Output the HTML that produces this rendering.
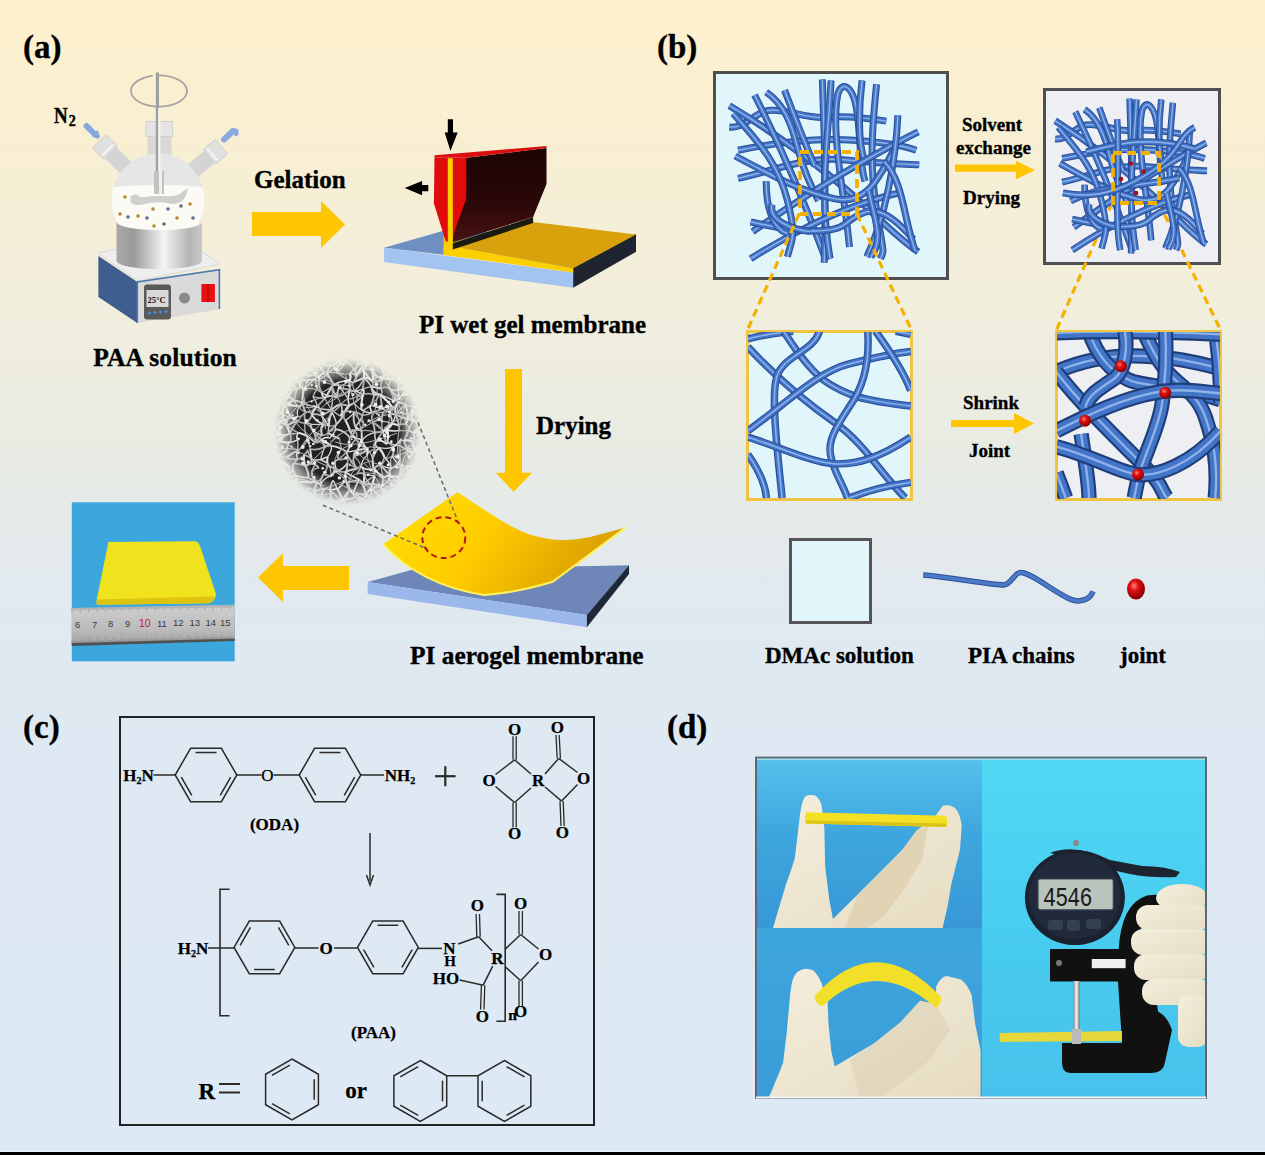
<!DOCTYPE html>
<html><head><meta charset="utf-8">
<style>
html,body{margin:0;padding:0;width:1265px;height:1155px;overflow:hidden;}
body{background:#dde9f4;}
svg{display:block;}
.t{font-family:"Liberation Serif",serif;font-weight:bold;fill:#000;stroke:#000;stroke-width:0.35px;}
</style></head>
<body>
<svg width="1265" height="1155" viewBox="0 0 1265 1155">
<defs>
<linearGradient id="bg" x1="0" y1="0" x2="0" y2="1">
<stop offset="0" stop-color="#fdf0cc"/>
<stop offset="0.13" stop-color="#f8efd3"/>
<stop offset="0.26" stop-color="#f1eedc"/>
<stop offset="0.4" stop-color="#e8ebe4"/>
<stop offset="0.5" stop-color="#e2e9ee"/>
<stop offset="0.58" stop-color="#dfe9f2"/>
<stop offset="1" stop-color="#dde9f5"/>
</linearGradient>
</defs>
<rect x="0" y="0" width="1265" height="1155" fill="url(#bg)"/>
<rect x="0" y="1150.8" width="1265" height="1.2" fill="#eaf6fd"/>
<rect x="0" y="1152" width="1265" height="3" fill="#000"/>


<!-- FLASK -->
<defs>
<linearGradient id="metal" x1="0" y1="0" x2="1" y2="0">
<stop offset="0" stop-color="#a9a9a9"/><stop offset="0.2" stop-color="#9a9a9a"/><stop offset="0.55" stop-color="#f4f4f4"/><stop offset="0.85" stop-color="#b5b5b5"/><stop offset="1" stop-color="#c8c8c8"/>
</linearGradient>
<linearGradient id="glass" x1="0" y1="0" x2="1" y2="0">
<stop offset="0" stop-color="#d0d0d0"/><stop offset="0.5" stop-color="#ececec"/><stop offset="1" stop-color="#d4d4d4"/>
</linearGradient>
<clipPath id="sphclip"><circle cx="158" cy="200" r="46.5"/></clipPath>
</defs>
<g>
<ellipse cx="159" cy="91" rx="28" ry="15.6" fill="none" stroke="#a4a4a4" stroke-width="1.8" stroke-dasharray="98 6 200"/>
<!-- necks -->
<g transform="rotate(-45 158 200)">
<rect x="150" y="132" width="16" height="40" fill="#d4d4d4"/>
<rect x="148.5" y="117" width="19" height="16" fill="#e0e0e0" stroke="#c8c8c8" stroke-width="0.8"/>
<rect x="150" y="128" width="16" height="2" fill="#f4f4f4"/>
</g>
<g transform="rotate(50 158 200)">
<rect x="150" y="132" width="16" height="40" fill="#d4d4d4"/>
<rect x="148.5" y="117" width="19" height="16" fill="#e0e0e0" stroke="#c8c8c8" stroke-width="0.8"/>
<rect x="150" y="128" width="16" height="2" fill="#f4f4f4"/>
</g>
<rect x="147.5" y="135" width="24" height="28" fill="#d8d8d8"/>
<rect x="146" y="121.5" width="26.5" height="15" fill="#e4e4e4" stroke="#cfcfcf" stroke-width="1"/>
<circle cx="158" cy="200" r="46.5" fill="#e6e6e6"/>
<g clip-path="url(#sphclip)">
<path d="M100 188 Q158 182 216 188 V260 H100 Z" fill="#fbfaf5"/>
<path d="M131 196 Q128 206 140 205 Q158 200 172 204 Q186 204 188 188 L182 192 Q178 197 165 196 L152 196 Q138 199 136 194 Z" fill="#cfcfcf"/>
</g>
<rect x="155.8" y="72.5" width="3.2" height="100" fill="#a0a0a0"/>
<rect x="158.2" y="108" width="2.2" height="64" fill="#f6f6f6"/>
<rect x="154" y="171" width="10" height="23" fill="#c2c2c2"/>
<rect x="159" y="171" width="3" height="23" fill="#f0f0f0"/>
<g fill="#b58a2a">
<circle cx="125" cy="197" r="1.8"/><circle cx="153" cy="209" r="1.8"/><circle cx="190" cy="204" r="1.8"/><circle cx="138" cy="216" r="1.8"/><circle cx="177" cy="218" r="1.8"/><circle cx="154" cy="226" r="1.8"/><circle cx="120" cy="214" r="1.8"/>
</g>
<g fill="#55708c">
<circle cx="168" cy="209" r="1.8"/><circle cx="181" cy="206" r="1.8"/><circle cx="128" cy="217" r="1.8"/><circle cx="147" cy="218" r="1.8"/><circle cx="164" cy="224" r="1.8"/><circle cx="193" cy="218" r="1.8"/>
</g>
<path d="M86.5 126 L95 134.5" stroke="#86a8dc" stroke-width="6" stroke-linecap="round"/><polygon points="91.5,136 97.5,130 100.2,136.5 98,139" fill="#86a8dc"/>
<path d="M224 139.5 L233 131" stroke="#8aa8dc" stroke-width="6" stroke-linecap="round"/><polygon points="230.5,129.5 236,128.3 238.6,130 238.5,135 235.5,136.5" fill="#8aa8dc"/>
<!-- hot plate -->
<polygon points="98,253 180,236 219.5,264 137.5,281" fill="#eeeeee" stroke="#d8d8d8" stroke-width="1"/>
<path d="M116.5 222 V261 A42.75 8 0 0 0 202 261 V222 A42.75 8 0 0 1 116.5 222 Z" fill="url(#metal)"/>
<polygon points="98.4,256 137.3,282 137.3,323 98.4,297" fill="#3f5d8e"/>
<polygon points="137.3,282 219.4,269.8 219.4,309.2 137.3,323" fill="#dadada"/>
<polyline points="137.3,323 137.3,282 219.4,269.8 219.4,309" fill="none" stroke="#4f78b0" stroke-width="1.6"/>
<rect x="144" y="284.5" width="27" height="35" rx="3" fill="#5a5a5a"/>
<rect x="146.5" y="290" width="22" height="17" fill="#d8d8d8"/>
<text x="147.5" y="303" font-family="Liberation Serif" font-weight="bold" font-size="8.5" fill="#111">25°C</text>
<g fill="#4a8ae0"><circle cx="149.5" cy="313" r="1.5"/><circle cx="155" cy="312.5" r="1.5"/><circle cx="160.5" cy="312" r="1.5"/><circle cx="166" cy="311.5" r="1.5"/></g>
<circle cx="184.5" cy="298" r="5.5" fill="#8a8a8a"/>
<rect x="201.4" y="284" width="13.5" height="18" fill="#e81010"/>
<rect x="207.5" y="284" width="1" height="18" fill="#a80000"/>
</g>


<!-- BLADE -->
<defs>
<linearGradient id="bladeg" x1="0" y1="0" x2="0" y2="1">
<stop offset="0" stop-color="#1c0404"/><stop offset="0.6" stop-color="#2c0808"/><stop offset="1" stop-color="#4a1212"/>
</linearGradient>
</defs>
<g>
<polygon points="384.1,247.7 441.7,231.3 630,234 573.2,270" fill="#6f8fc2"/>
<polygon points="384.1,247.7 573.2,272.4 573.2,287.8 384.1,262.1" fill="#a3c3f0"/>
<polygon points="573.2,268 636,234 636,251.8 573.2,287.8" fill="#1e2530"/>
<polygon points="443.7,244.6 533.1,222 636,234.4 573.2,268.3" fill="#d9a20c"/>
<polygon points="443.7,244.6 573.2,268.3 573.2,272.4 443.7,254.9" fill="#fcd000"/>
<polygon points="443.7,236 453,236 453,248 443.7,254.9" fill="#fcd000"/>
<polygon points="466.3,157.7 546.5,148 546.5,184 533.1,216.9 452,242.6" fill="url(#bladeg)"/>
<polygon points="452,243.6 533.1,216.9 533.1,223 452,249.8" fill="#1a1a10"/>
<polygon points="434.5,157.3 434.5,155.3 546.5,146 546.5,148 466.3,157.7" fill="#d81010"/>
<polygon points="434.5,157.3 466.3,157.7 466.3,198.4 450.9,241.6 445.8,241.6 433.9,203.5" fill="#e00c0c"/>
<rect x="447.8" y="158.3" width="5" height="91.5" fill="#fcd000"/>
<polygon points="447.8,119.2 453,119.2 453,132.6 457.7,132.6 450.4,151.1 444.7,132.6 447.8,132.6" fill="#000"/>
<polygon points="404.7,188.1 422.1,180.9 422.1,185 428.3,185 428.3,191.2 422.1,191.2 422.1,195.3" fill="#000"/>
</g>


<!-- SEM -->
<defs>
<radialGradient id="semfade" cx="0.5" cy="0.5" r="0.5">
<stop offset="0" stop-color="#fff"/><stop offset="0.68" stop-color="#fff"/><stop offset="0.88" stop-color="#999"/><stop offset="1" stop-color="#000"/>
</radialGradient>
<radialGradient id="semedge" cx="0.5" cy="0.5" r="0.5">
<stop offset="0" stop-color="#fff" stop-opacity="0"/><stop offset="0.7" stop-color="#fff" stop-opacity="0"/><stop offset="1" stop-color="#e8e8e8" stop-opacity="0.75"/>
</radialGradient>
<mask id="semmask" maskUnits="userSpaceOnUse" x="260" y="345" width="175" height="175"><circle cx="347.5" cy="432" r="74" fill="url(#semfade)"/></mask>
</defs>
<g mask="url(#semmask)">
<circle cx="347.5" cy="432" r="74" fill="#222"/>
<path d="M263.4 348.7 Q263.5 352.3 264.6 358.6" stroke="#aaaaaa" stroke-width="1.8" fill="none"/><path d="M264.6 358.6 Q264.3 353.5 268.5 352.5" stroke="#aaaaaa" stroke-width="1.2" fill="none"/><path d="M264.6 358.6 Q263.7 365.2 264.2 367.0" stroke="#c0c0c0" stroke-width="1.5" fill="none"/><path d="M264.2 367.0 Q265.8 365.6 269.6 364.7" stroke="#aaaaaa" stroke-width="1.5" fill="none"/><path d="M264.2 367.0 Q260.9 370.3 259.2 372.3" stroke="#d4d4d4" stroke-width="1.5" fill="none"/><path d="M264.2 367.0 Q264.1 360.6 268.5 352.5" stroke="#e4e4e4" stroke-width="1.5" fill="none"/><path d="M259.2 372.3 Q263.5 375.9 267.5 373.7" stroke="#d4d4d4" stroke-width="1.8" fill="none"/><path d="M259.2 372.3 Q263.3 376.4 265.6 382.0" stroke="#e4e4e4" stroke-width="2.1" fill="none"/><path d="M265.6 382.0 Q266.5 382.8 273.2 389.4" stroke="#aaaaaa" stroke-width="1.5" fill="none"/><path d="M265.6 382.0 Q267.6 375.2 267.5 373.7" stroke="#d4d4d4" stroke-width="1.5" fill="none"/><path d="M265.3 386.8 Q269.3 388.7 273.2 389.4" stroke="#e4e4e4" stroke-width="1.2" fill="none"/><path d="M265.3 386.8 Q268.7 394.6 269.7 397.9" stroke="#d4d4d4" stroke-width="1.8" fill="none"/><path d="M262.3 396.2 Q263.7 399.5 269.7 397.9" stroke="#e4e4e4" stroke-width="2.1" fill="none"/><path d="M262.3 396.2 Q270.3 390.3 273.2 389.4" stroke="#aaaaaa" stroke-width="1.2" fill="none"/><path d="M262.8 407.0 Q267.8 404.5 272.4 403.4" stroke="#e4e4e4" stroke-width="1.8" fill="none"/><path d="M262.8 407.0 Q267.7 409.3 274.3 411.7" stroke="#c0c0c0" stroke-width="2.1" fill="none"/><path d="M262.8 407.0 Q267.7 400.1 269.7 397.9" stroke="#c0c0c0" stroke-width="1.8" fill="none"/><path d="M259.1 413.0 Q258.7 421.4 261.0 426.4" stroke="#d4d4d4" stroke-width="1.8" fill="none"/><path d="M259.1 413.0 Q263.1 418.0 272.7 425.9" stroke="#c0c0c0" stroke-width="1.5" fill="none"/><path d="M261.0 426.4 Q269.1 428.7 272.7 425.9" stroke="#c0c0c0" stroke-width="1.5" fill="none"/><path d="M261.0 426.4 Q265.1 427.1 264.4 429.6" stroke="#d4d4d4" stroke-width="1.2" fill="none"/><path d="M264.4 429.6 Q267.0 432.7 267.6 434.0" stroke="#d4d4d4" stroke-width="2.1" fill="none"/><path d="M264.4 429.6 Q265.8 434.5 264.6 438.0" stroke="#c0c0c0" stroke-width="1.2" fill="none"/><path d="M264.6 438.0 Q264.6 440.8 270.1 441.0" stroke="#e4e4e4" stroke-width="1.2" fill="none"/><path d="M264.6 438.0 Q265.5 434.8 267.6 434.0" stroke="#aaaaaa" stroke-width="1.8" fill="none"/><path d="M263.3 446.4 Q267.7 445.0 267.6 445.8" stroke="#aaaaaa" stroke-width="2.1" fill="none"/><path d="M263.3 446.4 Q262.1 455.9 259.0 460.1" stroke="#e4e4e4" stroke-width="1.5" fill="none"/><path d="M263.3 446.4 Q269.7 444.6 270.1 441.0" stroke="#aaaaaa" stroke-width="2.1" fill="none"/><path d="M259.0 460.1 Q261.7 460.3 268.8 460.7" stroke="#aaaaaa" stroke-width="1.8" fill="none"/><path d="M259.0 460.1 Q262.6 463.9 268.9 467.8" stroke="#c0c0c0" stroke-width="1.5" fill="none"/><path d="M260.5 464.0 Q266.4 467.9 268.9 467.8" stroke="#e4e4e4" stroke-width="1.2" fill="none"/><path d="M260.5 464.0 Q262.7 472.6 265.9 477.1" stroke="#e4e4e4" stroke-width="2.1" fill="none"/><path d="M265.9 477.1 Q265.1 480.7 261.0 486.2" stroke="#d4d4d4" stroke-width="1.8" fill="none"/><path d="M261.0 486.2 Q268.3 483.4 269.9 482.0" stroke="#e4e4e4" stroke-width="1.8" fill="none"/><path d="M261.0 486.2 Q264.0 491.8 262.8 492.7" stroke="#e4e4e4" stroke-width="1.2" fill="none"/><path d="M262.8 492.7 Q259.0 495.3 260.4 503.1" stroke="#d4d4d4" stroke-width="1.2" fill="none"/><path d="M260.4 503.1 Q262.0 501.9 268.3 501.7" stroke="#c0c0c0" stroke-width="2.1" fill="none"/><path d="M260.4 503.1 Q262.5 506.2 263.8 511.8" stroke="#d4d4d4" stroke-width="1.8" fill="none"/><path d="M263.8 511.8 Q266.1 513.0 273.1 511.0" stroke="#d4d4d4" stroke-width="1.2" fill="none"/><path d="M263.8 511.8 Q267.5 513.9 265.3 515.6" stroke="#aaaaaa" stroke-width="1.2" fill="none"/><path d="M263.8 511.8 Q266.1 518.8 267.8 520.1" stroke="#aaaaaa" stroke-width="1.2" fill="none"/><path d="M263.8 511.8 Q266.1 509.3 268.3 501.7" stroke="#aaaaaa" stroke-width="1.5" fill="none"/><path d="M270.0 344.7 Q267.1 345.9 268.5 352.5" stroke="#aaaaaa" stroke-width="1.8" fill="none"/><path d="M268.5 352.5 Q269.1 357.3 269.6 364.7" stroke="#e4e4e4" stroke-width="2.1" fill="none"/><path d="M269.6 364.7 Q271.8 364.1 278.4 367.0" stroke="#d4d4d4" stroke-width="2.1" fill="none"/><path d="M269.6 364.7 Q272.7 365.5 279.8 371.2" stroke="#aaaaaa" stroke-width="1.8" fill="none"/><path d="M267.5 373.7 Q269.9 374.3 269.9 379.7" stroke="#e4e4e4" stroke-width="1.8" fill="none"/><path d="M269.9 379.7 Q272.3 376.3 278.2 378.7" stroke="#aaaaaa" stroke-width="2.1" fill="none"/><path d="M273.2 389.4 Q272.2 386.9 276.5 387.0" stroke="#aaaaaa" stroke-width="1.8" fill="none"/><path d="M273.2 389.4 Q274.3 391.4 269.7 397.9" stroke="#c0c0c0" stroke-width="1.2" fill="none"/><path d="M273.2 389.4 Q279.7 394.3 280.8 401.5" stroke="#aaaaaa" stroke-width="1.8" fill="none"/><path d="M269.7 397.9 Q270.1 402.0 272.4 403.4" stroke="#e4e4e4" stroke-width="1.2" fill="none"/><path d="M269.7 397.9 Q273.4 397.6 277.1 403.3" stroke="#aaaaaa" stroke-width="2.1" fill="none"/><path d="M272.4 403.4 Q275.0 403.2 277.1 403.3" stroke="#d4d4d4" stroke-width="1.5" fill="none"/><path d="M272.4 403.4 Q271.4 407.6 274.3 411.7" stroke="#aaaaaa" stroke-width="1.2" fill="none"/><path d="M274.3 411.7 Q277.3 410.5 282.9 415.2" stroke="#c0c0c0" stroke-width="1.2" fill="none"/><path d="M274.3 411.7 Q273.6 418.4 272.7 425.9" stroke="#e4e4e4" stroke-width="1.5" fill="none"/><path d="M272.7 425.9 Q277.3 423.5 278.8 421.7" stroke="#d4d4d4" stroke-width="1.8" fill="none"/><path d="M272.7 425.9 Q267.2 429.5 267.6 434.0" stroke="#aaaaaa" stroke-width="1.2" fill="none"/><path d="M272.7 425.9 Q274.6 428.1 280.2 434.3" stroke="#aaaaaa" stroke-width="2.1" fill="none"/><path d="M267.6 434.0 Q271.0 435.9 280.2 434.3" stroke="#aaaaaa" stroke-width="1.5" fill="none"/><path d="M267.6 434.0 Q271.2 440.5 270.1 441.0" stroke="#c0c0c0" stroke-width="1.2" fill="none"/><path d="M267.6 434.0 Q273.4 430.2 278.8 421.7" stroke="#c0c0c0" stroke-width="1.5" fill="none"/><path d="M270.1 441.0 Q271.8 437.8 279.2 440.0" stroke="#c0c0c0" stroke-width="2.1" fill="none"/><path d="M270.1 441.0 Q270.4 441.1 267.6 445.8" stroke="#aaaaaa" stroke-width="1.5" fill="none"/><path d="M270.1 441.0 Q272.6 446.2 276.4 451.9" stroke="#aaaaaa" stroke-width="1.2" fill="none"/><path d="M270.1 441.0 Q275.3 435.9 280.2 434.3" stroke="#e4e4e4" stroke-width="1.2" fill="none"/><path d="M268.8 460.7 Q273.4 461.4 276.2 457.5" stroke="#aaaaaa" stroke-width="1.5" fill="none"/><path d="M268.8 460.7 Q269.3 465.5 268.9 467.8" stroke="#d4d4d4" stroke-width="1.5" fill="none"/><path d="M268.9 467.8 Q276.2 466.9 281.9 463.4" stroke="#aaaaaa" stroke-width="1.8" fill="none"/><path d="M268.9 467.8 Q272.8 463.9 276.2 457.5" stroke="#d4d4d4" stroke-width="1.2" fill="none"/><path d="M274.0 477.6 Q277.4 479.6 281.1 477.6" stroke="#e4e4e4" stroke-width="1.2" fill="none"/><path d="M274.0 477.6 Q271.2 482.7 269.9 482.0" stroke="#e4e4e4" stroke-width="2.1" fill="none"/><path d="M274.0 477.6 Q277.6 483.6 280.4 485.0" stroke="#e4e4e4" stroke-width="2.1" fill="none"/><path d="M274.0 477.6 Q277.5 470.1 281.9 463.4" stroke="#d4d4d4" stroke-width="1.5" fill="none"/><path d="M269.9 482.0 Q272.8 483.6 280.4 485.0" stroke="#aaaaaa" stroke-width="1.5" fill="none"/><path d="M269.9 482.0 Q271.5 486.6 271.2 493.4" stroke="#d4d4d4" stroke-width="1.8" fill="none"/><path d="M268.3 501.7 Q272.8 499.6 277.0 502.4" stroke="#d4d4d4" stroke-width="1.2" fill="none"/><path d="M268.3 501.7 Q272.9 504.7 273.1 511.0" stroke="#e4e4e4" stroke-width="1.5" fill="none"/><path d="M273.1 511.0 Q278.4 509.7 278.1 508.2" stroke="#e4e4e4" stroke-width="1.2" fill="none"/><path d="M273.1 511.0 Q267.9 514.8 267.8 520.1" stroke="#aaaaaa" stroke-width="1.2" fill="none"/><path d="M273.1 511.0 Q278.8 514.8 283.0 519.5" stroke="#e4e4e4" stroke-width="1.5" fill="none"/><path d="M267.8 520.1 Q274.3 521.8 283.0 519.5" stroke="#aaaaaa" stroke-width="1.8" fill="none"/><path d="M267.8 520.1 Q275.7 515.3 278.1 508.2" stroke="#d4d4d4" stroke-width="1.5" fill="none"/><path d="M276.6 345.9 Q278.2 354.5 280.3 358.4" stroke="#e4e4e4" stroke-width="1.2" fill="none"/><path d="M280.3 358.4 Q283.8 358.7 287.9 357.1" stroke="#aaaaaa" stroke-width="2.1" fill="none"/><path d="M280.3 358.4 Q276.7 361.6 278.4 367.0" stroke="#d4d4d4" stroke-width="1.8" fill="none"/><path d="M278.4 367.0 Q276.2 366.9 279.8 371.2" stroke="#e4e4e4" stroke-width="1.2" fill="none"/><path d="M279.8 371.2 Q280.9 373.1 287.3 370.0" stroke="#e4e4e4" stroke-width="1.8" fill="none"/><path d="M279.8 371.2 Q280.0 372.2 278.2 378.7" stroke="#aaaaaa" stroke-width="1.8" fill="none"/><path d="M279.8 371.2 Q282.5 379.0 287.1 384.4" stroke="#aaaaaa" stroke-width="2.1" fill="none"/><path d="M278.2 378.7 Q277.2 381.8 276.5 387.0" stroke="#d4d4d4" stroke-width="1.2" fill="none"/><path d="M278.2 378.7 Q285.3 373.4 287.3 370.0" stroke="#d4d4d4" stroke-width="2.1" fill="none"/><path d="M276.5 387.0 Q283.6 387.3 291.2 390.4" stroke="#c0c0c0" stroke-width="2.1" fill="none"/><path d="M276.5 387.0 Q276.8 397.2 280.8 401.5" stroke="#d4d4d4" stroke-width="2.1" fill="none"/><path d="M276.5 387.0 Q279.8 388.2 287.1 384.4" stroke="#aaaaaa" stroke-width="1.2" fill="none"/><path d="M280.8 401.5 Q281.6 401.1 288.0 396.9" stroke="#aaaaaa" stroke-width="1.5" fill="none"/><path d="M280.8 401.5 Q281.2 403.4 277.1 403.3" stroke="#d4d4d4" stroke-width="1.2" fill="none"/><path d="M277.1 403.3 Q281.8 402.1 285.1 404.9" stroke="#d4d4d4" stroke-width="1.2" fill="none"/><path d="M277.1 403.3 Q277.2 409.1 282.9 415.2" stroke="#c0c0c0" stroke-width="1.2" fill="none"/><path d="M282.9 415.2 Q285.3 415.6 290.0 417.6" stroke="#d4d4d4" stroke-width="1.2" fill="none"/><path d="M282.9 415.2 Q282.4 416.1 278.8 421.7" stroke="#e4e4e4" stroke-width="1.2" fill="none"/><path d="M282.9 415.2 Q282.4 418.0 287.0 425.5" stroke="#e4e4e4" stroke-width="1.8" fill="none"/><path d="M282.9 415.2 Q282.0 408.7 285.1 404.9" stroke="#d4d4d4" stroke-width="2.1" fill="none"/><path d="M278.8 421.7 Q284.3 423.5 287.0 425.5" stroke="#d4d4d4" stroke-width="1.8" fill="none"/><path d="M278.8 421.7 Q277.9 425.3 280.2 434.3" stroke="#c0c0c0" stroke-width="2.1" fill="none"/><path d="M278.8 421.7 Q284.3 420.7 290.0 417.6" stroke="#d4d4d4" stroke-width="2.1" fill="none"/><path d="M280.2 434.3 Q286.5 436.4 289.9 433.4" stroke="#e4e4e4" stroke-width="1.8" fill="none"/><path d="M280.2 434.3 Q280.4 434.2 279.2 440.0" stroke="#d4d4d4" stroke-width="1.8" fill="none"/><path d="M279.2 440.0 Q282.5 443.2 289.1 442.3" stroke="#e4e4e4" stroke-width="2.1" fill="none"/><path d="M279.2 440.0 Q274.8 446.4 276.4 451.9" stroke="#c0c0c0" stroke-width="1.2" fill="none"/><path d="M279.2 440.0 Q283.0 436.0 289.9 433.4" stroke="#c0c0c0" stroke-width="1.8" fill="none"/><path d="M276.4 451.9 Q277.9 452.7 276.2 457.5" stroke="#aaaaaa" stroke-width="1.5" fill="none"/><path d="M276.2 457.5 Q278.8 455.5 286.5 457.4" stroke="#aaaaaa" stroke-width="1.2" fill="none"/><path d="M276.2 457.5 Q279.9 460.8 281.9 463.4" stroke="#d4d4d4" stroke-width="1.8" fill="none"/><path d="M276.2 457.5 Q281.0 460.4 289.9 467.3" stroke="#e4e4e4" stroke-width="2.1" fill="none"/><path d="M276.2 457.5 Q281.5 454.5 287.0 450.4" stroke="#e4e4e4" stroke-width="1.5" fill="none"/><path d="M281.9 463.4 Q286.2 466.2 289.9 467.3" stroke="#d4d4d4" stroke-width="1.2" fill="none"/><path d="M281.9 463.4 Q284.5 468.7 286.6 477.6" stroke="#c0c0c0" stroke-width="1.8" fill="none"/><path d="M281.1 477.6 Q279.9 482.5 280.4 485.0" stroke="#c0c0c0" stroke-width="1.2" fill="none"/><path d="M280.4 485.0 Q280.4 485.4 276.7 491.0" stroke="#aaaaaa" stroke-width="2.1" fill="none"/><path d="M276.7 491.0 Q285.8 486.7 289.0 483.6" stroke="#d4d4d4" stroke-width="1.5" fill="none"/><path d="M277.0 502.4 Q282.6 500.8 286.3 501.2" stroke="#c0c0c0" stroke-width="1.8" fill="none"/><path d="M277.0 502.4 Q279.4 506.4 278.1 508.2" stroke="#c0c0c0" stroke-width="2.1" fill="none"/><path d="M278.1 508.2 Q281.3 510.1 287.7 510.7" stroke="#d4d4d4" stroke-width="1.8" fill="none"/><path d="M278.1 508.2 Q283.5 513.8 289.0 519.1" stroke="#c0c0c0" stroke-width="2.1" fill="none"/><path d="M283.0 519.5 Q286.8 517.7 289.0 519.1" stroke="#c0c0c0" stroke-width="1.8" fill="none"/><path d="M291.3 346.7 Q291.3 345.1 295.4 348.0" stroke="#aaaaaa" stroke-width="2.1" fill="none"/><path d="M291.3 346.7 Q291.4 354.1 287.9 357.1" stroke="#c0c0c0" stroke-width="1.2" fill="none"/><path d="M287.9 357.1 Q294.2 360.2 298.2 357.8" stroke="#d4d4d4" stroke-width="1.2" fill="none"/><path d="M287.9 357.1 Q289.4 349.7 295.4 348.0" stroke="#aaaaaa" stroke-width="1.8" fill="none"/><path d="M287.9 362.5 Q294.5 364.4 295.5 366.4" stroke="#aaaaaa" stroke-width="1.8" fill="none"/><path d="M287.9 362.5 Q290.3 365.2 287.3 370.0" stroke="#aaaaaa" stroke-width="1.2" fill="none"/><path d="M287.9 362.5 Q293.8 366.7 299.1 373.8" stroke="#e4e4e4" stroke-width="1.5" fill="none"/><path d="M287.3 370.0 Q294.2 372.3 299.1 373.8" stroke="#aaaaaa" stroke-width="1.5" fill="none"/><path d="M287.3 370.0 Q285.8 376.4 287.1 384.4" stroke="#d4d4d4" stroke-width="1.8" fill="none"/><path d="M287.3 370.0 Q291.5 376.0 299.8 384.2" stroke="#c0c0c0" stroke-width="1.8" fill="none"/><path d="M287.1 384.4 Q289.5 385.9 291.2 390.4" stroke="#e4e4e4" stroke-width="1.2" fill="none"/><path d="M287.1 384.4 Q293.6 384.7 296.6 389.7" stroke="#aaaaaa" stroke-width="1.8" fill="none"/><path d="M291.2 390.4 Q296.2 389.0 296.6 389.7" stroke="#c0c0c0" stroke-width="1.2" fill="none"/><path d="M291.2 390.4 Q290.5 392.9 288.0 396.9" stroke="#d4d4d4" stroke-width="1.8" fill="none"/><path d="M288.0 396.9 Q288.6 396.2 294.2 400.4" stroke="#e4e4e4" stroke-width="1.8" fill="none"/><path d="M288.0 396.9 Q284.4 402.2 285.1 404.9" stroke="#c0c0c0" stroke-width="1.8" fill="none"/><path d="M285.1 404.9 Q289.8 405.2 299.6 406.3" stroke="#d4d4d4" stroke-width="2.1" fill="none"/><path d="M285.1 404.9 Q289.0 414.2 290.0 417.6" stroke="#d4d4d4" stroke-width="1.8" fill="none"/><path d="M285.1 404.9 Q292.6 400.3 294.2 400.4" stroke="#c0c0c0" stroke-width="2.1" fill="none"/><path d="M290.0 417.6 Q294.9 418.1 297.8 416.5" stroke="#e4e4e4" stroke-width="1.5" fill="none"/><path d="M290.0 417.6 Q285.7 419.3 287.0 425.5" stroke="#aaaaaa" stroke-width="2.1" fill="none"/><path d="M290.0 417.6 Q295.1 418.4 298.1 421.2" stroke="#c0c0c0" stroke-width="1.8" fill="none"/><path d="M287.0 425.5 Q290.9 423.3 298.1 421.2" stroke="#e4e4e4" stroke-width="1.2" fill="none"/><path d="M287.0 425.5 Q289.2 432.2 289.9 433.4" stroke="#e4e4e4" stroke-width="2.1" fill="none"/><path d="M287.0 425.5 Q295.1 431.7 298.5 432.6" stroke="#c0c0c0" stroke-width="1.2" fill="none"/><path d="M287.0 425.5 Q292.5 423.2 297.8 416.5" stroke="#c0c0c0" stroke-width="1.5" fill="none"/><path d="M289.9 433.4 Q295.3 434.6 298.5 432.6" stroke="#aaaaaa" stroke-width="1.5" fill="none"/><path d="M289.9 433.4 Q292.2 440.7 289.1 442.3" stroke="#aaaaaa" stroke-width="1.5" fill="none"/><path d="M289.9 433.4 Q293.2 425.0 298.1 421.2" stroke="#aaaaaa" stroke-width="1.8" fill="none"/><path d="M289.1 442.3 Q293.2 442.1 297.7 439.9" stroke="#e4e4e4" stroke-width="1.5" fill="none"/><path d="M289.1 442.3 Q286.8 447.3 287.0 450.4" stroke="#e4e4e4" stroke-width="1.2" fill="none"/><path d="M286.5 457.4 Q291.5 460.2 297.5 459.0" stroke="#c0c0c0" stroke-width="1.5" fill="none"/><path d="M286.5 457.4 Q294.2 451.7 297.4 450.9" stroke="#c0c0c0" stroke-width="2.1" fill="none"/><path d="M289.9 467.3 Q288.1 473.8 286.6 477.6" stroke="#aaaaaa" stroke-width="1.5" fill="none"/><path d="M286.6 477.6 Q290.6 475.5 296.1 475.6" stroke="#c0c0c0" stroke-width="1.8" fill="none"/><path d="M286.6 477.6 Q286.8 482.6 289.0 483.6" stroke="#e4e4e4" stroke-width="2.1" fill="none"/><path d="M286.6 477.6 Q292.2 473.0 293.2 463.6" stroke="#aaaaaa" stroke-width="1.8" fill="none"/><path d="M289.0 483.6 Q292.6 483.1 294.5 484.3" stroke="#e4e4e4" stroke-width="1.2" fill="none"/><path d="M289.0 483.6 Q287.5 487.7 284.6 491.8" stroke="#aaaaaa" stroke-width="1.5" fill="none"/><path d="M284.6 491.8 Q292.7 492.6 297.4 488.3" stroke="#d4d4d4" stroke-width="1.5" fill="none"/><path d="M284.6 491.8 Q286.9 496.6 286.3 501.2" stroke="#e4e4e4" stroke-width="1.8" fill="none"/><path d="M286.3 501.2 Q289.7 507.1 287.7 510.7" stroke="#d4d4d4" stroke-width="1.5" fill="none"/><path d="M287.7 510.7 Q293.5 507.2 293.4 505.9" stroke="#c0c0c0" stroke-width="2.1" fill="none"/><path d="M287.7 510.7 Q286.2 516.9 289.0 519.1" stroke="#e4e4e4" stroke-width="2.1" fill="none"/><path d="M289.0 519.1 Q291.1 519.8 295.2 514.8" stroke="#aaaaaa" stroke-width="2.1" fill="none"/><path d="M295.4 348.0 Q298.5 354.7 298.2 357.8" stroke="#d4d4d4" stroke-width="1.2" fill="none"/><path d="M298.2 357.8 Q298.9 365.0 295.5 366.4" stroke="#aaaaaa" stroke-width="2.1" fill="none"/><path d="M298.2 357.8 Q302.6 360.1 305.8 364.6" stroke="#e4e4e4" stroke-width="1.2" fill="none"/><path d="M295.5 366.4 Q302.8 361.8 304.8 354.7" stroke="#aaaaaa" stroke-width="1.5" fill="none"/><path d="M299.1 373.8 Q298.1 379.8 299.8 384.2" stroke="#c0c0c0" stroke-width="1.2" fill="none"/><path d="M299.1 373.8 Q304.0 367.5 305.8 364.6" stroke="#aaaaaa" stroke-width="1.2" fill="none"/><path d="M299.8 384.2 Q297.7 382.8 301.5 380.3" stroke="#c0c0c0" stroke-width="1.5" fill="none"/><path d="M299.8 384.2 Q300.6 387.0 296.6 389.7" stroke="#aaaaaa" stroke-width="1.8" fill="none"/><path d="M299.8 384.2 Q299.5 386.4 303.4 388.9" stroke="#e4e4e4" stroke-width="2.1" fill="none"/><path d="M299.8 384.2 Q299.3 381.9 303.2 375.3" stroke="#e4e4e4" stroke-width="1.5" fill="none"/><path d="M296.6 389.7 Q299.4 386.5 303.4 388.9" stroke="#c0c0c0" stroke-width="1.8" fill="none"/><path d="M296.6 389.7 Q295.1 394.9 294.2 400.4" stroke="#aaaaaa" stroke-width="1.5" fill="none"/><path d="M294.2 400.4 Q296.4 405.7 299.6 406.3" stroke="#d4d4d4" stroke-width="1.2" fill="none"/><path d="M294.2 400.4 Q301.0 402.0 304.1 403.3" stroke="#c0c0c0" stroke-width="1.8" fill="none"/><path d="M299.6 406.3 Q296.2 410.1 297.8 416.5" stroke="#d4d4d4" stroke-width="1.2" fill="none"/><path d="M299.6 406.3 Q300.1 410.3 305.8 412.2" stroke="#c0c0c0" stroke-width="1.2" fill="none"/><path d="M299.6 406.3 Q303.6 403.3 302.3 400.3" stroke="#e4e4e4" stroke-width="2.1" fill="none"/><path d="M297.8 416.5 Q301.0 417.2 305.8 412.2" stroke="#c0c0c0" stroke-width="1.2" fill="none"/><path d="M298.1 421.2 Q303.1 424.2 305.3 422.4" stroke="#aaaaaa" stroke-width="1.5" fill="none"/><path d="M298.1 421.2 Q302.6 413.8 305.8 412.2" stroke="#aaaaaa" stroke-width="1.5" fill="none"/><path d="M298.5 432.6 Q299.0 433.1 305.6 435.2" stroke="#e4e4e4" stroke-width="2.1" fill="none"/><path d="M298.5 432.6 Q295.5 436.6 297.7 439.9" stroke="#e4e4e4" stroke-width="1.5" fill="none"/><path d="M297.7 439.9 Q298.3 445.8 297.4 450.9" stroke="#d4d4d4" stroke-width="1.2" fill="none"/><path d="M297.4 450.9 Q295.8 454.8 297.5 459.0" stroke="#d4d4d4" stroke-width="1.5" fill="none"/><path d="M297.4 450.9 Q303.9 446.7 307.2 439.9" stroke="#aaaaaa" stroke-width="1.8" fill="none"/><path d="M297.5 459.0 Q300.0 459.6 304.1 455.0" stroke="#aaaaaa" stroke-width="1.5" fill="none"/><path d="M297.5 459.0 Q293.5 463.9 293.2 463.6" stroke="#c0c0c0" stroke-width="1.2" fill="none"/><path d="M293.2 463.6 Q300.5 463.7 305.7 466.4" stroke="#aaaaaa" stroke-width="1.5" fill="none"/><path d="M293.2 463.6 Q291.8 471.1 296.1 475.6" stroke="#c0c0c0" stroke-width="1.5" fill="none"/><path d="M296.1 475.6 Q302.4 477.8 308.2 477.8" stroke="#e4e4e4" stroke-width="1.5" fill="none"/><path d="M296.1 475.6 Q297.3 482.8 294.5 484.3" stroke="#e4e4e4" stroke-width="1.5" fill="none"/><path d="M294.5 484.3 Q302.0 480.5 305.8 482.0" stroke="#e4e4e4" stroke-width="1.8" fill="none"/><path d="M297.4 488.3 Q294.6 494.6 296.3 498.1" stroke="#e4e4e4" stroke-width="1.8" fill="none"/><path d="M297.4 488.3 Q299.5 496.5 302.3 500.5" stroke="#c0c0c0" stroke-width="2.1" fill="none"/><path d="M296.3 498.1 Q297.3 497.2 302.3 500.5" stroke="#e4e4e4" stroke-width="1.5" fill="none"/><path d="M296.3 498.1 Q294.4 499.2 293.4 505.9" stroke="#e4e4e4" stroke-width="1.8" fill="none"/><path d="M293.4 505.9 Q296.6 505.8 305.8 506.0" stroke="#e4e4e4" stroke-width="1.2" fill="none"/><path d="M295.2 514.8 Q303.2 517.6 305.9 519.7" stroke="#e4e4e4" stroke-width="2.1" fill="none"/><path d="M302.9 343.7 Q307.3 343.7 312.6 346.5" stroke="#d4d4d4" stroke-width="1.2" fill="none"/><path d="M302.9 343.7 Q303.4 348.4 304.8 354.7" stroke="#e4e4e4" stroke-width="1.5" fill="none"/><path d="M302.9 343.7 Q305.7 346.7 311.6 354.0" stroke="#c0c0c0" stroke-width="1.2" fill="none"/><path d="M304.8 354.7 Q306.2 355.1 311.6 354.0" stroke="#c0c0c0" stroke-width="1.8" fill="none"/><path d="M304.8 354.7 Q306.7 358.3 305.8 364.6" stroke="#aaaaaa" stroke-width="1.2" fill="none"/><path d="M305.8 364.6 Q306.3 370.8 303.2 375.3" stroke="#d4d4d4" stroke-width="1.5" fill="none"/><path d="M305.8 364.6 Q311.7 371.7 316.7 375.4" stroke="#c0c0c0" stroke-width="1.5" fill="none"/><path d="M305.8 364.6 Q306.7 358.4 311.6 354.0" stroke="#aaaaaa" stroke-width="1.5" fill="none"/><path d="M303.2 375.3 Q309.0 375.4 316.7 375.4" stroke="#c0c0c0" stroke-width="2.1" fill="none"/><path d="M301.5 380.3 Q310.0 380.5 314.2 379.3" stroke="#d4d4d4" stroke-width="1.8" fill="none"/><path d="M301.5 380.3 Q302.7 384.6 303.4 388.9" stroke="#c0c0c0" stroke-width="1.2" fill="none"/><path d="M303.4 388.9 Q309.1 387.6 316.9 389.5" stroke="#aaaaaa" stroke-width="1.2" fill="none"/><path d="M303.4 388.9 Q302.7 394.0 302.3 400.3" stroke="#e4e4e4" stroke-width="1.8" fill="none"/><path d="M303.4 388.9 Q311.1 382.6 314.2 379.3" stroke="#c0c0c0" stroke-width="1.5" fill="none"/><path d="M302.3 400.3 Q304.3 400.3 304.1 403.3" stroke="#aaaaaa" stroke-width="2.1" fill="none"/><path d="M304.1 403.3 Q310.7 407.0 316.9 406.4" stroke="#c0c0c0" stroke-width="1.8" fill="none"/><path d="M304.1 403.3 Q302.0 406.5 305.8 412.2" stroke="#c0c0c0" stroke-width="2.1" fill="none"/><path d="M305.8 412.2 Q310.5 410.6 312.0 414.8" stroke="#aaaaaa" stroke-width="1.8" fill="none"/><path d="M305.8 412.2 Q303.5 414.8 305.3 422.4" stroke="#aaaaaa" stroke-width="1.8" fill="none"/><path d="M305.8 412.2 Q312.5 412.2 316.9 406.4" stroke="#aaaaaa" stroke-width="1.5" fill="none"/><path d="M305.3 422.4 Q310.6 423.4 310.9 424.4" stroke="#d4d4d4" stroke-width="1.5" fill="none"/><path d="M305.3 422.4 Q304.1 426.2 305.6 435.2" stroke="#c0c0c0" stroke-width="1.2" fill="none"/><path d="M305.3 422.4 Q310.3 426.0 313.1 430.6" stroke="#aaaaaa" stroke-width="1.5" fill="none"/><path d="M305.3 422.4 Q310.2 420.3 312.0 414.8" stroke="#aaaaaa" stroke-width="2.1" fill="none"/><path d="M305.6 435.2 Q308.5 436.4 307.2 439.9" stroke="#c0c0c0" stroke-width="2.1" fill="none"/><path d="M305.6 435.2 Q313.5 440.7 315.5 442.8" stroke="#d4d4d4" stroke-width="1.8" fill="none"/><path d="M307.2 439.9 Q309.4 443.9 310.1 449.2" stroke="#aaaaaa" stroke-width="1.2" fill="none"/><path d="M307.2 450.0 Q308.0 451.0 304.1 455.0" stroke="#aaaaaa" stroke-width="2.1" fill="none"/><path d="M307.2 450.0 Q308.7 454.2 311.9 460.5" stroke="#c0c0c0" stroke-width="1.5" fill="none"/><path d="M304.1 455.0 Q310.9 456.7 311.9 460.5" stroke="#aaaaaa" stroke-width="1.8" fill="none"/><path d="M304.1 455.0 Q303.5 462.1 305.7 466.4" stroke="#e4e4e4" stroke-width="1.8" fill="none"/><path d="M305.7 466.4 Q308.7 462.6 315.5 464.2" stroke="#c0c0c0" stroke-width="2.1" fill="none"/><path d="M305.7 466.4 Q309.2 474.4 308.2 477.8" stroke="#d4d4d4" stroke-width="1.8" fill="none"/><path d="M305.7 466.4 Q311.6 462.5 311.9 460.5" stroke="#c0c0c0" stroke-width="1.8" fill="none"/><path d="M308.2 477.8 Q311.4 479.6 316.9 481.6" stroke="#c0c0c0" stroke-width="1.5" fill="none"/><path d="M305.8 482.0 Q313.2 483.0 316.9 481.6" stroke="#e4e4e4" stroke-width="2.1" fill="none"/><path d="M307.8 488.0 Q312.6 488.7 314.3 491.3" stroke="#aaaaaa" stroke-width="1.5" fill="none"/><path d="M307.8 488.0 Q306.5 495.4 302.3 500.5" stroke="#e4e4e4" stroke-width="1.5" fill="none"/><path d="M302.3 500.5 Q306.7 505.5 305.8 506.0" stroke="#d4d4d4" stroke-width="1.2" fill="none"/><path d="M302.3 500.5 Q306.4 500.3 315.2 505.8" stroke="#e4e4e4" stroke-width="2.1" fill="none"/><path d="M305.8 506.0 Q310.6 505.1 315.2 505.8" stroke="#aaaaaa" stroke-width="1.2" fill="none"/><path d="M305.8 506.0 Q312.8 508.8 315.3 515.6" stroke="#aaaaaa" stroke-width="1.8" fill="none"/><path d="M305.9 519.7 Q312.5 511.0 315.2 505.8" stroke="#c0c0c0" stroke-width="1.8" fill="none"/><path d="M311.6 354.0 Q318.2 353.0 320.6 355.7" stroke="#e4e4e4" stroke-width="1.5" fill="none"/><path d="M311.6 354.0 Q315.1 349.6 322.2 345.9" stroke="#c0c0c0" stroke-width="1.5" fill="none"/><path d="M316.8 363.2 Q318.8 369.2 316.7 375.4" stroke="#aaaaaa" stroke-width="1.5" fill="none"/><path d="M316.8 363.2 Q322.8 370.9 323.7 373.1" stroke="#c0c0c0" stroke-width="1.8" fill="none"/><path d="M316.7 375.4 Q319.2 376.8 323.7 373.1" stroke="#c0c0c0" stroke-width="1.2" fill="none"/><path d="M316.7 375.4 Q318.3 376.1 318.8 379.3" stroke="#aaaaaa" stroke-width="1.2" fill="none"/><path d="M314.2 379.3 Q316.4 381.7 318.8 379.3" stroke="#d4d4d4" stroke-width="1.2" fill="none"/><path d="M314.2 379.3 Q316.8 382.6 316.9 389.5" stroke="#aaaaaa" stroke-width="1.8" fill="none"/><path d="M314.2 379.3 Q320.4 374.4 323.7 373.1" stroke="#e4e4e4" stroke-width="1.5" fill="none"/><path d="M316.9 389.5 Q316.4 389.0 321.7 392.4" stroke="#c0c0c0" stroke-width="1.8" fill="none"/><path d="M316.9 389.5 Q314.3 392.6 312.9 396.7" stroke="#c0c0c0" stroke-width="1.2" fill="none"/><path d="M316.9 389.5 Q319.1 385.9 318.8 379.3" stroke="#c0c0c0" stroke-width="1.5" fill="none"/><path d="M312.9 396.7 Q321.0 398.3 324.7 398.3" stroke="#aaaaaa" stroke-width="1.5" fill="none"/><path d="M312.9 396.7 Q317.7 404.3 316.9 406.4" stroke="#c0c0c0" stroke-width="1.5" fill="none"/><path d="M316.9 406.4 Q318.9 406.1 318.6 408.4" stroke="#e4e4e4" stroke-width="2.1" fill="none"/><path d="M316.9 406.4 Q311.8 413.1 312.0 414.8" stroke="#e4e4e4" stroke-width="1.8" fill="none"/><path d="M316.9 406.4 Q318.7 405.1 324.7 398.3" stroke="#aaaaaa" stroke-width="1.8" fill="none"/><path d="M312.0 414.8 Q314.0 413.3 321.5 415.5" stroke="#c0c0c0" stroke-width="1.8" fill="none"/><path d="M312.0 414.8 Q315.2 420.8 323.5 424.4" stroke="#e4e4e4" stroke-width="1.8" fill="none"/><path d="M310.9 424.4 Q316.7 424.4 323.5 424.4" stroke="#d4d4d4" stroke-width="1.2" fill="none"/><path d="M310.9 424.4 Q311.2 429.4 313.1 430.6" stroke="#c0c0c0" stroke-width="2.1" fill="none"/><path d="M313.1 430.6 Q317.8 434.6 321.9 434.9" stroke="#e4e4e4" stroke-width="1.5" fill="none"/><path d="M313.1 430.6 Q316.9 437.4 315.5 442.8" stroke="#c0c0c0" stroke-width="2.1" fill="none"/><path d="M313.1 430.6 Q316.9 435.9 321.2 439.7" stroke="#aaaaaa" stroke-width="1.8" fill="none"/><path d="M315.5 442.8 Q320.2 441.3 321.2 439.7" stroke="#c0c0c0" stroke-width="1.8" fill="none"/><path d="M315.5 442.8 Q319.5 437.6 321.9 434.9" stroke="#aaaaaa" stroke-width="1.8" fill="none"/><path d="M310.1 449.2 Q317.9 450.6 324.5 446.9" stroke="#aaaaaa" stroke-width="1.8" fill="none"/><path d="M310.1 449.2 Q311.0 455.2 311.9 460.5" stroke="#e4e4e4" stroke-width="1.8" fill="none"/><path d="M311.9 460.5 Q317.2 459.4 320.6 459.8" stroke="#d4d4d4" stroke-width="1.5" fill="none"/><path d="M311.9 460.5 Q314.5 465.3 315.5 464.2" stroke="#aaaaaa" stroke-width="1.2" fill="none"/><path d="M315.5 464.2 Q315.1 464.1 319.0 468.4" stroke="#c0c0c0" stroke-width="1.8" fill="none"/><path d="M315.5 464.2 Q311.5 470.6 311.9 472.1" stroke="#c0c0c0" stroke-width="1.5" fill="none"/><path d="M311.9 472.1 Q311.6 477.9 316.9 481.6" stroke="#aaaaaa" stroke-width="2.1" fill="none"/><path d="M311.9 472.1 Q315.2 467.4 319.0 468.4" stroke="#aaaaaa" stroke-width="1.2" fill="none"/><path d="M316.9 481.6 Q320.7 484.7 320.5 485.0" stroke="#e4e4e4" stroke-width="1.5" fill="none"/><path d="M316.9 481.6 Q315.9 484.4 314.3 491.3" stroke="#c0c0c0" stroke-width="2.1" fill="none"/><path d="M316.9 481.6 Q322.8 479.5 323.4 474.0" stroke="#aaaaaa" stroke-width="1.5" fill="none"/><path d="M314.3 491.3 Q321.4 487.8 324.9 489.0" stroke="#c0c0c0" stroke-width="1.2" fill="none"/><path d="M314.3 491.3 Q316.0 495.5 314.5 500.7" stroke="#d4d4d4" stroke-width="1.8" fill="none"/><path d="M314.5 500.7 Q316.7 498.6 321.8 500.3" stroke="#c0c0c0" stroke-width="2.1" fill="none"/><path d="M315.2 505.8 Q316.8 509.0 315.3 515.6" stroke="#d4d4d4" stroke-width="2.1" fill="none"/><path d="M315.3 515.6 Q316.7 514.1 319.6 517.6" stroke="#aaaaaa" stroke-width="1.8" fill="none"/><path d="M322.2 345.9 Q326.4 346.4 332.7 344.0" stroke="#aaaaaa" stroke-width="1.2" fill="none"/><path d="M322.2 345.9 Q321.9 353.7 320.6 355.7" stroke="#e4e4e4" stroke-width="1.2" fill="none"/><path d="M322.2 345.9 Q323.1 349.0 328.6 357.7" stroke="#d4d4d4" stroke-width="2.1" fill="none"/><path d="M321.8 363.0 Q327.5 367.0 332.5 365.1" stroke="#e4e4e4" stroke-width="1.8" fill="none"/><path d="M321.8 363.0 Q321.3 369.4 323.7 373.1" stroke="#aaaaaa" stroke-width="1.2" fill="none"/><path d="M323.7 373.1 Q327.1 373.4 327.2 374.1" stroke="#d4d4d4" stroke-width="1.5" fill="none"/><path d="M323.7 373.1 Q318.8 375.4 318.8 379.3" stroke="#e4e4e4" stroke-width="1.8" fill="none"/><path d="M318.8 379.3 Q325.7 383.8 333.9 384.5" stroke="#aaaaaa" stroke-width="1.2" fill="none"/><path d="M318.8 379.3 Q318.2 387.1 321.7 392.4" stroke="#aaaaaa" stroke-width="2.1" fill="none"/><path d="M318.8 379.3 Q322.0 378.7 327.2 374.1" stroke="#d4d4d4" stroke-width="1.2" fill="none"/><path d="M321.7 392.4 Q326.0 391.1 331.9 386.3" stroke="#aaaaaa" stroke-width="1.2" fill="none"/><path d="M321.7 392.4 Q321.9 395.9 324.7 398.3" stroke="#d4d4d4" stroke-width="2.1" fill="none"/><path d="M321.7 392.4 Q328.9 396.9 332.9 396.0" stroke="#d4d4d4" stroke-width="1.2" fill="none"/><path d="M324.7 398.3 Q326.0 396.4 332.9 396.0" stroke="#d4d4d4" stroke-width="1.5" fill="none"/><path d="M324.7 398.3 Q326.9 402.3 331.5 409.7" stroke="#c0c0c0" stroke-width="1.2" fill="none"/><path d="M324.7 398.3 Q328.1 394.0 331.9 386.3" stroke="#d4d4d4" stroke-width="2.1" fill="none"/><path d="M318.6 408.4 Q325.6 409.6 331.5 409.7" stroke="#d4d4d4" stroke-width="1.5" fill="none"/><path d="M318.6 408.4 Q321.4 409.4 321.5 415.5" stroke="#c0c0c0" stroke-width="1.8" fill="none"/><path d="M321.5 415.5 Q323.6 418.1 323.5 424.4" stroke="#aaaaaa" stroke-width="1.8" fill="none"/><path d="M321.5 415.5 Q325.5 421.2 329.0 426.4" stroke="#e4e4e4" stroke-width="1.5" fill="none"/><path d="M321.5 415.5 Q323.7 414.9 331.5 409.7" stroke="#c0c0c0" stroke-width="1.8" fill="none"/><path d="M323.5 424.4 Q323.5 423.5 329.0 426.4" stroke="#c0c0c0" stroke-width="1.2" fill="none"/><path d="M323.5 424.4 Q319.9 427.4 321.9 434.9" stroke="#d4d4d4" stroke-width="2.1" fill="none"/><path d="M321.9 434.9 Q324.4 436.5 328.0 432.8" stroke="#d4d4d4" stroke-width="1.2" fill="none"/><path d="M321.2 439.7 Q325.9 436.3 329.9 438.1" stroke="#e4e4e4" stroke-width="1.5" fill="none"/><path d="M321.2 439.7 Q324.3 444.5 324.5 446.9" stroke="#c0c0c0" stroke-width="1.8" fill="none"/><path d="M321.2 439.7 Q328.4 443.5 331.4 445.8" stroke="#e4e4e4" stroke-width="2.1" fill="none"/><path d="M324.5 446.9 Q328.3 444.6 331.4 445.8" stroke="#c0c0c0" stroke-width="2.1" fill="none"/><path d="M324.5 446.9 Q321.7 455.4 320.6 459.8" stroke="#e4e4e4" stroke-width="1.2" fill="none"/><path d="M320.6 459.8 Q326.0 457.2 327.8 456.7" stroke="#e4e4e4" stroke-width="1.5" fill="none"/><path d="M320.6 459.8 Q324.8 461.8 327.5 462.9" stroke="#d4d4d4" stroke-width="1.8" fill="none"/><path d="M323.4 474.0 Q329.6 476.2 331.0 476.2" stroke="#aaaaaa" stroke-width="2.1" fill="none"/><path d="M323.4 474.0 Q319.8 479.5 320.5 485.0" stroke="#c0c0c0" stroke-width="1.5" fill="none"/><path d="M323.4 474.0 Q327.3 470.7 327.5 462.9" stroke="#aaaaaa" stroke-width="1.8" fill="none"/><path d="M320.5 485.0 Q320.3 489.0 324.9 489.0" stroke="#c0c0c0" stroke-width="1.2" fill="none"/><path d="M320.5 485.0 Q323.4 477.8 331.0 476.2" stroke="#e4e4e4" stroke-width="1.2" fill="none"/><path d="M324.9 489.0 Q328.7 488.3 330.0 490.2" stroke="#d4d4d4" stroke-width="1.2" fill="none"/><path d="M324.9 489.0 Q320.4 491.7 321.8 500.3" stroke="#d4d4d4" stroke-width="1.5" fill="none"/><path d="M321.8 500.3 Q323.8 501.0 331.2 499.9" stroke="#e4e4e4" stroke-width="1.5" fill="none"/><path d="M322.0 507.3 Q327.8 505.5 333.6 507.6" stroke="#d4d4d4" stroke-width="1.5" fill="none"/><path d="M322.0 507.3 Q320.2 514.0 319.6 517.6" stroke="#aaaaaa" stroke-width="2.1" fill="none"/><path d="M319.6 517.6 Q322.5 516.4 327.4 518.4" stroke="#c0c0c0" stroke-width="2.1" fill="none"/><path d="M332.7 344.0 Q331.9 348.5 336.6 347.9" stroke="#aaaaaa" stroke-width="1.2" fill="none"/><path d="M332.5 365.1 Q327.3 368.4 327.2 374.1" stroke="#e4e4e4" stroke-width="1.2" fill="none"/><path d="M332.5 365.1 Q337.2 370.9 337.3 372.9" stroke="#aaaaaa" stroke-width="1.5" fill="none"/><path d="M332.5 365.1 Q337.2 364.3 339.0 358.4" stroke="#e4e4e4" stroke-width="2.1" fill="none"/><path d="M327.2 374.1 Q329.5 377.3 333.9 384.5" stroke="#d4d4d4" stroke-width="1.8" fill="none"/><path d="M327.2 374.1 Q334.0 367.3 339.4 364.8" stroke="#e4e4e4" stroke-width="1.2" fill="none"/><path d="M333.9 384.5 Q335.6 384.5 337.3 382.8" stroke="#e4e4e4" stroke-width="1.8" fill="none"/><path d="M333.9 384.5 Q331.9 384.4 331.9 386.3" stroke="#aaaaaa" stroke-width="1.5" fill="none"/><path d="M331.9 386.3 Q338.1 383.8 339.1 386.9" stroke="#d4d4d4" stroke-width="1.2" fill="none"/><path d="M331.9 386.3 Q331.9 392.9 332.9 396.0" stroke="#aaaaaa" stroke-width="1.2" fill="none"/><path d="M331.9 386.3 Q333.6 393.3 337.1 397.1" stroke="#c0c0c0" stroke-width="2.1" fill="none"/><path d="M332.9 396.0 Q332.3 396.9 337.1 397.1" stroke="#d4d4d4" stroke-width="1.8" fill="none"/><path d="M332.9 396.0 Q331.5 404.3 331.5 409.7" stroke="#aaaaaa" stroke-width="1.2" fill="none"/><path d="M331.5 409.7 Q337.8 404.6 340.7 404.3" stroke="#d4d4d4" stroke-width="2.1" fill="none"/><path d="M331.5 409.7 Q334.0 409.2 332.0 412.4" stroke="#aaaaaa" stroke-width="1.5" fill="none"/><path d="M331.5 409.7 Q335.9 413.6 340.5 416.1" stroke="#c0c0c0" stroke-width="1.2" fill="none"/><path d="M332.0 412.4 Q328.8 417.6 329.0 426.4" stroke="#d4d4d4" stroke-width="2.1" fill="none"/><path d="M332.0 412.4 Q336.8 421.3 336.1 424.7" stroke="#d4d4d4" stroke-width="1.5" fill="none"/><path d="M332.0 412.4 Q338.8 408.2 340.7 404.3" stroke="#aaaaaa" stroke-width="1.5" fill="none"/><path d="M329.0 426.4 Q335.4 425.6 336.1 424.7" stroke="#aaaaaa" stroke-width="1.2" fill="none"/><path d="M329.0 426.4 Q328.0 431.7 328.0 432.8" stroke="#d4d4d4" stroke-width="1.2" fill="none"/><path d="M328.0 432.8 Q329.7 431.1 336.1 429.4" stroke="#aaaaaa" stroke-width="1.2" fill="none"/><path d="M328.0 432.8 Q327.2 438.0 329.9 438.1" stroke="#aaaaaa" stroke-width="1.2" fill="none"/><path d="M328.0 432.8 Q333.0 437.0 339.7 438.7" stroke="#d4d4d4" stroke-width="2.1" fill="none"/><path d="M328.0 432.8 Q332.7 428.6 336.1 424.7" stroke="#aaaaaa" stroke-width="2.1" fill="none"/><path d="M329.9 438.1 Q335.6 430.8 336.1 429.4" stroke="#e4e4e4" stroke-width="1.2" fill="none"/><path d="M331.4 445.8 Q336.6 446.2 341.6 448.9" stroke="#e4e4e4" stroke-width="1.8" fill="none"/><path d="M331.4 445.8 Q332.0 451.2 327.8 456.7" stroke="#e4e4e4" stroke-width="1.2" fill="none"/><path d="M327.8 456.7 Q326.6 460.5 327.5 462.9" stroke="#e4e4e4" stroke-width="2.1" fill="none"/><path d="M327.5 462.9 Q329.0 467.6 335.7 467.6" stroke="#c0c0c0" stroke-width="1.8" fill="none"/><path d="M327.5 462.9 Q331.4 468.7 331.0 476.2" stroke="#c0c0c0" stroke-width="1.2" fill="none"/><path d="M331.0 476.2 Q333.7 471.5 335.9 472.1" stroke="#e4e4e4" stroke-width="2.1" fill="none"/><path d="M331.0 476.2 Q334.6 473.7 335.7 467.6" stroke="#e4e4e4" stroke-width="1.5" fill="none"/><path d="M333.1 480.4 Q330.8 483.7 330.0 490.2" stroke="#e4e4e4" stroke-width="1.5" fill="none"/><path d="M333.1 480.4 Q334.6 482.5 337.1 488.8" stroke="#e4e4e4" stroke-width="1.2" fill="none"/><path d="M330.0 490.2 Q332.6 489.7 337.1 488.8" stroke="#e4e4e4" stroke-width="1.5" fill="none"/><path d="M330.0 490.2 Q331.4 495.3 331.2 499.9" stroke="#d4d4d4" stroke-width="1.5" fill="none"/><path d="M330.0 490.2 Q333.7 493.6 342.3 501.2" stroke="#aaaaaa" stroke-width="1.5" fill="none"/><path d="M331.2 499.9 Q338.6 502.5 342.3 501.2" stroke="#c0c0c0" stroke-width="2.1" fill="none"/><path d="M331.2 499.9 Q336.1 502.5 341.2 506.0" stroke="#d4d4d4" stroke-width="1.2" fill="none"/><path d="M333.6 507.6 Q337.1 507.0 341.2 506.0" stroke="#e4e4e4" stroke-width="1.8" fill="none"/><path d="M333.6 507.6 Q331.1 514.5 327.4 518.4" stroke="#e4e4e4" stroke-width="1.2" fill="none"/><path d="M327.4 518.4 Q331.8 514.5 339.9 516.0" stroke="#aaaaaa" stroke-width="1.5" fill="none"/><path d="M327.4 518.4 Q336.1 511.0 341.2 506.0" stroke="#e4e4e4" stroke-width="1.2" fill="none"/><path d="M336.6 347.9 Q342.9 347.4 345.6 345.8" stroke="#c0c0c0" stroke-width="1.5" fill="none"/><path d="M336.6 347.9 Q338.2 353.7 339.0 358.4" stroke="#d4d4d4" stroke-width="2.1" fill="none"/><path d="M336.6 347.9 Q344.1 352.9 348.3 354.4" stroke="#d4d4d4" stroke-width="1.2" fill="none"/><path d="M339.0 358.4 Q341.5 354.1 348.3 354.4" stroke="#d4d4d4" stroke-width="1.8" fill="none"/><path d="M339.0 358.4 Q340.0 361.8 339.4 364.8" stroke="#aaaaaa" stroke-width="1.5" fill="none"/><path d="M339.0 358.4 Q341.4 360.4 346.7 361.5" stroke="#e4e4e4" stroke-width="1.5" fill="none"/><path d="M339.4 364.8 Q342.9 364.1 346.7 361.5" stroke="#e4e4e4" stroke-width="2.1" fill="none"/><path d="M339.4 364.8 Q336.7 371.6 337.3 372.9" stroke="#e4e4e4" stroke-width="1.5" fill="none"/><path d="M337.3 372.9 Q343.0 375.3 349.8 373.5" stroke="#aaaaaa" stroke-width="1.2" fill="none"/><path d="M337.3 372.9 Q343.7 377.9 349.6 380.5" stroke="#c0c0c0" stroke-width="1.2" fill="none"/><path d="M337.3 372.9 Q340.8 368.2 346.7 361.5" stroke="#aaaaaa" stroke-width="1.8" fill="none"/><path d="M337.3 382.8 Q342.4 381.0 349.6 380.5" stroke="#e4e4e4" stroke-width="1.5" fill="none"/><path d="M337.3 382.8 Q337.5 382.0 339.1 386.9" stroke="#d4d4d4" stroke-width="1.5" fill="none"/><path d="M339.1 386.9 Q342.8 389.0 350.0 389.6" stroke="#aaaaaa" stroke-width="2.1" fill="none"/><path d="M339.1 386.9 Q337.3 391.2 337.1 397.1" stroke="#d4d4d4" stroke-width="1.8" fill="none"/><path d="M339.1 386.9 Q343.7 392.1 348.1 398.5" stroke="#e4e4e4" stroke-width="1.2" fill="none"/><path d="M339.1 386.9 Q343.4 385.2 349.6 380.5" stroke="#c0c0c0" stroke-width="1.5" fill="none"/><path d="M337.1 397.1 Q339.7 400.0 340.7 404.3" stroke="#aaaaaa" stroke-width="1.2" fill="none"/><path d="M337.1 397.1 Q346.2 394.0 350.0 389.6" stroke="#aaaaaa" stroke-width="2.1" fill="none"/><path d="M340.7 404.3 Q345.5 405.3 349.2 405.8" stroke="#c0c0c0" stroke-width="1.5" fill="none"/><path d="M340.7 404.3 Q343.4 408.7 340.5 416.1" stroke="#d4d4d4" stroke-width="1.5" fill="none"/><path d="M340.7 404.3 Q344.6 400.3 348.1 398.5" stroke="#aaaaaa" stroke-width="1.2" fill="none"/><path d="M340.5 416.1 Q343.4 412.2 344.7 411.7" stroke="#c0c0c0" stroke-width="1.8" fill="none"/><path d="M340.5 416.1 Q347.7 409.1 349.2 405.8" stroke="#d4d4d4" stroke-width="1.8" fill="none"/><path d="M336.1 424.7 Q334.4 427.1 336.1 429.4" stroke="#d4d4d4" stroke-width="1.2" fill="none"/><path d="M336.1 424.7 Q343.4 417.2 344.7 411.7" stroke="#d4d4d4" stroke-width="1.8" fill="none"/><path d="M336.1 429.4 Q344.0 430.2 349.3 437.0" stroke="#d4d4d4" stroke-width="1.8" fill="none"/><path d="M339.7 438.7 Q339.7 443.3 341.6 448.9" stroke="#aaaaaa" stroke-width="1.2" fill="none"/><path d="M341.6 448.9 Q346.7 451.2 347.3 451.7" stroke="#d4d4d4" stroke-width="1.5" fill="none"/><path d="M341.6 448.9 Q337.9 452.3 337.8 459.6" stroke="#c0c0c0" stroke-width="1.5" fill="none"/><path d="M341.6 448.9 Q347.5 453.5 348.3 457.0" stroke="#aaaaaa" stroke-width="1.2" fill="none"/><path d="M337.8 459.6 Q345.2 459.7 348.3 457.0" stroke="#aaaaaa" stroke-width="1.8" fill="none"/><path d="M337.8 459.6 Q333.7 460.8 335.7 467.6" stroke="#e4e4e4" stroke-width="1.2" fill="none"/><path d="M337.8 459.6 Q343.6 455.4 347.3 451.7" stroke="#aaaaaa" stroke-width="1.5" fill="none"/><path d="M335.7 467.6 Q338.5 471.0 335.9 472.1" stroke="#c0c0c0" stroke-width="1.5" fill="none"/><path d="M335.7 467.6 Q338.3 472.2 345.1 472.1" stroke="#aaaaaa" stroke-width="1.5" fill="none"/><path d="M335.9 472.1 Q338.1 471.3 345.1 472.1" stroke="#aaaaaa" stroke-width="1.2" fill="none"/><path d="M335.9 472.1 Q343.2 475.8 346.6 482.2" stroke="#aaaaaa" stroke-width="1.5" fill="none"/><path d="M335.9 472.1 Q344.3 468.5 347.3 463.2" stroke="#e4e4e4" stroke-width="1.5" fill="none"/><path d="M342.2 484.3 Q342.8 481.5 346.6 482.2" stroke="#d4d4d4" stroke-width="2.1" fill="none"/><path d="M342.2 484.3 Q338.7 489.1 337.1 488.8" stroke="#d4d4d4" stroke-width="1.8" fill="none"/><path d="M337.1 488.8 Q341.7 496.0 342.3 501.2" stroke="#e4e4e4" stroke-width="1.8" fill="none"/><path d="M342.3 501.2 Q344.3 500.0 345.8 498.4" stroke="#c0c0c0" stroke-width="1.5" fill="none"/><path d="M342.3 501.2 Q340.7 501.6 341.2 506.0" stroke="#c0c0c0" stroke-width="1.5" fill="none"/><path d="M342.3 501.2 Q344.2 495.8 350.2 489.1" stroke="#d4d4d4" stroke-width="1.5" fill="none"/><path d="M341.2 506.0 Q345.6 508.3 345.1 507.0" stroke="#d4d4d4" stroke-width="1.5" fill="none"/><path d="M341.2 506.0 Q339.0 510.6 339.9 516.0" stroke="#aaaaaa" stroke-width="1.2" fill="none"/><path d="M341.2 506.0 Q342.7 509.6 345.6 516.9" stroke="#d4d4d4" stroke-width="1.2" fill="none"/><path d="M339.9 516.0 Q343.8 519.0 345.6 516.9" stroke="#d4d4d4" stroke-width="1.2" fill="none"/><path d="M345.6 345.8 Q346.8 346.9 352.7 350.0" stroke="#e4e4e4" stroke-width="2.1" fill="none"/><path d="M345.6 345.8 Q350.0 352.7 348.3 354.4" stroke="#aaaaaa" stroke-width="2.1" fill="none"/><path d="M345.6 345.8 Q352.2 351.7 355.1 358.6" stroke="#d4d4d4" stroke-width="2.1" fill="none"/><path d="M348.3 354.4 Q349.2 358.0 355.1 358.6" stroke="#aaaaaa" stroke-width="1.5" fill="none"/><path d="M346.7 361.5 Q354.3 366.5 355.8 375.6" stroke="#aaaaaa" stroke-width="1.5" fill="none"/><path d="M349.8 373.5 Q350.9 372.3 355.8 375.6" stroke="#d4d4d4" stroke-width="1.2" fill="none"/><path d="M349.8 373.5 Q351.6 377.3 349.6 380.5" stroke="#e4e4e4" stroke-width="2.1" fill="none"/><path d="M349.8 373.5 Q355.9 367.1 357.3 365.2" stroke="#e4e4e4" stroke-width="1.2" fill="none"/><path d="M349.6 380.5 Q353.1 383.2 353.3 382.2" stroke="#e4e4e4" stroke-width="1.5" fill="none"/><path d="M349.6 380.5 Q350.1 386.7 350.0 389.6" stroke="#c0c0c0" stroke-width="1.8" fill="none"/><path d="M350.0 389.6 Q349.5 391.4 354.5 390.7" stroke="#d4d4d4" stroke-width="1.5" fill="none"/><path d="M350.0 389.6 Q348.5 393.6 348.1 398.5" stroke="#e4e4e4" stroke-width="1.8" fill="none"/><path d="M350.0 389.6 Q356.4 392.0 357.6 395.6" stroke="#c0c0c0" stroke-width="1.5" fill="none"/><path d="M350.0 389.6 Q349.1 386.8 353.3 382.2" stroke="#aaaaaa" stroke-width="1.5" fill="none"/><path d="M348.1 398.5 Q352.4 399.8 357.6 395.6" stroke="#c0c0c0" stroke-width="1.2" fill="none"/><path d="M348.1 398.5 Q348.0 399.3 349.2 405.8" stroke="#e4e4e4" stroke-width="1.5" fill="none"/><path d="M349.2 405.8 Q352.2 403.8 353.9 403.2" stroke="#d4d4d4" stroke-width="1.8" fill="none"/><path d="M349.2 405.8 Q345.1 408.0 344.7 411.7" stroke="#e4e4e4" stroke-width="1.2" fill="none"/><path d="M344.7 411.7 Q347.2 410.3 354.1 412.0" stroke="#aaaaaa" stroke-width="1.8" fill="none"/><path d="M344.7 411.7 Q342.2 417.3 345.4 420.3" stroke="#aaaaaa" stroke-width="1.8" fill="none"/><path d="M345.4 420.3 Q349.6 428.1 350.2 431.9" stroke="#e4e4e4" stroke-width="2.1" fill="none"/><path d="M345.4 420.3 Q352.2 416.0 354.1 412.0" stroke="#e4e4e4" stroke-width="1.2" fill="none"/><path d="M350.2 431.9 Q350.5 430.9 355.0 430.7" stroke="#c0c0c0" stroke-width="2.1" fill="none"/><path d="M350.2 431.9 Q354.3 437.3 355.8 439.0" stroke="#d4d4d4" stroke-width="2.1" fill="none"/><path d="M349.3 437.0 Q355.0 435.6 355.8 439.0" stroke="#e4e4e4" stroke-width="2.1" fill="none"/><path d="M349.3 437.0 Q350.3 446.0 347.3 451.7" stroke="#c0c0c0" stroke-width="1.5" fill="none"/><path d="M349.3 437.0 Q354.5 433.4 355.0 430.7" stroke="#aaaaaa" stroke-width="2.1" fill="none"/><path d="M347.3 451.7 Q354.6 451.1 357.6 450.5" stroke="#d4d4d4" stroke-width="1.5" fill="none"/><path d="M347.3 451.7 Q345.8 452.3 348.3 457.0" stroke="#d4d4d4" stroke-width="1.5" fill="none"/><path d="M347.3 451.7 Q350.4 444.2 355.8 439.0" stroke="#d4d4d4" stroke-width="1.2" fill="none"/><path d="M348.3 457.0 Q347.9 460.9 347.3 463.2" stroke="#aaaaaa" stroke-width="1.5" fill="none"/><path d="M348.3 457.0 Q352.4 463.3 357.2 469.1" stroke="#aaaaaa" stroke-width="2.1" fill="none"/><path d="M347.3 463.2 Q355.1 467.3 357.2 469.1" stroke="#aaaaaa" stroke-width="1.2" fill="none"/><path d="M347.3 463.2 Q347.6 470.1 345.1 472.1" stroke="#d4d4d4" stroke-width="1.8" fill="none"/><path d="M345.1 472.1 Q345.0 474.7 346.6 482.2" stroke="#e4e4e4" stroke-width="1.5" fill="none"/><path d="M345.1 472.1 Q353.9 477.2 359.3 479.5" stroke="#d4d4d4" stroke-width="1.8" fill="none"/><path d="M345.1 472.1 Q353.6 468.6 357.2 469.1" stroke="#d4d4d4" stroke-width="2.1" fill="none"/><path d="M346.6 482.2 Q350.7 481.5 359.3 479.5" stroke="#d4d4d4" stroke-width="1.5" fill="none"/><path d="M346.6 482.2 Q346.9 483.8 350.2 489.1" stroke="#d4d4d4" stroke-width="1.2" fill="none"/><path d="M346.6 482.2 Q347.1 489.8 352.9 493.5" stroke="#e4e4e4" stroke-width="1.5" fill="none"/><path d="M350.2 489.1 Q352.4 491.8 352.9 493.5" stroke="#e4e4e4" stroke-width="1.2" fill="none"/><path d="M350.2 489.1 Q347.5 493.5 345.8 498.4" stroke="#aaaaaa" stroke-width="1.8" fill="none"/><path d="M345.8 498.4 Q349.1 500.5 355.4 496.8" stroke="#d4d4d4" stroke-width="1.8" fill="none"/><path d="M345.8 498.4 Q344.7 502.8 345.1 507.0" stroke="#e4e4e4" stroke-width="1.2" fill="none"/><path d="M345.1 507.0 Q351.4 507.7 356.3 511.9" stroke="#e4e4e4" stroke-width="2.1" fill="none"/><path d="M345.1 507.0 Q347.0 512.8 345.6 516.9" stroke="#d4d4d4" stroke-width="1.8" fill="none"/><path d="M345.6 516.9 Q349.7 515.9 356.1 516.0" stroke="#c0c0c0" stroke-width="1.5" fill="none"/><path d="M352.7 350.0 Q353.2 352.9 355.1 358.6" stroke="#d4d4d4" stroke-width="1.2" fill="none"/><path d="M355.1 358.6 Q362.1 354.6 367.3 355.4" stroke="#d4d4d4" stroke-width="1.2" fill="none"/><path d="M355.1 358.6 Q359.1 361.5 357.3 365.2" stroke="#aaaaaa" stroke-width="1.5" fill="none"/><path d="M355.1 358.6 Q359.3 359.8 367.6 360.9" stroke="#e4e4e4" stroke-width="2.1" fill="none"/><path d="M357.3 365.2 Q361.2 363.3 367.6 360.9" stroke="#e4e4e4" stroke-width="1.8" fill="none"/><path d="M357.3 365.2 Q354.5 372.3 355.8 375.6" stroke="#aaaaaa" stroke-width="2.1" fill="none"/><path d="M355.8 375.6 Q357.1 377.8 353.3 382.2" stroke="#e4e4e4" stroke-width="1.8" fill="none"/><path d="M355.8 375.6 Q362.5 365.7 367.6 360.9" stroke="#e4e4e4" stroke-width="2.1" fill="none"/><path d="M353.3 382.2 Q356.2 381.2 363.8 377.9" stroke="#e4e4e4" stroke-width="1.8" fill="none"/><path d="M353.3 382.2 Q351.9 385.4 354.5 390.7" stroke="#c0c0c0" stroke-width="1.2" fill="none"/><path d="M353.3 382.2 Q357.4 374.9 362.7 369.4" stroke="#aaaaaa" stroke-width="1.8" fill="none"/><path d="M354.5 390.7 Q356.1 391.6 362.8 388.9" stroke="#d4d4d4" stroke-width="1.2" fill="none"/><path d="M354.5 390.7 Q356.4 390.7 363.1 394.9" stroke="#e4e4e4" stroke-width="1.5" fill="none"/><path d="M354.5 390.7 Q361.2 385.7 363.8 377.9" stroke="#c0c0c0" stroke-width="1.5" fill="none"/><path d="M357.6 395.6 Q359.0 396.9 363.1 394.9" stroke="#aaaaaa" stroke-width="1.8" fill="none"/><path d="M357.6 395.6 Q357.6 401.9 353.9 403.2" stroke="#aaaaaa" stroke-width="1.8" fill="none"/><path d="M357.6 395.6 Q359.9 394.4 362.8 388.9" stroke="#c0c0c0" stroke-width="1.2" fill="none"/><path d="M353.9 403.2 Q359.2 408.9 361.3 409.8" stroke="#d4d4d4" stroke-width="1.2" fill="none"/><path d="M353.9 403.2 Q358.6 400.9 363.1 394.9" stroke="#aaaaaa" stroke-width="1.5" fill="none"/><path d="M354.1 412.0 Q357.6 412.6 362.3 415.1" stroke="#aaaaaa" stroke-width="1.8" fill="none"/><path d="M354.1 412.0 Q352.7 419.7 355.3 426.8" stroke="#d4d4d4" stroke-width="1.8" fill="none"/><path d="M354.1 412.0 Q357.1 418.2 363.8 423.7" stroke="#aaaaaa" stroke-width="1.5" fill="none"/><path d="M355.3 426.8 Q357.5 430.0 355.0 430.7" stroke="#d4d4d4" stroke-width="1.2" fill="none"/><path d="M355.3 426.8 Q357.3 429.0 361.6 430.7" stroke="#e4e4e4" stroke-width="2.1" fill="none"/><path d="M355.3 426.8 Q361.5 419.9 362.3 415.1" stroke="#d4d4d4" stroke-width="1.5" fill="none"/><path d="M355.0 430.7 Q358.3 435.1 355.8 439.0" stroke="#aaaaaa" stroke-width="1.5" fill="none"/><path d="M355.8 439.0 Q358.3 437.5 361.8 440.8" stroke="#e4e4e4" stroke-width="1.5" fill="none"/><path d="M355.8 439.0 Q361.1 446.1 367.4 449.7" stroke="#aaaaaa" stroke-width="2.1" fill="none"/><path d="M357.6 450.5 Q363.0 448.2 367.4 449.7" stroke="#e4e4e4" stroke-width="1.8" fill="none"/><path d="M357.6 450.5 Q355.3 451.5 353.6 455.7" stroke="#d4d4d4" stroke-width="2.1" fill="none"/><path d="M357.6 450.5 Q358.9 446.3 361.8 440.8" stroke="#d4d4d4" stroke-width="2.1" fill="none"/><path d="M353.6 455.7 Q352.5 462.7 357.2 469.1" stroke="#c0c0c0" stroke-width="1.5" fill="none"/><path d="M353.6 455.7 Q358.6 459.6 361.1 466.3" stroke="#aaaaaa" stroke-width="1.2" fill="none"/><path d="M353.6 455.7 Q359.6 455.3 367.4 449.7" stroke="#c0c0c0" stroke-width="2.1" fill="none"/><path d="M357.2 469.1 Q359.6 467.4 361.1 466.3" stroke="#aaaaaa" stroke-width="1.2" fill="none"/><path d="M357.0 474.0 Q362.1 472.0 364.4 475.0" stroke="#d4d4d4" stroke-width="1.2" fill="none"/><path d="M357.0 474.0 Q359.7 470.1 361.1 466.3" stroke="#aaaaaa" stroke-width="1.8" fill="none"/><path d="M359.3 479.5 Q363.2 482.5 363.6 483.9" stroke="#e4e4e4" stroke-width="1.2" fill="none"/><path d="M359.3 479.5 Q356.6 484.1 352.9 493.5" stroke="#e4e4e4" stroke-width="1.5" fill="none"/><path d="M359.3 479.5 Q362.8 484.6 366.1 494.4" stroke="#c0c0c0" stroke-width="1.5" fill="none"/><path d="M352.9 493.5 Q360.9 493.8 366.1 494.4" stroke="#c0c0c0" stroke-width="1.5" fill="none"/><path d="M352.9 493.5 Q355.3 496.6 355.4 496.8" stroke="#aaaaaa" stroke-width="2.1" fill="none"/><path d="M352.9 493.5 Q357.3 494.6 363.2 499.6" stroke="#c0c0c0" stroke-width="1.8" fill="none"/><path d="M355.4 496.8 Q358.8 499.7 363.2 499.6" stroke="#aaaaaa" stroke-width="1.8" fill="none"/><path d="M356.3 511.9 Q362.9 509.6 366.8 506.6" stroke="#e4e4e4" stroke-width="2.1" fill="none"/><path d="M356.1 516.0 Q356.5 518.4 361.8 515.7" stroke="#aaaaaa" stroke-width="1.2" fill="none"/><path d="M361.7 344.0 Q366.5 344.4 370.1 348.9" stroke="#c0c0c0" stroke-width="1.5" fill="none"/><path d="M361.7 344.0 Q364.0 347.4 367.3 355.4" stroke="#d4d4d4" stroke-width="1.5" fill="none"/><path d="M361.7 344.0 Q370.4 349.0 375.2 354.2" stroke="#aaaaaa" stroke-width="1.8" fill="none"/><path d="M367.3 355.4 Q370.9 356.1 375.2 354.2" stroke="#aaaaaa" stroke-width="1.2" fill="none"/><path d="M367.3 355.4 Q369.9 357.0 367.6 360.9" stroke="#d4d4d4" stroke-width="2.1" fill="none"/><path d="M367.6 360.9 Q371.4 359.9 370.4 361.1" stroke="#c0c0c0" stroke-width="2.1" fill="none"/><path d="M367.6 360.9 Q367.5 366.5 362.7 369.4" stroke="#e4e4e4" stroke-width="1.8" fill="none"/><path d="M367.6 360.9 Q372.6 357.7 375.2 354.2" stroke="#e4e4e4" stroke-width="1.8" fill="none"/><path d="M362.7 369.4 Q365.2 368.9 371.2 369.6" stroke="#d4d4d4" stroke-width="1.2" fill="none"/><path d="M362.7 369.4 Q364.9 372.8 363.8 377.9" stroke="#e4e4e4" stroke-width="2.1" fill="none"/><path d="M362.7 369.4 Q366.4 375.6 372.5 381.5" stroke="#d4d4d4" stroke-width="2.1" fill="none"/><path d="M363.8 377.9 Q367.6 377.0 372.5 381.5" stroke="#e4e4e4" stroke-width="2.1" fill="none"/><path d="M363.8 377.9 Q363.8 383.2 362.8 388.9" stroke="#aaaaaa" stroke-width="2.1" fill="none"/><path d="M363.8 377.9 Q367.8 381.0 371.2 386.4" stroke="#d4d4d4" stroke-width="1.5" fill="none"/><path d="M362.8 388.9 Q367.8 387.0 371.2 386.4" stroke="#aaaaaa" stroke-width="1.5" fill="none"/><path d="M362.8 388.9 Q364.5 391.2 363.1 394.9" stroke="#e4e4e4" stroke-width="2.1" fill="none"/><path d="M363.1 394.9 Q366.4 392.2 374.4 394.8" stroke="#aaaaaa" stroke-width="1.8" fill="none"/><path d="M363.1 394.9 Q361.4 399.4 361.3 409.8" stroke="#e4e4e4" stroke-width="2.1" fill="none"/><path d="M361.3 409.8 Q368.1 409.1 370.9 405.0" stroke="#aaaaaa" stroke-width="1.2" fill="none"/><path d="M361.3 409.8 Q368.4 413.9 372.1 412.2" stroke="#d4d4d4" stroke-width="1.5" fill="none"/><path d="M362.3 415.1 Q367.6 415.8 372.1 412.2" stroke="#d4d4d4" stroke-width="1.2" fill="none"/><path d="M362.3 415.1 Q360.7 416.5 363.8 423.7" stroke="#aaaaaa" stroke-width="1.8" fill="none"/><path d="M362.3 415.1 Q364.3 408.7 370.9 405.0" stroke="#c0c0c0" stroke-width="1.2" fill="none"/><path d="M363.8 423.7 Q360.2 429.9 361.6 430.7" stroke="#aaaaaa" stroke-width="1.8" fill="none"/><path d="M361.6 430.7 Q369.0 429.6 374.8 432.4" stroke="#aaaaaa" stroke-width="1.2" fill="none"/><path d="M361.6 430.7 Q361.6 435.8 361.8 440.8" stroke="#e4e4e4" stroke-width="1.8" fill="none"/><path d="M361.8 440.8 Q364.5 446.4 367.4 449.7" stroke="#e4e4e4" stroke-width="1.8" fill="none"/><path d="M361.8 440.8 Q365.4 435.1 374.8 432.4" stroke="#d4d4d4" stroke-width="1.5" fill="none"/><path d="M367.4 449.7 Q367.5 455.4 367.0 455.5" stroke="#e4e4e4" stroke-width="1.8" fill="none"/><path d="M367.4 449.7 Q372.6 455.4 372.6 459.7" stroke="#c0c0c0" stroke-width="1.2" fill="none"/><path d="M367.0 455.5 Q362.2 459.1 361.1 466.3" stroke="#d4d4d4" stroke-width="1.2" fill="none"/><path d="M367.0 455.5 Q368.8 450.1 374.8 449.5" stroke="#e4e4e4" stroke-width="1.2" fill="none"/><path d="M361.1 466.3 Q365.4 470.5 374.1 469.2" stroke="#e4e4e4" stroke-width="1.8" fill="none"/><path d="M361.1 466.3 Q364.7 471.1 364.4 475.0" stroke="#d4d4d4" stroke-width="1.5" fill="none"/><path d="M364.4 475.0 Q367.3 474.8 374.6 475.9" stroke="#d4d4d4" stroke-width="1.2" fill="none"/><path d="M364.4 475.0 Q363.6 482.4 363.6 483.9" stroke="#e4e4e4" stroke-width="2.1" fill="none"/><path d="M364.4 475.0 Q365.4 479.5 371.4 485.2" stroke="#c0c0c0" stroke-width="1.2" fill="none"/><path d="M363.6 483.9 Q370.1 484.4 371.4 485.2" stroke="#d4d4d4" stroke-width="1.2" fill="none"/><path d="M363.6 483.9 Q365.2 489.7 366.1 494.4" stroke="#d4d4d4" stroke-width="1.2" fill="none"/><path d="M363.6 483.9 Q369.6 478.5 374.6 475.9" stroke="#c0c0c0" stroke-width="1.5" fill="none"/><path d="M366.1 494.4 Q369.3 489.0 372.2 488.9" stroke="#c0c0c0" stroke-width="2.1" fill="none"/><path d="M366.1 494.4 Q365.7 496.6 363.2 499.6" stroke="#c0c0c0" stroke-width="1.5" fill="none"/><path d="M366.1 494.4 Q370.6 496.7 370.0 497.7" stroke="#d4d4d4" stroke-width="2.1" fill="none"/><path d="M363.2 499.6 Q367.6 501.1 366.8 506.6" stroke="#aaaaaa" stroke-width="2.1" fill="none"/><path d="M366.8 506.6 Q370.5 509.5 371.3 509.7" stroke="#e4e4e4" stroke-width="1.2" fill="none"/><path d="M366.8 506.6 Q364.1 510.1 361.8 515.7" stroke="#c0c0c0" stroke-width="1.5" fill="none"/><path d="M370.1 348.9 Q375.7 351.0 383.3 347.4" stroke="#aaaaaa" stroke-width="1.2" fill="none"/><path d="M370.1 348.9 Q369.9 351.7 375.2 354.2" stroke="#e4e4e4" stroke-width="1.8" fill="none"/><path d="M375.2 354.2 Q375.4 355.3 378.2 352.4" stroke="#c0c0c0" stroke-width="2.1" fill="none"/><path d="M375.2 354.2 Q375.0 359.1 370.4 361.1" stroke="#c0c0c0" stroke-width="1.5" fill="none"/><path d="M375.2 354.2 Q380.0 360.0 378.9 363.0" stroke="#c0c0c0" stroke-width="1.8" fill="none"/><path d="M375.2 354.2 Q382.2 350.7 383.3 347.4" stroke="#e4e4e4" stroke-width="1.5" fill="none"/><path d="M370.4 361.1 Q368.6 363.1 371.2 369.6" stroke="#c0c0c0" stroke-width="1.8" fill="none"/><path d="M371.2 369.6 Q374.1 373.9 372.5 381.5" stroke="#e4e4e4" stroke-width="2.1" fill="none"/><path d="M371.2 369.6 Q373.8 375.6 382.3 379.1" stroke="#d4d4d4" stroke-width="2.1" fill="none"/><path d="M372.5 381.5 Q377.4 382.7 382.3 379.1" stroke="#aaaaaa" stroke-width="2.1" fill="none"/><path d="M372.5 381.5 Q374.2 386.5 371.2 386.4" stroke="#aaaaaa" stroke-width="1.5" fill="none"/><path d="M372.5 381.5 Q375.4 376.9 384.0 375.6" stroke="#aaaaaa" stroke-width="1.5" fill="none"/><path d="M371.2 386.4 Q376.9 387.7 381.0 388.5" stroke="#e4e4e4" stroke-width="1.8" fill="none"/><path d="M371.2 386.4 Q372.0 392.1 374.4 394.8" stroke="#d4d4d4" stroke-width="1.8" fill="none"/><path d="M371.2 386.4 Q372.9 393.5 380.3 394.6" stroke="#d4d4d4" stroke-width="1.8" fill="none"/><path d="M374.4 394.8 Q376.1 394.3 380.3 394.6" stroke="#e4e4e4" stroke-width="2.1" fill="none"/><path d="M374.4 394.8 Q372.4 402.9 370.9 405.0" stroke="#c0c0c0" stroke-width="1.8" fill="none"/><path d="M370.9 405.0 Q377.8 407.8 382.1 408.8" stroke="#e4e4e4" stroke-width="1.5" fill="none"/><path d="M370.9 405.0 Q368.8 407.1 372.1 412.2" stroke="#e4e4e4" stroke-width="1.8" fill="none"/><path d="M370.9 405.0 Q375.3 401.4 380.3 394.6" stroke="#aaaaaa" stroke-width="1.2" fill="none"/><path d="M372.1 412.2 Q376.2 413.8 383.1 412.2" stroke="#c0c0c0" stroke-width="1.2" fill="none"/><path d="M372.1 412.2 Q370.9 416.5 372.4 422.2" stroke="#aaaaaa" stroke-width="1.2" fill="none"/><path d="M372.1 412.2 Q374.2 412.5 382.1 408.8" stroke="#aaaaaa" stroke-width="2.1" fill="none"/><path d="M372.4 422.2 Q378.7 418.7 381.7 421.2" stroke="#c0c0c0" stroke-width="1.5" fill="none"/><path d="M372.4 422.2 Q375.1 427.4 374.8 432.4" stroke="#c0c0c0" stroke-width="1.8" fill="none"/><path d="M372.4 422.2 Q379.3 425.7 383.0 431.6" stroke="#aaaaaa" stroke-width="2.1" fill="none"/><path d="M374.8 432.4 Q377.6 432.5 383.0 431.6" stroke="#aaaaaa" stroke-width="2.1" fill="none"/><path d="M374.8 432.4 Q374.5 436.4 375.8 441.6" stroke="#d4d4d4" stroke-width="1.5" fill="none"/><path d="M375.8 441.6 Q380.8 439.3 384.6 442.6" stroke="#e4e4e4" stroke-width="1.8" fill="none"/><path d="M375.8 441.6 Q372.7 443.9 374.8 449.5" stroke="#aaaaaa" stroke-width="1.8" fill="none"/><path d="M375.8 441.6 Q374.6 447.6 378.8 447.7" stroke="#e4e4e4" stroke-width="1.5" fill="none"/><path d="M375.8 441.6 Q380.6 434.8 383.0 431.6" stroke="#c0c0c0" stroke-width="1.5" fill="none"/><path d="M374.8 449.5 Q378.6 450.9 378.8 447.7" stroke="#c0c0c0" stroke-width="1.2" fill="none"/><path d="M374.8 449.5 Q371.5 456.0 372.6 459.7" stroke="#aaaaaa" stroke-width="1.2" fill="none"/><path d="M372.6 459.7 Q372.9 466.9 374.1 469.2" stroke="#e4e4e4" stroke-width="2.1" fill="none"/><path d="M372.6 459.7 Q373.4 454.2 378.8 447.7" stroke="#c0c0c0" stroke-width="1.8" fill="none"/><path d="M374.1 469.2 Q376.3 464.7 381.0 465.6" stroke="#c0c0c0" stroke-width="2.1" fill="none"/><path d="M374.1 469.2 Q375.1 472.6 374.6 475.9" stroke="#aaaaaa" stroke-width="1.5" fill="none"/><path d="M374.1 469.2 Q379.4 474.2 383.4 477.6" stroke="#e4e4e4" stroke-width="2.1" fill="none"/><path d="M374.6 475.9 Q372.9 483.4 371.4 485.2" stroke="#e4e4e4" stroke-width="2.1" fill="none"/><path d="M371.4 485.2 Q373.7 483.0 381.7 486.3" stroke="#c0c0c0" stroke-width="2.1" fill="none"/><path d="M371.4 485.2 Q371.5 487.6 372.2 488.9" stroke="#d4d4d4" stroke-width="1.8" fill="none"/><path d="M372.2 488.9 Q376.6 486.1 382.2 488.7" stroke="#aaaaaa" stroke-width="1.8" fill="none"/><path d="M372.2 488.9 Q371.5 490.7 370.0 497.7" stroke="#d4d4d4" stroke-width="1.5" fill="none"/><path d="M372.2 488.9 Q378.6 496.0 383.7 499.4" stroke="#c0c0c0" stroke-width="1.8" fill="none"/><path d="M372.2 488.9 Q375.6 484.9 381.7 486.3" stroke="#aaaaaa" stroke-width="1.8" fill="none"/><path d="M370.0 497.7 Q376.8 501.4 383.7 499.4" stroke="#e4e4e4" stroke-width="1.2" fill="none"/><path d="M371.3 509.7 Q373.1 513.7 378.4 511.8" stroke="#aaaaaa" stroke-width="2.1" fill="none"/><path d="M371.3 509.7 Q373.8 514.8 378.2 517.5" stroke="#c0c0c0" stroke-width="1.2" fill="none"/><path d="M383.3 347.4 Q385.5 350.3 389.9 349.7" stroke="#d4d4d4" stroke-width="2.1" fill="none"/><path d="M383.3 347.4 Q383.5 348.7 378.2 352.4" stroke="#aaaaaa" stroke-width="1.8" fill="none"/><path d="M378.2 352.4 Q381.5 354.7 389.2 353.5" stroke="#e4e4e4" stroke-width="2.1" fill="none"/><path d="M378.9 363.0 Q386.7 360.0 388.4 361.9" stroke="#e4e4e4" stroke-width="2.1" fill="none"/><path d="M378.9 363.0 Q384.3 371.4 384.0 375.6" stroke="#e4e4e4" stroke-width="2.1" fill="none"/><path d="M384.0 375.6 Q388.2 374.8 390.4 371.5" stroke="#d4d4d4" stroke-width="1.5" fill="none"/><path d="M384.0 375.6 Q385.9 374.6 382.3 379.1" stroke="#e4e4e4" stroke-width="2.1" fill="none"/><path d="M384.0 375.6 Q388.8 371.3 388.4 361.9" stroke="#e4e4e4" stroke-width="1.2" fill="none"/><path d="M382.3 379.1 Q388.0 378.2 391.8 379.2" stroke="#d4d4d4" stroke-width="1.8" fill="none"/><path d="M382.3 379.1 Q380.5 382.5 381.0 388.5" stroke="#c0c0c0" stroke-width="1.2" fill="none"/><path d="M382.3 379.1 Q388.3 378.2 390.4 371.5" stroke="#c0c0c0" stroke-width="2.1" fill="none"/><path d="M381.0 388.5 Q384.8 386.5 389.0 387.7" stroke="#aaaaaa" stroke-width="1.5" fill="none"/><path d="M381.0 388.5 Q383.6 394.0 380.3 394.6" stroke="#c0c0c0" stroke-width="1.5" fill="none"/><path d="M380.3 394.6 Q387.3 397.4 393.4 400.4" stroke="#d4d4d4" stroke-width="1.5" fill="none"/><path d="M380.3 394.6 Q381.4 402.7 382.1 408.8" stroke="#aaaaaa" stroke-width="2.1" fill="none"/><path d="M380.3 394.6 Q388.7 402.1 392.4 407.3" stroke="#e4e4e4" stroke-width="2.1" fill="none"/><path d="M382.1 408.8 Q388.0 405.7 392.4 407.3" stroke="#e4e4e4" stroke-width="1.5" fill="none"/><path d="M382.1 408.8 Q384.9 409.9 389.3 412.5" stroke="#e4e4e4" stroke-width="1.2" fill="none"/><path d="M383.1 412.2 Q387.9 409.8 389.3 412.5" stroke="#aaaaaa" stroke-width="1.5" fill="none"/><path d="M383.1 412.2 Q382.0 414.7 381.7 421.2" stroke="#c0c0c0" stroke-width="1.8" fill="none"/><path d="M383.1 412.2 Q386.0 410.5 392.4 407.3" stroke="#aaaaaa" stroke-width="1.8" fill="none"/><path d="M381.7 421.2 Q386.7 421.8 392.3 423.4" stroke="#c0c0c0" stroke-width="1.2" fill="none"/><path d="M381.7 421.2 Q381.8 428.5 383.0 431.6" stroke="#aaaaaa" stroke-width="1.5" fill="none"/><path d="M383.0 431.6 Q382.2 432.0 386.8 429.7" stroke="#c0c0c0" stroke-width="2.1" fill="none"/><path d="M383.0 431.6 Q386.4 439.6 384.6 442.6" stroke="#d4d4d4" stroke-width="1.5" fill="none"/><path d="M383.0 431.6 Q386.0 428.5 392.3 423.4" stroke="#e4e4e4" stroke-width="2.1" fill="none"/><path d="M384.6 442.6 Q387.1 445.1 387.2 442.0" stroke="#e4e4e4" stroke-width="2.1" fill="none"/><path d="M378.8 447.7 Q388.2 449.4 392.8 446.9" stroke="#d4d4d4" stroke-width="1.2" fill="none"/><path d="M378.8 447.7 Q383.3 452.8 384.4 457.2" stroke="#e4e4e4" stroke-width="2.1" fill="none"/><path d="M384.4 457.2 Q387.3 459.3 392.1 456.3" stroke="#aaaaaa" stroke-width="1.2" fill="none"/><path d="M384.4 457.2 Q383.0 460.6 381.0 465.6" stroke="#c0c0c0" stroke-width="1.5" fill="none"/><path d="M384.4 457.2 Q389.8 462.3 391.3 468.5" stroke="#e4e4e4" stroke-width="1.5" fill="none"/><path d="M381.0 465.6 Q386.7 467.5 391.3 468.5" stroke="#e4e4e4" stroke-width="1.5" fill="none"/><path d="M381.0 465.6 Q381.2 470.3 383.4 477.6" stroke="#c0c0c0" stroke-width="1.2" fill="none"/><path d="M381.0 465.6 Q385.5 470.4 390.9 476.6" stroke="#c0c0c0" stroke-width="2.1" fill="none"/><path d="M383.4 477.6 Q389.0 474.5 390.9 476.6" stroke="#d4d4d4" stroke-width="1.8" fill="none"/><path d="M383.4 477.6 Q382.8 484.5 381.7 486.3" stroke="#c0c0c0" stroke-width="1.8" fill="none"/><path d="M381.7 486.3 Q384.3 484.4 389.1 479.6" stroke="#d4d4d4" stroke-width="1.2" fill="none"/><path d="M381.7 486.3 Q380.8 487.1 382.2 488.7" stroke="#c0c0c0" stroke-width="1.5" fill="none"/><path d="M382.2 488.7 Q385.6 489.6 390.1 492.1" stroke="#c0c0c0" stroke-width="1.5" fill="none"/><path d="M382.2 488.7 Q385.1 492.9 383.7 499.4" stroke="#d4d4d4" stroke-width="1.8" fill="none"/><path d="M383.7 499.4 Q383.9 504.0 378.4 511.8" stroke="#c0c0c0" stroke-width="1.2" fill="none"/><path d="M383.7 499.4 Q384.5 503.5 388.7 505.2" stroke="#e4e4e4" stroke-width="1.5" fill="none"/><path d="M378.4 511.8 Q383.0 510.3 388.7 505.2" stroke="#c0c0c0" stroke-width="2.1" fill="none"/><path d="M378.4 511.8 Q380.4 511.9 378.2 517.5" stroke="#d4d4d4" stroke-width="1.8" fill="none"/><path d="M378.4 511.8 Q383.7 516.4 388.7 516.2" stroke="#c0c0c0" stroke-width="2.1" fill="none"/><path d="M378.4 511.8 Q380.2 503.0 387.8 499.2" stroke="#aaaaaa" stroke-width="1.8" fill="none"/><path d="M378.2 517.5 Q380.8 519.1 388.7 516.2" stroke="#e4e4e4" stroke-width="1.8" fill="none"/><path d="M389.2 353.5 Q393.3 354.4 397.8 358.9" stroke="#d4d4d4" stroke-width="1.8" fill="none"/><path d="M389.2 353.5 Q397.5 357.8 400.7 367.0" stroke="#c0c0c0" stroke-width="1.5" fill="none"/><path d="M388.4 361.9 Q395.9 363.8 400.7 367.0" stroke="#d4d4d4" stroke-width="1.8" fill="none"/><path d="M388.4 361.9 Q388.3 364.1 390.4 371.5" stroke="#d4d4d4" stroke-width="2.1" fill="none"/><path d="M388.4 361.9 Q392.4 359.4 397.8 358.9" stroke="#aaaaaa" stroke-width="1.5" fill="none"/><path d="M390.4 371.5 Q393.5 372.3 399.8 373.7" stroke="#c0c0c0" stroke-width="1.2" fill="none"/><path d="M390.4 371.5 Q392.9 376.9 391.8 379.2" stroke="#e4e4e4" stroke-width="2.1" fill="none"/><path d="M391.8 379.2 Q393.2 378.2 398.8 383.1" stroke="#e4e4e4" stroke-width="1.8" fill="none"/><path d="M391.8 379.2 Q389.0 381.2 389.0 387.7" stroke="#aaaaaa" stroke-width="1.5" fill="none"/><path d="M389.0 387.7 Q391.6 391.3 397.5 390.2" stroke="#c0c0c0" stroke-width="1.8" fill="none"/><path d="M389.0 387.7 Q392.1 392.0 393.4 400.4" stroke="#aaaaaa" stroke-width="1.2" fill="none"/><path d="M389.0 387.7 Q392.3 393.2 399.8 398.2" stroke="#d4d4d4" stroke-width="1.5" fill="none"/><path d="M393.4 400.4 Q398.9 399.2 399.8 398.2" stroke="#d4d4d4" stroke-width="2.1" fill="none"/><path d="M392.4 407.3 Q396.2 408.3 397.0 403.5" stroke="#d4d4d4" stroke-width="2.1" fill="none"/><path d="M392.4 407.3 Q393.4 408.7 389.3 412.5" stroke="#d4d4d4" stroke-width="1.5" fill="none"/><path d="M389.3 412.5 Q390.5 414.7 395.6 414.0" stroke="#d4d4d4" stroke-width="2.1" fill="none"/><path d="M389.3 412.5 Q392.2 417.9 392.3 423.4" stroke="#d4d4d4" stroke-width="1.5" fill="none"/><path d="M392.3 423.4 Q395.6 424.6 399.1 425.3" stroke="#e4e4e4" stroke-width="2.1" fill="none"/><path d="M392.3 423.4 Q391.4 426.2 386.8 429.7" stroke="#e4e4e4" stroke-width="1.8" fill="none"/><path d="M392.3 423.4 Q395.4 417.7 395.6 414.0" stroke="#e4e4e4" stroke-width="1.5" fill="none"/><path d="M386.8 429.7 Q390.6 431.5 400.0 430.6" stroke="#e4e4e4" stroke-width="1.5" fill="none"/><path d="M386.8 429.7 Q389.1 435.3 387.2 442.0" stroke="#e4e4e4" stroke-width="2.1" fill="none"/><path d="M387.2 442.0 Q392.8 446.1 392.8 446.9" stroke="#c0c0c0" stroke-width="1.5" fill="none"/><path d="M387.2 442.0 Q394.8 445.6 400.0 446.0" stroke="#e4e4e4" stroke-width="1.2" fill="none"/><path d="M392.8 446.9 Q395.2 449.3 392.1 456.3" stroke="#c0c0c0" stroke-width="1.8" fill="none"/><path d="M392.8 446.9 Q397.5 445.0 401.5 438.9" stroke="#d4d4d4" stroke-width="2.1" fill="none"/><path d="M392.1 456.3 Q398.1 457.5 400.3 458.7" stroke="#aaaaaa" stroke-width="1.5" fill="none"/><path d="M392.1 456.3 Q389.4 459.5 391.3 468.5" stroke="#c0c0c0" stroke-width="1.2" fill="none"/><path d="M392.1 456.3 Q397.3 463.0 401.7 468.8" stroke="#e4e4e4" stroke-width="1.2" fill="none"/><path d="M391.3 468.5 Q394.3 466.1 401.7 468.8" stroke="#aaaaaa" stroke-width="1.2" fill="none"/><path d="M391.3 468.5 Q388.1 471.1 390.9 476.6" stroke="#c0c0c0" stroke-width="2.1" fill="none"/><path d="M391.3 468.5 Q398.3 465.2 400.3 458.7" stroke="#d4d4d4" stroke-width="1.2" fill="none"/><path d="M390.9 476.6 Q393.5 476.3 399.8 476.9" stroke="#e4e4e4" stroke-width="2.1" fill="none"/><path d="M390.9 476.6 Q387.4 479.5 389.1 479.6" stroke="#d4d4d4" stroke-width="1.8" fill="none"/><path d="M390.9 476.6 Q394.1 479.5 400.2 483.8" stroke="#d4d4d4" stroke-width="1.2" fill="none"/><path d="M389.1 479.6 Q394.4 481.0 400.2 483.8" stroke="#c0c0c0" stroke-width="1.2" fill="none"/><path d="M389.1 479.6 Q390.8 483.1 396.5 491.6" stroke="#aaaaaa" stroke-width="1.8" fill="none"/><path d="M390.1 492.1 Q391.0 494.7 396.5 491.6" stroke="#c0c0c0" stroke-width="2.1" fill="none"/><path d="M390.1 492.1 Q391.1 494.8 387.8 499.2" stroke="#e4e4e4" stroke-width="1.8" fill="none"/><path d="M387.8 499.2 Q395.3 500.0 401.3 498.2" stroke="#d4d4d4" stroke-width="1.2" fill="none"/><path d="M388.7 505.2 Q397.5 505.3 401.8 508.8" stroke="#d4d4d4" stroke-width="1.8" fill="none"/><path d="M388.7 505.2 Q391.4 506.4 397.8 513.5" stroke="#aaaaaa" stroke-width="1.8" fill="none"/><path d="M388.7 505.2 Q394.0 502.6 401.3 498.2" stroke="#e4e4e4" stroke-width="2.1" fill="none"/><path d="M388.7 516.2 Q392.7 515.3 397.8 513.5" stroke="#c0c0c0" stroke-width="2.1" fill="none"/><path d="M388.7 516.2 Q395.3 512.4 401.8 508.8" stroke="#d4d4d4" stroke-width="2.1" fill="none"/><path d="M398.3 348.4 Q400.7 344.5 406.2 344.7" stroke="#aaaaaa" stroke-width="2.1" fill="none"/><path d="M398.3 348.4 Q397.8 350.9 397.8 358.9" stroke="#e4e4e4" stroke-width="1.8" fill="none"/><path d="M397.8 358.9 Q405.3 360.9 408.1 358.3" stroke="#d4d4d4" stroke-width="1.8" fill="none"/><path d="M400.7 367.0 Q401.4 367.5 399.8 373.7" stroke="#d4d4d4" stroke-width="1.5" fill="none"/><path d="M400.7 367.0 Q401.7 366.9 406.2 369.8" stroke="#aaaaaa" stroke-width="1.8" fill="none"/><path d="M399.8 373.7 Q397.6 376.0 398.8 383.1" stroke="#d4d4d4" stroke-width="1.8" fill="none"/><path d="M398.8 383.1 Q398.8 388.9 397.5 390.2" stroke="#d4d4d4" stroke-width="1.8" fill="none"/><path d="M397.5 390.2 Q401.8 388.9 408.5 388.6" stroke="#c0c0c0" stroke-width="2.1" fill="none"/><path d="M397.5 390.2 Q399.7 395.8 399.8 398.2" stroke="#aaaaaa" stroke-width="1.2" fill="none"/><path d="M397.5 390.2 Q403.6 387.1 408.3 381.4" stroke="#e4e4e4" stroke-width="1.2" fill="none"/><path d="M399.8 398.2 Q403.4 393.3 408.5 388.6" stroke="#d4d4d4" stroke-width="1.8" fill="none"/><path d="M397.0 403.5 Q401.0 401.5 405.6 404.9" stroke="#aaaaaa" stroke-width="2.1" fill="none"/><path d="M397.0 403.5 Q394.2 407.8 395.6 414.0" stroke="#e4e4e4" stroke-width="2.1" fill="none"/><path d="M395.6 414.0 Q402.1 418.8 407.9 417.8" stroke="#c0c0c0" stroke-width="2.1" fill="none"/><path d="M395.6 414.0 Q398.3 422.5 399.1 425.3" stroke="#c0c0c0" stroke-width="2.1" fill="none"/><path d="M395.6 414.0 Q401.5 407.9 405.6 404.9" stroke="#aaaaaa" stroke-width="1.5" fill="none"/><path d="M399.1 425.3 Q400.8 423.2 404.7 424.4" stroke="#c0c0c0" stroke-width="1.5" fill="none"/><path d="M399.1 425.3 Q397.7 425.7 400.0 430.6" stroke="#aaaaaa" stroke-width="1.5" fill="none"/><path d="M400.0 430.6 Q407.2 431.0 408.9 430.1" stroke="#aaaaaa" stroke-width="1.2" fill="none"/><path d="M401.5 438.9 Q400.0 440.6 403.9 441.0" stroke="#d4d4d4" stroke-width="1.2" fill="none"/><path d="M401.5 438.9 Q399.4 443.9 400.0 446.0" stroke="#c0c0c0" stroke-width="1.5" fill="none"/><path d="M400.0 446.0 Q402.1 446.6 409.3 451.7" stroke="#c0c0c0" stroke-width="1.5" fill="none"/><path d="M400.0 446.0 Q399.9 450.5 400.3 458.7" stroke="#aaaaaa" stroke-width="1.2" fill="none"/><path d="M400.3 458.7 Q398.6 460.9 401.7 468.8" stroke="#aaaaaa" stroke-width="2.1" fill="none"/><path d="M401.7 468.8 Q404.0 469.0 406.5 466.2" stroke="#e4e4e4" stroke-width="1.2" fill="none"/><path d="M401.7 468.8 Q400.1 471.1 399.8 476.9" stroke="#d4d4d4" stroke-width="1.8" fill="none"/><path d="M399.8 476.9 Q402.4 473.1 409.8 473.1" stroke="#aaaaaa" stroke-width="1.2" fill="none"/><path d="M399.8 476.9 Q398.0 478.8 400.2 483.8" stroke="#d4d4d4" stroke-width="1.5" fill="none"/><path d="M399.8 476.9 Q402.7 469.5 406.5 466.2" stroke="#aaaaaa" stroke-width="2.1" fill="none"/><path d="M400.2 483.8 Q395.3 487.2 396.5 491.6" stroke="#e4e4e4" stroke-width="1.8" fill="none"/><path d="M396.5 491.6 Q401.5 493.4 410.3 489.3" stroke="#c0c0c0" stroke-width="1.5" fill="none"/><path d="M396.5 491.6 Q396.3 495.5 401.3 498.2" stroke="#e4e4e4" stroke-width="1.8" fill="none"/><path d="M401.3 498.2 Q405.4 500.0 403.7 497.3" stroke="#d4d4d4" stroke-width="2.1" fill="none"/><path d="M401.3 498.2 Q399.1 503.6 401.8 508.8" stroke="#c0c0c0" stroke-width="1.5" fill="none"/><path d="M401.8 508.8 Q403.5 506.7 407.4 509.2" stroke="#d4d4d4" stroke-width="1.5" fill="none"/><path d="M397.8 513.5 Q398.7 514.4 404.8 514.8" stroke="#e4e4e4" stroke-width="2.1" fill="none"/><path d="M406.2 344.7 Q407.6 349.1 408.1 358.3" stroke="#e4e4e4" stroke-width="1.5" fill="none"/><path d="M408.1 358.3 Q411.4 355.5 416.8 357.1" stroke="#aaaaaa" stroke-width="1.2" fill="none"/><path d="M408.1 358.3 Q407.9 362.3 409.9 364.8" stroke="#c0c0c0" stroke-width="1.2" fill="none"/><path d="M409.9 364.8 Q411.4 365.1 412.4 363.9" stroke="#c0c0c0" stroke-width="1.2" fill="none"/><path d="M409.9 364.8 Q415.5 372.4 417.8 375.7" stroke="#d4d4d4" stroke-width="2.1" fill="none"/><path d="M406.2 369.8 Q411.7 371.7 417.8 375.7" stroke="#d4d4d4" stroke-width="1.8" fill="none"/><path d="M406.2 369.8 Q409.8 365.9 412.4 363.9" stroke="#c0c0c0" stroke-width="2.1" fill="none"/><path d="M408.3 381.4 Q406.2 387.7 408.5 388.6" stroke="#aaaaaa" stroke-width="1.2" fill="none"/><path d="M408.3 381.4 Q410.9 376.7 417.8 375.7" stroke="#c0c0c0" stroke-width="1.8" fill="none"/><path d="M408.5 388.6 Q411.5 390.8 416.5 392.5" stroke="#aaaaaa" stroke-width="2.1" fill="none"/><path d="M408.5 388.6 Q408.5 393.3 409.7 396.0" stroke="#d4d4d4" stroke-width="1.8" fill="none"/><path d="M405.6 404.9 Q409.1 406.6 417.9 406.3" stroke="#aaaaaa" stroke-width="1.5" fill="none"/><path d="M405.6 404.9 Q408.1 413.4 407.9 417.8" stroke="#c0c0c0" stroke-width="2.1" fill="none"/><path d="M407.9 417.8 Q411.7 412.6 412.7 412.9" stroke="#e4e4e4" stroke-width="1.5" fill="none"/><path d="M407.9 417.8 Q407.5 423.4 404.7 424.4" stroke="#e4e4e4" stroke-width="1.8" fill="none"/><path d="M407.9 417.8 Q412.4 420.9 413.1 420.6" stroke="#e4e4e4" stroke-width="2.1" fill="none"/><path d="M404.7 424.4 Q409.8 424.3 408.9 430.1" stroke="#aaaaaa" stroke-width="1.5" fill="none"/><path d="M408.9 430.1 Q408.2 430.3 413.1 432.8" stroke="#d4d4d4" stroke-width="1.5" fill="none"/><path d="M408.9 430.1 Q404.6 438.3 403.9 441.0" stroke="#aaaaaa" stroke-width="1.8" fill="none"/><path d="M408.9 430.1 Q410.6 425.3 413.1 420.6" stroke="#d4d4d4" stroke-width="1.2" fill="none"/><path d="M403.9 441.0 Q408.1 438.7 412.7 442.3" stroke="#e4e4e4" stroke-width="2.1" fill="none"/><path d="M403.9 441.0 Q404.7 444.6 409.3 451.7" stroke="#c0c0c0" stroke-width="1.8" fill="none"/><path d="M409.3 451.7 Q414.7 451.7 417.2 451.2" stroke="#e4e4e4" stroke-width="1.5" fill="none"/><path d="M409.3 451.7 Q406.0 452.9 408.6 456.9" stroke="#c0c0c0" stroke-width="1.5" fill="none"/><path d="M406.5 466.2 Q414.5 465.6 418.5 469.2" stroke="#e4e4e4" stroke-width="1.8" fill="none"/><path d="M406.5 466.2 Q408.9 472.6 409.8 473.1" stroke="#d4d4d4" stroke-width="2.1" fill="none"/><path d="M409.8 473.1 Q414.9 474.0 416.4 477.8" stroke="#d4d4d4" stroke-width="1.2" fill="none"/><path d="M409.8 473.1 Q408.8 481.2 405.5 483.7" stroke="#aaaaaa" stroke-width="1.5" fill="none"/><path d="M409.8 473.1 Q414.3 477.8 412.7 480.2" stroke="#aaaaaa" stroke-width="1.5" fill="none"/><path d="M405.5 483.7 Q407.4 484.5 410.3 489.3" stroke="#aaaaaa" stroke-width="1.8" fill="none"/><path d="M405.5 483.7 Q412.4 483.4 416.4 477.8" stroke="#aaaaaa" stroke-width="2.1" fill="none"/><path d="M410.3 489.3 Q412.2 486.7 412.5 489.4" stroke="#aaaaaa" stroke-width="2.1" fill="none"/><path d="M403.7 497.3 Q407.1 497.7 414.6 499.7" stroke="#e4e4e4" stroke-width="1.2" fill="none"/><path d="M403.7 497.3 Q406.5 495.2 412.5 489.4" stroke="#e4e4e4" stroke-width="1.2" fill="none"/><path d="M407.4 509.2 Q412.2 509.1 416.8 510.2" stroke="#e4e4e4" stroke-width="2.1" fill="none"/><path d="M407.4 509.2 Q408.0 512.6 404.8 514.8" stroke="#e4e4e4" stroke-width="1.2" fill="none"/><path d="M404.8 514.8 Q411.0 514.6 412.6 516.3" stroke="#c0c0c0" stroke-width="1.2" fill="none"/><path d="M404.8 514.8 Q411.0 513.8 416.8 510.2" stroke="#d4d4d4" stroke-width="2.1" fill="none"/><path d="M416.2 348.0 Q419.5 346.9 424.3 346.1" stroke="#aaaaaa" stroke-width="1.5" fill="none"/><path d="M416.2 348.0 Q417.9 352.5 416.8 357.1" stroke="#aaaaaa" stroke-width="1.2" fill="none"/><path d="M416.8 357.1 Q414.4 357.9 412.4 363.9" stroke="#aaaaaa" stroke-width="2.1" fill="none"/><path d="M412.4 363.9 Q415.6 366.0 423.1 365.3" stroke="#c0c0c0" stroke-width="1.2" fill="none"/><path d="M412.4 363.9 Q413.1 368.6 417.8 375.7" stroke="#e4e4e4" stroke-width="2.1" fill="none"/><path d="M417.8 375.7 Q421.8 375.6 424.0 375.7" stroke="#aaaaaa" stroke-width="1.2" fill="none"/><path d="M417.8 375.7 Q419.0 381.4 414.2 383.5" stroke="#d4d4d4" stroke-width="1.5" fill="none"/><path d="M414.2 383.5 Q421.1 379.1 427.1 378.0" stroke="#c0c0c0" stroke-width="1.2" fill="none"/><path d="M414.2 383.5 Q412.4 385.6 416.5 392.5" stroke="#aaaaaa" stroke-width="1.5" fill="none"/><path d="M414.2 383.5 Q421.6 385.3 425.8 391.0" stroke="#aaaaaa" stroke-width="1.5" fill="none"/><path d="M414.2 383.5 Q417.2 380.0 424.0 375.7" stroke="#e4e4e4" stroke-width="1.2" fill="none"/><path d="M416.5 392.5 Q421.9 391.7 425.8 391.0" stroke="#e4e4e4" stroke-width="1.8" fill="none"/><path d="M416.5 392.5 Q414.5 397.6 413.6 399.4" stroke="#e4e4e4" stroke-width="2.1" fill="none"/><path d="M413.6 399.4 Q417.0 400.0 422.6 395.3" stroke="#e4e4e4" stroke-width="1.2" fill="none"/><path d="M413.6 399.4 Q416.9 404.2 417.9 406.3" stroke="#c0c0c0" stroke-width="1.8" fill="none"/><path d="M413.6 399.4 Q417.3 402.1 423.9 405.5" stroke="#c0c0c0" stroke-width="1.5" fill="none"/><path d="M413.6 399.4 Q417.6 393.5 425.8 391.0" stroke="#e4e4e4" stroke-width="2.1" fill="none"/><path d="M417.9 406.3 Q422.9 407.2 423.9 405.5" stroke="#c0c0c0" stroke-width="2.1" fill="none"/><path d="M417.9 406.3 Q418.0 409.3 412.7 412.9" stroke="#c0c0c0" stroke-width="1.2" fill="none"/><path d="M412.7 412.9 Q421.6 414.0 425.7 417.9" stroke="#d4d4d4" stroke-width="2.1" fill="none"/><path d="M412.7 412.9 Q410.5 416.0 413.1 420.6" stroke="#e4e4e4" stroke-width="1.8" fill="none"/><path d="M413.1 420.6 Q417.2 420.6 423.2 422.0" stroke="#e4e4e4" stroke-width="1.2" fill="none"/><path d="M413.1 420.6 Q420.1 425.0 424.0 433.4" stroke="#e4e4e4" stroke-width="1.2" fill="none"/><path d="M413.1 432.8 Q420.5 430.4 424.0 433.4" stroke="#d4d4d4" stroke-width="1.8" fill="none"/><path d="M413.1 432.8 Q415.6 439.0 412.7 442.3" stroke="#aaaaaa" stroke-width="2.1" fill="none"/><path d="M413.1 432.8 Q419.1 428.8 423.2 422.0" stroke="#e4e4e4" stroke-width="2.1" fill="none"/><path d="M412.7 442.3 Q412.9 448.9 417.2 451.2" stroke="#d4d4d4" stroke-width="1.8" fill="none"/><path d="M417.2 451.2 Q421.4 450.0 422.6 447.9" stroke="#e4e4e4" stroke-width="1.8" fill="none"/><path d="M417.2 451.2 Q418.1 454.8 417.6 459.0" stroke="#e4e4e4" stroke-width="1.5" fill="none"/><path d="M417.2 451.2 Q419.5 443.8 426.0 441.0" stroke="#e4e4e4" stroke-width="1.8" fill="none"/><path d="M417.6 459.0 Q421.5 456.3 426.4 457.6" stroke="#d4d4d4" stroke-width="1.5" fill="none"/><path d="M417.6 459.0 Q418.8 465.1 418.5 469.2" stroke="#e4e4e4" stroke-width="1.8" fill="none"/><path d="M418.5 469.2 Q417.7 474.2 416.4 477.8" stroke="#c0c0c0" stroke-width="1.8" fill="none"/><path d="M416.4 477.8 Q420.4 474.7 422.2 475.7" stroke="#d4d4d4" stroke-width="1.5" fill="none"/><path d="M416.4 477.8 Q414.6 480.9 412.7 480.2" stroke="#e4e4e4" stroke-width="1.2" fill="none"/><path d="M416.4 477.8 Q419.8 470.4 420.9 465.4" stroke="#e4e4e4" stroke-width="1.5" fill="none"/><path d="M412.7 480.2 Q415.4 478.8 421.0 481.4" stroke="#d4d4d4" stroke-width="1.5" fill="none"/><path d="M412.7 480.2 Q413.6 483.2 412.5 489.4" stroke="#c0c0c0" stroke-width="2.1" fill="none"/><path d="M412.5 489.4 Q414.9 488.2 421.2 491.3" stroke="#c0c0c0" stroke-width="2.1" fill="none"/><path d="M412.5 489.4 Q414.8 485.2 421.0 481.4" stroke="#e4e4e4" stroke-width="1.5" fill="none"/><path d="M414.6 499.7 Q414.2 505.9 416.8 510.2" stroke="#aaaaaa" stroke-width="1.2" fill="none"/><path d="M416.8 510.2 Q420.4 511.5 423.2 511.5" stroke="#c0c0c0" stroke-width="1.8" fill="none"/><path d="M416.8 510.2 Q422.3 504.7 427.4 500.3" stroke="#c0c0c0" stroke-width="1.5" fill="none"/><path d="M412.6 516.3 Q415.5 513.6 421.1 516.0" stroke="#aaaaaa" stroke-width="1.2" fill="none"/><path d="M412.6 516.3 Q420.2 513.9 423.2 511.5" stroke="#d4d4d4" stroke-width="1.2" fill="none"/><path d="M424.3 346.1 Q429.0 344.3 434.7 343.5" stroke="#aaaaaa" stroke-width="2.1" fill="none"/><path d="M424.3 346.1 Q424.0 351.2 421.3 356.2" stroke="#c0c0c0" stroke-width="1.8" fill="none"/><path d="M421.3 356.2 Q430.2 353.5 434.4 354.5" stroke="#c0c0c0" stroke-width="2.1" fill="none"/><path d="M421.3 356.2 Q424.8 360.9 423.1 365.3" stroke="#d4d4d4" stroke-width="1.2" fill="none"/><path d="M423.1 365.3 Q426.0 369.9 424.0 375.7" stroke="#c0c0c0" stroke-width="1.2" fill="none"/><path d="M423.1 365.3 Q426.5 361.4 434.4 354.5" stroke="#e4e4e4" stroke-width="1.2" fill="none"/><path d="M424.0 375.7 Q427.2 376.2 432.2 371.7" stroke="#c0c0c0" stroke-width="1.2" fill="none"/><path d="M424.0 375.7 Q423.6 378.1 427.1 378.0" stroke="#aaaaaa" stroke-width="1.2" fill="none"/><path d="M424.0 375.7 Q427.4 366.6 429.1 362.3" stroke="#d4d4d4" stroke-width="1.5" fill="none"/><path d="M427.1 378.0 Q431.8 378.7 432.6 377.9" stroke="#d4d4d4" stroke-width="1.8" fill="none"/><path d="M427.1 378.0 Q423.6 383.3 425.8 391.0" stroke="#d4d4d4" stroke-width="2.1" fill="none"/><path d="M425.8 391.0 Q432.0 383.3 432.6 377.9" stroke="#c0c0c0" stroke-width="1.5" fill="none"/><path d="M422.6 395.3 Q427.7 398.6 432.1 397.8" stroke="#d4d4d4" stroke-width="2.1" fill="none"/><path d="M422.6 395.3 Q425.0 399.3 423.9 405.5" stroke="#e4e4e4" stroke-width="2.1" fill="none"/><path d="M423.9 405.5 Q425.2 407.5 429.6 405.0" stroke="#c0c0c0" stroke-width="1.8" fill="none"/><path d="M423.9 405.5 Q423.8 409.6 425.7 417.9" stroke="#aaaaaa" stroke-width="1.5" fill="none"/><path d="M425.7 417.9 Q432.4 414.2 435.7 416.3" stroke="#d4d4d4" stroke-width="1.8" fill="none"/><path d="M425.7 417.9 Q424.1 421.9 423.2 422.0" stroke="#c0c0c0" stroke-width="1.5" fill="none"/><path d="M425.7 417.9 Q427.3 416.2 432.6 420.4" stroke="#d4d4d4" stroke-width="1.5" fill="none"/><path d="M425.7 417.9 Q426.1 410.8 429.6 405.0" stroke="#e4e4e4" stroke-width="1.8" fill="none"/><path d="M423.2 422.0 Q426.8 430.9 431.7 433.9" stroke="#e4e4e4" stroke-width="1.8" fill="none"/><path d="M424.0 433.4 Q430.6 435.3 431.7 433.9" stroke="#c0c0c0" stroke-width="1.8" fill="none"/><path d="M424.0 433.4 Q424.8 439.4 426.0 441.0" stroke="#c0c0c0" stroke-width="1.8" fill="none"/><path d="M424.0 433.4 Q429.6 438.0 432.0 441.2" stroke="#aaaaaa" stroke-width="2.1" fill="none"/><path d="M426.0 441.0 Q427.9 441.4 432.0 441.2" stroke="#e4e4e4" stroke-width="1.2" fill="none"/><path d="M426.0 441.0 Q426.8 443.4 422.6 447.9" stroke="#c0c0c0" stroke-width="1.5" fill="none"/><path d="M422.6 447.9 Q428.7 449.0 435.3 450.0" stroke="#e4e4e4" stroke-width="1.5" fill="none"/><path d="M422.6 447.9 Q422.9 453.9 426.4 457.6" stroke="#d4d4d4" stroke-width="1.5" fill="none"/><path d="M426.4 457.6 Q430.7 454.3 433.5 454.3" stroke="#aaaaaa" stroke-width="1.8" fill="none"/><path d="M426.4 457.6 Q424.7 459.0 420.9 465.4" stroke="#d4d4d4" stroke-width="2.1" fill="none"/><path d="M426.4 457.6 Q427.9 452.3 435.3 450.0" stroke="#aaaaaa" stroke-width="1.2" fill="none"/><path d="M420.9 465.4 Q423.5 468.7 429.2 467.9" stroke="#c0c0c0" stroke-width="1.5" fill="none"/><path d="M420.9 465.4 Q420.5 468.6 422.2 475.7" stroke="#aaaaaa" stroke-width="1.2" fill="none"/><path d="M420.9 465.4 Q427.4 470.4 431.9 477.1" stroke="#d4d4d4" stroke-width="1.8" fill="none"/><path d="M422.2 475.7 Q424.1 474.9 431.9 477.1" stroke="#c0c0c0" stroke-width="1.8" fill="none"/><path d="M422.2 475.7 Q423.5 480.4 421.0 481.4" stroke="#d4d4d4" stroke-width="2.1" fill="none"/><path d="M422.2 475.7 Q430.7 478.3 434.8 485.9" stroke="#e4e4e4" stroke-width="1.5" fill="none"/><path d="M422.2 475.7 Q428.5 472.7 429.2 467.9" stroke="#d4d4d4" stroke-width="1.5" fill="none"/><path d="M421.0 481.4 Q430.3 481.2 434.8 485.9" stroke="#c0c0c0" stroke-width="1.5" fill="none"/><path d="M421.0 481.4 Q420.3 487.2 421.2 491.3" stroke="#e4e4e4" stroke-width="1.5" fill="none"/><path d="M421.2 491.3 Q423.8 493.8 431.6 495.0" stroke="#e4e4e4" stroke-width="1.2" fill="none"/><path d="M421.2 491.3 Q426.6 498.4 427.4 500.3" stroke="#d4d4d4" stroke-width="2.1" fill="none"/><path d="M427.4 500.3 Q433.6 498.7 434.3 502.7" stroke="#e4e4e4" stroke-width="2.1" fill="none"/><path d="M427.4 500.3 Q426.6 506.3 423.2 511.5" stroke="#d4d4d4" stroke-width="1.2" fill="none"/><path d="M427.4 500.3 Q426.0 508.3 430.0 510.5" stroke="#c0c0c0" stroke-width="1.8" fill="none"/><path d="M423.2 511.5 Q429.1 509.3 430.0 510.5" stroke="#c0c0c0" stroke-width="1.5" fill="none"/><path d="M423.2 511.5 Q422.1 512.0 421.1 516.0" stroke="#aaaaaa" stroke-width="2.1" fill="none"/><path d="M421.1 516.0 Q428.6 521.0 432.0 520.3" stroke="#e4e4e4" stroke-width="1.8" fill="none"/><path d="M434.7 343.5 Q433.7 349.5 434.4 354.5" stroke="#e4e4e4" stroke-width="1.5" fill="none"/><path d="M434.4 354.5 Q428.8 358.1 429.1 362.3" stroke="#d4d4d4" stroke-width="1.2" fill="none"/><path d="M429.1 362.3 Q433.4 367.4 432.2 371.7" stroke="#d4d4d4" stroke-width="1.8" fill="none"/><path d="M432.6 377.9 Q429.5 384.8 430.5 392.8" stroke="#aaaaaa" stroke-width="2.1" fill="none"/><path d="M430.5 392.8 Q429.7 396.8 432.1 397.8" stroke="#e4e4e4" stroke-width="2.1" fill="none"/><path d="M432.1 397.8 Q428.6 401.3 429.6 405.0" stroke="#c0c0c0" stroke-width="1.2" fill="none"/><path d="M429.6 405.0 Q433.6 413.4 435.7 416.3" stroke="#e4e4e4" stroke-width="1.2" fill="none"/><path d="M435.7 416.3 Q437.0 419.3 432.6 420.4" stroke="#c0c0c0" stroke-width="1.5" fill="none"/><path d="M431.7 433.9 Q433.2 436.5 432.0 441.2" stroke="#e4e4e4" stroke-width="1.5" fill="none"/><path d="M432.0 441.2 Q432.7 443.5 435.3 450.0" stroke="#e4e4e4" stroke-width="1.8" fill="none"/><path d="M435.3 450.0 Q434.8 453.9 433.5 454.3" stroke="#aaaaaa" stroke-width="1.5" fill="none"/><path d="M429.2 467.9 Q428.3 469.6 431.9 477.1" stroke="#c0c0c0" stroke-width="2.1" fill="none"/><path d="M431.9 477.1 Q434.0 481.8 434.8 485.9" stroke="#e4e4e4" stroke-width="1.8" fill="none"/><path d="M434.8 485.9 Q435.3 487.6 431.6 495.0" stroke="#c0c0c0" stroke-width="1.8" fill="none"/><path d="M431.6 495.0 Q430.5 496.0 434.3 502.7" stroke="#d4d4d4" stroke-width="1.8" fill="none"/><path d="M430.0 510.5 Q429.0 517.3 432.0 520.3" stroke="#c0c0c0" stroke-width="1.8" fill="none"/><path d="M374.8 470.5 Q378.0 474.0 390.8 450.0" stroke="#b8b8b8" stroke-width="1" fill="none"/><path d="M351.6 431.6 Q368.2 429.4 404.5 397.7" stroke="#b8b8b8" stroke-width="1" fill="none"/><path d="M369.9 423.0 Q384.0 394.8 372.3 369.4" stroke="#b8b8b8" stroke-width="1" fill="none"/><path d="M324.0 486.2 Q299.4 475.0 279.1 480.0" stroke="#b8b8b8" stroke-width="1" fill="none"/><path d="M417.9 470.6 Q429.8 452.1 460.2 460.3" stroke="#b8b8b8" stroke-width="1" fill="none"/><path d="M365.9 452.3 Q376.3 492.0 403.0 506.6" stroke="#b8b8b8" stroke-width="1" fill="none"/><path d="M392.1 455.4 Q407.6 456.3 424.5 437.8" stroke="#b8b8b8" stroke-width="1" fill="none"/><path d="M395.5 483.8 Q360.3 499.0 343.1 507.0" stroke="#b8b8b8" stroke-width="1" fill="none"/><path d="M297.0 370.2 Q310.1 365.5 329.5 378.0" stroke="#b8b8b8" stroke-width="1" fill="none"/><path d="M339.2 386.0 Q342.9 389.0 317.6 411.5" stroke="#b8b8b8" stroke-width="1" fill="none"/><path d="M335.1 441.9 Q354.2 449.7 397.0 433.2" stroke="#b8b8b8" stroke-width="1" fill="none"/><path d="M286.9 401.9 Q253.5 421.1 228.3 418.8" stroke="#b8b8b8" stroke-width="1" fill="none"/><path d="M400.3 450.7 Q428.3 440.4 439.9 407.7" stroke="#b8b8b8" stroke-width="1" fill="none"/><path d="M279.9 501.1 Q310.3 495.0 346.2 480.4" stroke="#b8b8b8" stroke-width="1" fill="none"/><path d="M391.8 374.0 Q403.7 355.7 430.3 324.5" stroke="#b8b8b8" stroke-width="1" fill="none"/><path d="M398.6 400.6 Q391.2 409.9 387.3 427.9" stroke="#b8b8b8" stroke-width="1" fill="none"/><path d="M417.6 500.1 Q444.7 525.2 453.1 542.5" stroke="#b8b8b8" stroke-width="1" fill="none"/><path d="M343.9 385.5 Q344.3 396.7 325.6 403.9" stroke="#b8b8b8" stroke-width="1" fill="none"/><path d="M339.3 470.4 Q318.0 464.4 285.3 443.1" stroke="#b8b8b8" stroke-width="1" fill="none"/><path d="M396.4 491.8 Q396.1 476.7 409.0 445.6" stroke="#b8b8b8" stroke-width="1" fill="none"/><path d="M286.6 370.4 Q247.6 405.3 236.6 414.4" stroke="#b8b8b8" stroke-width="1" fill="none"/><path d="M413.3 413.8 Q387.4 410.5 367.0 422.3" stroke="#b8b8b8" stroke-width="1" fill="none"/><path d="M325.8 429.2 Q323.3 404.1 304.6 407.9" stroke="#b8b8b8" stroke-width="1" fill="none"/><path d="M310.1 362.8 Q317.8 338.7 301.9 316.4" stroke="#b8b8b8" stroke-width="1" fill="none"/><path d="M329.1 465.2 Q348.4 481.8 392.4 494.8" stroke="#b8b8b8" stroke-width="1" fill="none"/><path d="M339.0 484.2 Q366.0 494.6 385.1 511.1" stroke="#b8b8b8" stroke-width="1" fill="none"/><path d="M363.3 440.1 Q355.4 402.7 345.7 375.5" stroke="#b8b8b8" stroke-width="1" fill="none"/><path d="M331.3 494.9 Q314.0 529.2 324.2 538.2" stroke="#b8b8b8" stroke-width="1" fill="none"/><path d="M399.9 463.4 Q392.9 441.3 407.1 398.2" stroke="#b8b8b8" stroke-width="1" fill="none"/><path d="M415.7 392.0 Q431.0 399.8 446.5 398.5" stroke="#b8b8b8" stroke-width="1" fill="none"/><path d="M348.6 490.9 Q345.0 469.9 369.2 461.2" stroke="#b8b8b8" stroke-width="1" fill="none"/><path d="M357.4 493.2 Q364.7 511.1 367.4 554.5" stroke="#b8b8b8" stroke-width="1" fill="none"/><path d="M377.8 464.2 Q358.4 458.3 356.0 448.7" stroke="#b8b8b8" stroke-width="1" fill="none"/><path d="M413.1 494.3 Q387.0 486.0 363.8 463.4" stroke="#b8b8b8" stroke-width="1" fill="none"/><path d="M299.1 449.5 Q266.2 444.3 249.5 460.7" stroke="#b8b8b8" stroke-width="1" fill="none"/><path d="M372.9 473.5 Q346.7 469.6 349.6 487.4" stroke="#b8b8b8" stroke-width="1" fill="none"/><path d="M332.6 402.4 Q331.6 421.8 317.3 433.0" stroke="#b8b8b8" stroke-width="1" fill="none"/><path d="M340.3 434.2 Q328.9 443.9 309.8 463.4" stroke="#b8b8b8" stroke-width="1" fill="none"/><path d="M283.0 362.1 Q316.5 371.2 343.6 373.6" stroke="#b8b8b8" stroke-width="1" fill="none"/><path d="M353.3 444.6 Q331.4 448.1 333.5 476.0" stroke="#b8b8b8" stroke-width="1" fill="none"/><path d="M377.4 447.6 Q362.0 443.0 350.3 463.5" stroke="#b8b8b8" stroke-width="1" fill="none"/><path d="M418.7 422.2 Q396.8 406.8 371.1 405.5" stroke="#b8b8b8" stroke-width="1" fill="none"/><path d="M339.9 394.0 Q321.6 395.7 296.8 406.7" stroke="#b8b8b8" stroke-width="1" fill="none"/><path d="M407.1 436.4 Q409.2 418.6 385.2 380.7" stroke="#b8b8b8" stroke-width="1" fill="none"/><path d="M412.0 419.8 Q393.3 421.6 398.2 393.9" stroke="#b8b8b8" stroke-width="1" fill="none"/><path d="M308.6 377.5 Q297.5 396.6 310.3 411.2" stroke="#b8b8b8" stroke-width="1" fill="none"/><path d="M387.3 486.7 Q361.6 481.6 345.2 482.0" stroke="#b8b8b8" stroke-width="1" fill="none"/><path d="M334.7 493.1 Q304.8 499.5 285.1 482.9" stroke="#b8b8b8" stroke-width="1" fill="none"/><path d="M349.0 385.5 Q329.9 387.2 311.4 367.6" stroke="#b8b8b8" stroke-width="1" fill="none"/><path d="M275.0 377.9 Q275.2 352.3 284.9 341.1" stroke="#b8b8b8" stroke-width="1" fill="none"/><path d="M401.6 381.7 Q404.5 361.3 422.8 357.3" stroke="#b8b8b8" stroke-width="1" fill="none"/><path d="M281.9 490.9 Q302.5 515.3 315.5 516.6" stroke="#b8b8b8" stroke-width="1" fill="none"/><path d="M383.9 428.0 Q396.9 416.0 428.5 413.5" stroke="#b8b8b8" stroke-width="1" fill="none"/><path d="M280.7 500.9 Q305.4 494.2 314.6 495.3" stroke="#b8b8b8" stroke-width="1" fill="none"/><path d="M330.3 442.0 Q345.9 426.0 360.9 430.6" stroke="#b8b8b8" stroke-width="1" fill="none"/><path d="M362.5 364.1 Q369.5 352.8 352.7 336.1" stroke="#b8b8b8" stroke-width="1" fill="none"/><path d="M281.6 398.9 Q296.6 433.9 328.6 446.9" stroke="#b8b8b8" stroke-width="1" fill="none"/><path d="M281.3 434.6 Q275.1 431.0 298.2 405.4" stroke="#b8b8b8" stroke-width="1" fill="none"/><path d="M277.8 381.8 Q266.2 388.6 237.8 377.6" stroke="#b8b8b8" stroke-width="1" fill="none"/><path d="M329.2 416.5 Q309.1 433.2 300.9 447.3" stroke="#b8b8b8" stroke-width="1" fill="none"/><circle cx="293.4" cy="471.4" r="1.0" fill="#eeeeee"/><circle cx="421.0" cy="431.6" r="1.5" fill="#eeeeee"/><circle cx="339.7" cy="387.7" r="1.1" fill="#eeeeee"/><circle cx="283.5" cy="394.4" r="1.0" fill="#eeeeee"/><circle cx="349.9" cy="465.1" r="0.9" fill="#eeeeee"/><circle cx="387.1" cy="406.5" r="2.0" fill="#eeeeee"/><circle cx="342.8" cy="411.1" r="0.9" fill="#eeeeee"/><circle cx="393.2" cy="401.4" r="1.5" fill="#eeeeee"/><circle cx="274.7" cy="458.5" r="1.0" fill="#eeeeee"/><circle cx="294.5" cy="358.3" r="1.2" fill="#eeeeee"/><circle cx="377.0" cy="413.9" r="0.9" fill="#eeeeee"/><circle cx="420.3" cy="457.0" r="1.8" fill="#eeeeee"/><circle cx="376.4" cy="384.3" r="1.9" fill="#eeeeee"/><circle cx="396.7" cy="457.2" r="1.4" fill="#eeeeee"/><circle cx="343.3" cy="500.3" r="1.3" fill="#eeeeee"/><circle cx="418.2" cy="462.4" r="1.4" fill="#eeeeee"/><circle cx="303.0" cy="463.2" r="1.8" fill="#eeeeee"/><circle cx="348.8" cy="380.4" r="1.4" fill="#eeeeee"/><circle cx="370.0" cy="489.7" r="1.5" fill="#eeeeee"/><circle cx="359.2" cy="445.5" r="1.7" fill="#eeeeee"/><circle cx="343.2" cy="364.9" r="1.0" fill="#eeeeee"/><circle cx="314.7" cy="462.7" r="1.6" fill="#eeeeee"/><circle cx="412.0" cy="499.1" r="1.2" fill="#eeeeee"/><circle cx="398.1" cy="456.5" r="1.8" fill="#eeeeee"/><circle cx="384.5" cy="435.5" r="1.8" fill="#eeeeee"/><circle cx="401.3" cy="380.1" r="1.9" fill="#eeeeee"/><circle cx="374.6" cy="372.5" r="0.9" fill="#eeeeee"/><circle cx="324.4" cy="472.3" r="1.3" fill="#eeeeee"/><circle cx="419.4" cy="362.4" r="1.6" fill="#eeeeee"/><circle cx="349.0" cy="442.1" r="1.5" fill="#eeeeee"/><circle cx="311.6" cy="401.5" r="1.1" fill="#eeeeee"/><circle cx="333.5" cy="434.4" r="1.0" fill="#eeeeee"/><circle cx="409.8" cy="449.1" r="1.0" fill="#eeeeee"/><circle cx="315.2" cy="373.3" r="1.6" fill="#eeeeee"/><circle cx="328.8" cy="419.7" r="1.3" fill="#eeeeee"/><circle cx="294.1" cy="484.9" r="1.0" fill="#eeeeee"/><circle cx="302.8" cy="447.0" r="1.9" fill="#eeeeee"/><circle cx="281.1" cy="438.8" r="1.7" fill="#eeeeee"/><circle cx="375.4" cy="470.9" r="1.6" fill="#eeeeee"/><circle cx="411.4" cy="452.0" r="1.2" fill="#eeeeee"/><circle cx="381.1" cy="377.7" r="1.4" fill="#eeeeee"/><circle cx="296.8" cy="363.9" r="1.6" fill="#eeeeee"/><circle cx="399.2" cy="402.1" r="1.1" fill="#eeeeee"/><circle cx="374.4" cy="452.5" r="1.5" fill="#eeeeee"/><circle cx="368.2" cy="363.5" r="1.4" fill="#eeeeee"/><circle cx="414.1" cy="407.4" r="1.9" fill="#eeeeee"/><circle cx="306.8" cy="382.5" r="1.1" fill="#eeeeee"/><circle cx="345.4" cy="476.3" r="1.7" fill="#eeeeee"/><circle cx="392.9" cy="449.0" r="1.9" fill="#eeeeee"/><circle cx="399.8" cy="398.8" r="1.0" fill="#eeeeee"/><circle cx="276.1" cy="405.5" r="1.1" fill="#eeeeee"/><circle cx="353.1" cy="394.6" r="1.5" fill="#eeeeee"/><circle cx="285.6" cy="394.0" r="1.2" fill="#eeeeee"/><circle cx="393.3" cy="449.8" r="1.9" fill="#eeeeee"/><circle cx="379.9" cy="498.2" r="1.4" fill="#eeeeee"/><circle cx="305.5" cy="388.8" r="1.9" fill="#eeeeee"/><circle cx="379.8" cy="439.0" r="1.8" fill="#eeeeee"/><circle cx="391.2" cy="364.2" r="1.1" fill="#eeeeee"/><circle cx="284.5" cy="420.0" r="1.0" fill="#eeeeee"/><circle cx="379.2" cy="419.3" r="1.7" fill="#eeeeee"/><circle cx="375.5" cy="404.5" r="1.9" fill="#eeeeee"/><circle cx="341.0" cy="362.0" r="1.3" fill="#eeeeee"/><circle cx="286.8" cy="396.8" r="1.7" fill="#eeeeee"/><circle cx="276.3" cy="489.6" r="1.9" fill="#eeeeee"/><circle cx="346.0" cy="457.9" r="1.7" fill="#eeeeee"/><circle cx="345.8" cy="381.3" r="1.8" fill="#eeeeee"/><circle cx="380.5" cy="406.9" r="2.0" fill="#eeeeee"/><circle cx="382.3" cy="367.6" r="1.1" fill="#eeeeee"/><circle cx="402.6" cy="465.5" r="1.3" fill="#eeeeee"/><circle cx="307.1" cy="421.3" r="1.2" fill="#eeeeee"/><circle cx="349.0" cy="385.9" r="1.0" fill="#eeeeee"/><circle cx="280.7" cy="465.5" r="1.5" fill="#eeeeee"/><circle cx="292.6" cy="415.4" r="1.1" fill="#eeeeee"/><circle cx="322.7" cy="468.3" r="1.3" fill="#eeeeee"/><circle cx="388.2" cy="436.4" r="1.6" fill="#eeeeee"/><circle cx="418.7" cy="434.7" r="2.0" fill="#eeeeee"/><circle cx="302.3" cy="458.9" r="1.7" fill="#eeeeee"/><circle cx="277.2" cy="467.2" r="1.4" fill="#eeeeee"/><circle cx="357.3" cy="452.8" r="1.8" fill="#eeeeee"/><circle cx="280.4" cy="427.2" r="1.9" fill="#eeeeee"/><circle cx="365.2" cy="424.7" r="1.3" fill="#eeeeee"/><circle cx="321.0" cy="368.0" r="1.0" fill="#eeeeee"/><circle cx="420.8" cy="383.6" r="1.7" fill="#eeeeee"/><circle cx="309.0" cy="442.8" r="1.2" fill="#eeeeee"/><circle cx="382.7" cy="504.1" r="1.8" fill="#eeeeee"/><circle cx="387.0" cy="430.0" r="1.6" fill="#eeeeee"/><circle cx="362.0" cy="404.8" r="1.8" fill="#eeeeee"/><circle cx="305.9" cy="422.7" r="1.1" fill="#eeeeee"/><circle cx="373.0" cy="369.5" r="1.7" fill="#eeeeee"/><circle cx="339.4" cy="477.9" r="1.7" fill="#eeeeee"/><circle cx="412.8" cy="444.5" r="1.0" fill="#eeeeee"/><circle cx="382.3" cy="421.5" r="1.0" fill="#eeeeee"/><circle cx="293.9" cy="418.6" r="1.7" fill="#eeeeee"/><circle cx="412.2" cy="411.2" r="2.0" fill="#eeeeee"/><circle cx="389.4" cy="412.0" r="1.4" fill="#eeeeee"/><circle cx="409.9" cy="369.2" r="2.0" fill="#eeeeee"/><circle cx="277.3" cy="483.8" r="1.5" fill="#eeeeee"/><circle cx="391.5" cy="484.3" r="1.6" fill="#eeeeee"/><circle cx="391.3" cy="441.7" r="1.4" fill="#eeeeee"/><circle cx="389.2" cy="416.0" r="1.4" fill="#eeeeee"/><circle cx="325.4" cy="441.8" r="1.8" fill="#eeeeee"/><circle cx="365.3" cy="363.1" r="1.0" fill="#eeeeee"/><circle cx="351.7" cy="439.3" r="1.0" fill="#eeeeee"/><circle cx="290.0" cy="368.7" r="1.2" fill="#eeeeee"/><circle cx="308.2" cy="461.9" r="1.6" fill="#eeeeee"/><circle cx="290.0" cy="404.2" r="1.4" fill="#eeeeee"/><circle cx="368.8" cy="420.6" r="1.3" fill="#eeeeee"/><circle cx="277.1" cy="369.5" r="1.7" fill="#eeeeee"/><circle cx="396.7" cy="467.1" r="1.5" fill="#eeeeee"/><circle cx="388.3" cy="378.7" r="1.8" fill="#eeeeee"/><circle cx="282.3" cy="446.8" r="1.4" fill="#eeeeee"/><circle cx="332.9" cy="463.2" r="1.7" fill="#eeeeee"/><circle cx="360.0" cy="445.2" r="1.0" fill="#eeeeee"/><circle cx="287.1" cy="359.3" r="1.3" fill="#eeeeee"/><circle cx="316.1" cy="386.1" r="1.2" fill="#eeeeee"/><circle cx="284.0" cy="373.7" r="1.5" fill="#eeeeee"/><circle cx="409.5" cy="457.0" r="1.7" fill="#eeeeee"/><circle cx="277.7" cy="433.8" r="2.0" fill="#eeeeee"/><circle cx="403.2" cy="364.7" r="1.2" fill="#eeeeee"/><circle cx="311.8" cy="385.2" r="1.1" fill="#eeeeee"/><circle cx="308.6" cy="375.7" r="1.3" fill="#eeeeee"/><circle cx="415.0" cy="487.6" r="1.8" fill="#eeeeee"/><circle cx="403.4" cy="394.7" r="1.5" fill="#eeeeee"/><circle cx="314.3" cy="406.1" r="0.9" fill="#eeeeee"/><circle cx="378.9" cy="415.1" r="1.1" fill="#eeeeee"/><circle cx="350.1" cy="412.2" r="1.1" fill="#eeeeee"/><circle cx="418.6" cy="452.2" r="1.1" fill="#eeeeee"/><circle cx="295.1" cy="482.4" r="2.0" fill="#eeeeee"/><circle cx="298.5" cy="438.9" r="1.3" fill="#eeeeee"/><circle cx="298.6" cy="453.1" r="1.2" fill="#eeeeee"/><circle cx="367.3" cy="449.0" r="1.5" fill="#eeeeee"/><circle cx="335.7" cy="369.1" r="2.0" fill="#eeeeee"/><circle cx="279.7" cy="380.2" r="1.3" fill="#eeeeee"/><circle cx="411.2" cy="438.2" r="1.3" fill="#eeeeee"/><circle cx="286.1" cy="392.8" r="1.6" fill="#eeeeee"/><circle cx="419.9" cy="499.7" r="1.9" fill="#eeeeee"/><circle cx="415.3" cy="399.0" r="1.0" fill="#eeeeee"/><circle cx="371.5" cy="360.0" r="1.5" fill="#eeeeee"/><circle cx="394.8" cy="397.7" r="1.1" fill="#eeeeee"/><circle cx="307.8" cy="440.3" r="1.6" fill="#eeeeee"/><circle cx="314.2" cy="477.4" r="1.4" fill="#eeeeee"/><circle cx="339.1" cy="361.2" r="1.4" fill="#eeeeee"/><circle cx="324.5" cy="382.0" r="1.9" fill="#eeeeee"/><circle cx="398.7" cy="394.4" r="1.1" fill="#eeeeee"/><circle cx="387.0" cy="432.5" r="1.9" fill="#eeeeee"/><circle cx="411.5" cy="454.6" r="1.3" fill="#eeeeee"/><circle cx="350.7" cy="445.8" r="1.8" fill="#eeeeee"/><circle cx="317.1" cy="420.3" r="1.3" fill="#eeeeee"/><circle cx="388.9" cy="402.0" r="1.3" fill="#eeeeee"/><circle cx="277.1" cy="484.7" r="1.1" fill="#eeeeee"/><circle cx="416.5" cy="366.3" r="0.9" fill="#eeeeee"/><circle cx="322.9" cy="413.4" r="1.9" fill="#eeeeee"/><circle cx="414.3" cy="377.3" r="1.4" fill="#eeeeee"/><circle cx="310.4" cy="446.2" r="1.1" fill="#eeeeee"/><circle cx="313.8" cy="430.4" r="1.8" fill="#eeeeee"/><circle cx="415.3" cy="450.0" r="1.7" fill="#eeeeee"/><circle cx="306.3" cy="420.5" r="1.4" fill="#eeeeee"/><circle cx="308.0" cy="380.8" r="0.9" fill="#eeeeee"/><circle cx="361.3" cy="441.6" r="1.4" fill="#eeeeee"/><circle cx="370.7" cy="470.2" r="1.2" fill="#eeeeee"/><circle cx="368.1" cy="474.9" r="1.2" fill="#eeeeee"/><circle cx="394.5" cy="379.8" r="1.2" fill="#eeeeee"/><circle cx="313.3" cy="444.0" r="1.3" fill="#eeeeee"/><circle cx="343.7" cy="480.8" r="1.1" fill="#eeeeee"/><circle cx="372.8" cy="366.1" r="1.0" fill="#eeeeee"/><circle cx="406.7" cy="394.3" r="1.7" fill="#eeeeee"/><circle cx="416.7" cy="452.1" r="1.8" fill="#eeeeee"/><circle cx="418.0" cy="466.5" r="1.8" fill="#eeeeee"/><circle cx="382.6" cy="485.1" r="1.3" fill="#eeeeee"/><circle cx="379.8" cy="463.2" r="1.8" fill="#eeeeee"/><circle cx="287.2" cy="411.9" r="1.9" fill="#eeeeee"/><circle cx="388.1" cy="464.9" r="1.4" fill="#eeeeee"/><circle cx="400.9" cy="412.5" r="1.1" fill="#eeeeee"/><circle cx="291.4" cy="446.4" r="0.9" fill="#eeeeee"/><circle cx="415.1" cy="374.5" r="1.1" fill="#eeeeee"/><circle cx="377.1" cy="361.0" r="1.6" fill="#eeeeee"/><circle cx="338.3" cy="452.6" r="1.8" fill="#eeeeee"/><circle cx="325.1" cy="472.2" r="1.5" fill="#eeeeee"/><circle cx="402.7" cy="383.6" r="1.5" fill="#eeeeee"/><circle cx="416.5" cy="447.2" r="1.5" fill="#eeeeee"/>
<circle cx="347.5" cy="432" r="74" fill="url(#semedge)"/>
</g>

<!-- MEMBRANE -->
<defs>
<linearGradient id="memg" x1="0" y1="0" x2="1" y2="0.3">
<stop offset="0" stop-color="#ffe000"/><stop offset="0.5" stop-color="#ffcc00"/><stop offset="1" stop-color="#d9a000"/>
</linearGradient>
</defs>
<polygon points="367.7,581.9 413.1,569.6 629,565.2 586.9,615" fill="#6e87b8"/>
<polygon points="367.7,581.9 586.9,615 586.9,627.2 367.7,594" fill="#9ab8ec"/>
<polygon points="586.9,615 629,565.2 629,574 586.9,627.2" fill="#1e2838"/>
<path d="M383.2 544.2 L457.4 492.2 C 480 506 510 530 537 536.4 C 555 541 570 541 590 537 L625.6 527.6 L552.6 581.8 Q520 592 484 595.1 Q420 585 383.2 544.2 Z" fill="url(#memg)"/>
<path d="M383.2 544.2 Q420 585 484 595.1 Q520 592 552.6 581.8 L625.6 527.6" stroke="#fff060" stroke-width="2" fill="none"/>
<path d="M322.9 505.2 L427.6 549" stroke="#6a6a6a" stroke-width="1.5" stroke-dasharray="4 3" fill="none"/>
<path d="M418 422.4 L458 521.4" stroke="#6a6a6a" stroke-width="1.5" stroke-dasharray="4 3" fill="none"/>
<ellipse cx="443.8" cy="537.6" rx="21.5" ry="20.5" fill="none" stroke="#b01818" stroke-width="2" stroke-dasharray="6 4"/>

<!-- PHOTO A -->
<defs>
<linearGradient id="ruler" x1="0" y1="0" x2="0" y2="1">
<stop offset="0" stop-color="#cfcfcf"/><stop offset="0.6" stop-color="#bcbcbc"/><stop offset="1" stop-color="#a0a0a0"/>
</linearGradient>
</defs>
<rect x="71.8" y="502.3" width="162.9" height="159.1" fill="#3ca7dd"/>
<path d="M108.5 541.5 Q107.5 541.8 107.4 542 L195.3 541.2 Q198.5 542 200 546 L215.8 593.5 Q216 601 209 603.3 L97.6 604.8 Q96 604 96.8 599.5 Z" fill="#f0e21c"/>
<path d="M96.8 599.5 L214.5 596.5 Q214 601.5 209 603.3 L97.6 604.8 Q96 604 96.8 599.5 Z" fill="#dcc410"/>
<polygon points="71.8,607.9 234.7,604.8 234.7,640.5 71.8,645" fill="url(#ruler)"/>
<polygon points="71.8,643 234.7,638.5 234.7,641 71.8,646" fill="#505050"/>
<g stroke="#7a7a7a" stroke-width="0.5"><line x1="72.0" y1="607.9" x2="72.0" y2="612.4"/><line x1="72.0" y1="643.5" x2="72.0" y2="639.0"/><line x1="73.7" y1="607.9" x2="73.7" y2="610.4"/><line x1="73.7" y1="643.4" x2="73.7" y2="640.9"/><line x1="75.3" y1="607.8" x2="75.3" y2="610.3"/><line x1="75.3" y1="643.4" x2="75.3" y2="640.9"/><line x1="77.0" y1="607.8" x2="77.0" y2="610.3"/><line x1="77.0" y1="643.4" x2="77.0" y2="640.9"/><line x1="78.6" y1="607.8" x2="78.6" y2="610.3"/><line x1="78.6" y1="643.3" x2="78.6" y2="640.8"/><line x1="80.3" y1="607.7" x2="80.3" y2="612.2"/><line x1="80.3" y1="643.3" x2="80.3" y2="638.8"/><line x1="82.0" y1="607.7" x2="82.0" y2="610.2"/><line x1="82.0" y1="643.2" x2="82.0" y2="640.7"/><line x1="83.6" y1="607.7" x2="83.6" y2="610.2"/><line x1="83.6" y1="643.2" x2="83.6" y2="640.7"/><line x1="85.3" y1="607.6" x2="85.3" y2="610.1"/><line x1="85.3" y1="643.1" x2="85.3" y2="640.6"/><line x1="86.9" y1="607.6" x2="86.9" y2="610.1"/><line x1="86.9" y1="643.1" x2="86.9" y2="640.6"/><line x1="88.6" y1="607.6" x2="88.6" y2="612.1"/><line x1="88.6" y1="643.0" x2="88.6" y2="638.5"/><line x1="90.3" y1="607.5" x2="90.3" y2="610.0"/><line x1="90.3" y1="643.0" x2="90.3" y2="640.5"/><line x1="91.9" y1="607.5" x2="91.9" y2="610.0"/><line x1="91.9" y1="642.9" x2="91.9" y2="640.4"/><line x1="93.6" y1="607.5" x2="93.6" y2="610.0"/><line x1="93.6" y1="642.9" x2="93.6" y2="640.4"/><line x1="95.2" y1="607.5" x2="95.2" y2="610.0"/><line x1="95.2" y1="642.9" x2="95.2" y2="640.4"/><line x1="96.9" y1="607.4" x2="96.9" y2="611.9"/><line x1="96.9" y1="642.8" x2="96.9" y2="638.3"/><line x1="98.6" y1="607.4" x2="98.6" y2="609.9"/><line x1="98.6" y1="642.8" x2="98.6" y2="640.3"/><line x1="100.2" y1="607.4" x2="100.2" y2="609.9"/><line x1="100.2" y1="642.7" x2="100.2" y2="640.2"/><line x1="101.9" y1="607.3" x2="101.9" y2="609.8"/><line x1="101.9" y1="642.7" x2="101.9" y2="640.2"/><line x1="103.5" y1="607.3" x2="103.5" y2="609.8"/><line x1="103.5" y1="642.6" x2="103.5" y2="640.1"/><line x1="105.2" y1="607.3" x2="105.2" y2="611.8"/><line x1="105.2" y1="642.6" x2="105.2" y2="638.1"/><line x1="106.9" y1="607.2" x2="106.9" y2="609.7"/><line x1="106.9" y1="642.5" x2="106.9" y2="640.0"/><line x1="108.5" y1="607.2" x2="108.5" y2="609.7"/><line x1="108.5" y1="642.5" x2="108.5" y2="640.0"/><line x1="110.2" y1="607.2" x2="110.2" y2="609.7"/><line x1="110.2" y1="642.4" x2="110.2" y2="639.9"/><line x1="111.8" y1="607.1" x2="111.8" y2="609.6"/><line x1="111.8" y1="642.4" x2="111.8" y2="639.9"/><line x1="113.5" y1="607.1" x2="113.5" y2="611.6"/><line x1="113.5" y1="642.3" x2="113.5" y2="637.8"/><line x1="115.2" y1="607.1" x2="115.2" y2="609.6"/><line x1="115.2" y1="642.3" x2="115.2" y2="639.8"/><line x1="116.8" y1="607.0" x2="116.8" y2="609.5"/><line x1="116.8" y1="642.3" x2="116.8" y2="639.8"/><line x1="118.5" y1="607.0" x2="118.5" y2="609.5"/><line x1="118.5" y1="642.2" x2="118.5" y2="639.7"/><line x1="120.1" y1="607.0" x2="120.1" y2="609.5"/><line x1="120.1" y1="642.2" x2="120.1" y2="639.7"/><line x1="121.8" y1="606.9" x2="121.8" y2="611.4"/><line x1="121.8" y1="642.1" x2="121.8" y2="637.6"/><line x1="123.5" y1="606.9" x2="123.5" y2="609.4"/><line x1="123.5" y1="642.1" x2="123.5" y2="639.6"/><line x1="125.1" y1="606.9" x2="125.1" y2="609.4"/><line x1="125.1" y1="642.0" x2="125.1" y2="639.5"/><line x1="126.8" y1="606.9" x2="126.8" y2="609.4"/><line x1="126.8" y1="642.0" x2="126.8" y2="639.5"/><line x1="128.4" y1="606.8" x2="128.4" y2="609.3"/><line x1="128.4" y1="641.9" x2="128.4" y2="639.4"/><line x1="130.1" y1="606.8" x2="130.1" y2="611.3"/><line x1="130.1" y1="641.9" x2="130.1" y2="637.4"/><line x1="131.8" y1="606.8" x2="131.8" y2="609.3"/><line x1="131.8" y1="641.8" x2="131.8" y2="639.3"/><line x1="133.4" y1="606.7" x2="133.4" y2="609.2"/><line x1="133.4" y1="641.8" x2="133.4" y2="639.3"/><line x1="135.1" y1="606.7" x2="135.1" y2="609.2"/><line x1="135.1" y1="641.8" x2="135.1" y2="639.3"/><line x1="136.7" y1="606.7" x2="136.7" y2="609.2"/><line x1="136.7" y1="641.7" x2="136.7" y2="639.2"/><line x1="138.4" y1="606.6" x2="138.4" y2="611.1"/><line x1="138.4" y1="641.7" x2="138.4" y2="637.2"/><line x1="140.1" y1="606.6" x2="140.1" y2="609.1"/><line x1="140.1" y1="641.6" x2="140.1" y2="639.1"/><line x1="141.7" y1="606.6" x2="141.7" y2="609.1"/><line x1="141.7" y1="641.6" x2="141.7" y2="639.1"/><line x1="143.4" y1="606.5" x2="143.4" y2="609.0"/><line x1="143.4" y1="641.5" x2="143.4" y2="639.0"/><line x1="145.0" y1="606.5" x2="145.0" y2="609.0"/><line x1="145.0" y1="641.5" x2="145.0" y2="639.0"/><line x1="146.7" y1="606.5" x2="146.7" y2="611.0"/><line x1="146.7" y1="641.4" x2="146.7" y2="636.9"/><line x1="148.4" y1="606.4" x2="148.4" y2="608.9"/><line x1="148.4" y1="641.4" x2="148.4" y2="638.9"/><line x1="150.0" y1="606.4" x2="150.0" y2="608.9"/><line x1="150.0" y1="641.3" x2="150.0" y2="638.8"/><line x1="151.7" y1="606.4" x2="151.7" y2="608.9"/><line x1="151.7" y1="641.3" x2="151.7" y2="638.8"/><line x1="153.3" y1="606.3" x2="153.3" y2="608.8"/><line x1="153.3" y1="641.2" x2="153.3" y2="638.7"/><line x1="155.0" y1="606.3" x2="155.0" y2="610.8"/><line x1="155.0" y1="641.2" x2="155.0" y2="636.7"/><line x1="156.7" y1="606.3" x2="156.7" y2="608.8"/><line x1="156.7" y1="641.2" x2="156.7" y2="638.7"/><line x1="158.3" y1="606.3" x2="158.3" y2="608.8"/><line x1="158.3" y1="641.1" x2="158.3" y2="638.6"/><line x1="160.0" y1="606.2" x2="160.0" y2="608.7"/><line x1="160.0" y1="641.1" x2="160.0" y2="638.6"/><line x1="161.6" y1="606.2" x2="161.6" y2="608.7"/><line x1="161.6" y1="641.0" x2="161.6" y2="638.5"/><line x1="163.3" y1="606.2" x2="163.3" y2="610.7"/><line x1="163.3" y1="641.0" x2="163.3" y2="636.5"/><line x1="165.0" y1="606.1" x2="165.0" y2="608.6"/><line x1="165.0" y1="640.9" x2="165.0" y2="638.4"/><line x1="166.6" y1="606.1" x2="166.6" y2="608.6"/><line x1="166.6" y1="640.9" x2="166.6" y2="638.4"/><line x1="168.3" y1="606.1" x2="168.3" y2="608.6"/><line x1="168.3" y1="640.8" x2="168.3" y2="638.3"/><line x1="169.9" y1="606.0" x2="169.9" y2="608.5"/><line x1="169.9" y1="640.8" x2="169.9" y2="638.3"/><line x1="171.6" y1="606.0" x2="171.6" y2="610.5"/><line x1="171.6" y1="640.7" x2="171.6" y2="636.2"/><line x1="173.3" y1="606.0" x2="173.3" y2="608.5"/><line x1="173.3" y1="640.7" x2="173.3" y2="638.2"/><line x1="174.9" y1="605.9" x2="174.9" y2="608.4"/><line x1="174.9" y1="640.7" x2="174.9" y2="638.2"/><line x1="176.6" y1="605.9" x2="176.6" y2="608.4"/><line x1="176.6" y1="640.6" x2="176.6" y2="638.1"/><line x1="178.2" y1="605.9" x2="178.2" y2="608.4"/><line x1="178.2" y1="640.6" x2="178.2" y2="638.1"/><line x1="179.9" y1="605.8" x2="179.9" y2="610.3"/><line x1="179.9" y1="640.5" x2="179.9" y2="636.0"/><line x1="181.6" y1="605.8" x2="181.6" y2="608.3"/><line x1="181.6" y1="640.5" x2="181.6" y2="638.0"/><line x1="183.2" y1="605.8" x2="183.2" y2="608.3"/><line x1="183.2" y1="640.4" x2="183.2" y2="637.9"/><line x1="184.9" y1="605.7" x2="184.9" y2="608.2"/><line x1="184.9" y1="640.4" x2="184.9" y2="637.9"/><line x1="186.5" y1="605.7" x2="186.5" y2="608.2"/><line x1="186.5" y1="640.3" x2="186.5" y2="637.8"/><line x1="188.2" y1="605.7" x2="188.2" y2="610.2"/><line x1="188.2" y1="640.3" x2="188.2" y2="635.8"/><line x1="189.9" y1="605.7" x2="189.9" y2="608.2"/><line x1="189.9" y1="640.2" x2="189.9" y2="637.7"/><line x1="191.5" y1="605.6" x2="191.5" y2="608.1"/><line x1="191.5" y1="640.2" x2="191.5" y2="637.7"/><line x1="193.2" y1="605.6" x2="193.2" y2="608.1"/><line x1="193.2" y1="640.1" x2="193.2" y2="637.6"/><line x1="194.8" y1="605.6" x2="194.8" y2="608.1"/><line x1="194.8" y1="640.1" x2="194.8" y2="637.6"/><line x1="196.5" y1="605.5" x2="196.5" y2="610.0"/><line x1="196.5" y1="640.1" x2="196.5" y2="635.6"/><line x1="198.2" y1="605.5" x2="198.2" y2="608.0"/><line x1="198.2" y1="640.0" x2="198.2" y2="637.5"/><line x1="199.8" y1="605.5" x2="199.8" y2="608.0"/><line x1="199.8" y1="640.0" x2="199.8" y2="637.5"/><line x1="201.5" y1="605.4" x2="201.5" y2="607.9"/><line x1="201.5" y1="639.9" x2="201.5" y2="637.4"/><line x1="203.1" y1="605.4" x2="203.1" y2="607.9"/><line x1="203.1" y1="639.9" x2="203.1" y2="637.4"/><line x1="204.8" y1="605.4" x2="204.8" y2="609.9"/><line x1="204.8" y1="639.8" x2="204.8" y2="635.3"/><line x1="206.5" y1="605.3" x2="206.5" y2="607.8"/><line x1="206.5" y1="639.8" x2="206.5" y2="637.3"/><line x1="208.1" y1="605.3" x2="208.1" y2="607.8"/><line x1="208.1" y1="639.7" x2="208.1" y2="637.2"/><line x1="209.8" y1="605.3" x2="209.8" y2="607.8"/><line x1="209.8" y1="639.7" x2="209.8" y2="637.2"/><line x1="211.4" y1="605.2" x2="211.4" y2="607.7"/><line x1="211.4" y1="639.6" x2="211.4" y2="637.1"/><line x1="213.1" y1="605.2" x2="213.1" y2="609.7"/><line x1="213.1" y1="639.6" x2="213.1" y2="635.1"/><line x1="214.8" y1="605.2" x2="214.8" y2="607.7"/><line x1="214.8" y1="639.6" x2="214.8" y2="637.1"/><line x1="216.4" y1="605.1" x2="216.4" y2="607.6"/><line x1="216.4" y1="639.5" x2="216.4" y2="637.0"/><line x1="218.1" y1="605.1" x2="218.1" y2="607.6"/><line x1="218.1" y1="639.5" x2="218.1" y2="637.0"/><line x1="219.7" y1="605.1" x2="219.7" y2="607.6"/><line x1="219.7" y1="639.4" x2="219.7" y2="636.9"/><line x1="221.4" y1="605.1" x2="221.4" y2="609.6"/><line x1="221.4" y1="639.4" x2="221.4" y2="634.9"/><line x1="223.1" y1="605.0" x2="223.1" y2="607.5"/><line x1="223.1" y1="639.3" x2="223.1" y2="636.8"/><line x1="224.7" y1="605.0" x2="224.7" y2="607.5"/><line x1="224.7" y1="639.3" x2="224.7" y2="636.8"/><line x1="226.4" y1="605.0" x2="226.4" y2="607.5"/><line x1="226.4" y1="639.2" x2="226.4" y2="636.7"/><line x1="228.0" y1="604.9" x2="228.0" y2="607.4"/><line x1="228.0" y1="639.2" x2="228.0" y2="636.7"/><line x1="229.7" y1="604.9" x2="229.7" y2="609.4"/><line x1="229.7" y1="639.1" x2="229.7" y2="634.6"/><line x1="231.4" y1="604.9" x2="231.4" y2="607.4"/><line x1="231.4" y1="639.1" x2="231.4" y2="636.6"/><line x1="233.0" y1="604.8" x2="233.0" y2="607.3"/><line x1="233.0" y1="639.0" x2="233.0" y2="636.5"/></g>
<g font-family="Liberation Sans" font-size="9.5" fill="#3a3a3a" transform="translate(0 0)">
<text x="75" y="627.5">6</text><text x="92" y="627.5">7</text><text x="108" y="627">8</text><text x="125" y="627">9</text><text x="139" y="626.5" fill="#c02030" font-size="10.5">10</text><text x="157" y="626.5">11</text><text x="173" y="626">12</text><text x="189.5" y="626">13</text><text x="205.5" y="625.5">14</text><text x="220" y="625.5">15</text>
</g>

<!-- panel labels -->
<text class="t" x="23" y="58" font-size="33">(a)</text>
<text class="t" x="657" y="58" font-size="33">(b)</text>
<text class="t" x="23" y="738" font-size="33">(c)</text>
<text class="t" x="667" y="738" font-size="33">(d)</text>

<!-- (a) labels -->
<text class="t" x="54" y="122.7" font-size="19" transform="translate(54 122.7) scale(1 1.16) translate(-54 -122.7)">N<tspan font-size="14" dx="1" dy="2.6">2</tspan></text>
<text class="t" x="93.2" y="365.6" font-size="25.5" letter-spacing="0.15">PAA solution</text>
<text class="t" x="254" y="187.8" font-size="25">Gelation</text>
<text class="t" x="419" y="333" font-size="25">PI wet gel membrane</text>
<text class="t" x="536" y="433.5" font-size="25">Drying</text>
<text class="t" x="410" y="664" font-size="25.4">PI aerogel membrane</text>

<!-- (b) labels -->
<text class="t" x="962" y="131" font-size="19">Solvent</text>
<text class="t" x="956" y="154" font-size="19">exchange</text>
<text class="t" x="963" y="204" font-size="19">Drying</text>
<text class="t" x="963" y="409" font-size="19">Shrink</text>
<text class="t" x="969" y="457" font-size="19">Joint</text>
<text class="t" x="765" y="663" font-size="23">DMAc solution</text>
<text class="t" x="968" y="663" font-size="23">PIA chains</text>
<text class="t" x="1120" y="663" font-size="23">joint</text>

<!-- arrows (a) -->
<path d="M252 212 H321 V201 L345 224.5 L321 248 V236 H252 Z" fill="#fec600"/>
<path d="M505 369 H522 V472.8 H532.2 L513.5 491.7 L495.8 472.8 H505 Z" fill="#fec600"/>
<path d="M349 566 H283 V553.3 L258 577.5 L283 602 V590 H349 Z" fill="#fec600"/>

<!-- (b) boxes -->
<rect x="714.5" y="72.5" width="233" height="206" fill="#e0f6fb" stroke="#4f4f4f" stroke-width="3"/>
<rect x="1044.5" y="89.5" width="175" height="174" fill="#eeeff3" stroke="#4f4f4f" stroke-width="3"/>
<path d="M955 164.5 H1016 V160.7 L1035 170.2 L1016 179.3 V171.7 H955 Z" fill="#fec600"/>
<path d="M951 420 H1014 V413 L1034 423.5 L1014 434 V427 H951 Z" fill="#fec600"/>
<rect x="748" y="332" width="163" height="167" fill="#e0f6fb" stroke="#f0c040" stroke-width="2"/>
<rect x="1057" y="332" width="163" height="167" fill="#eeeff3" stroke="#f0c040" stroke-width="2"/>
<rect x="790.5" y="539.5" width="80" height="83" fill="#e0f6fb" stroke="#555" stroke-width="3"/>


<!-- PANEL B ART -->
<defs>
<clipPath id="cbL"><rect x="716" y="74" width="230" height="203"/></clipPath>
<clipPath id="cbR"><rect x="1046" y="91" width="172" height="171"/></clipPath>
<clipPath id="czL"><rect x="747" y="331" width="165" height="169"/></clipPath>
<clipPath id="czR"><rect x="1056" y="331" width="165" height="169"/></clipPath>
<radialGradient id="joint" cx="0.4" cy="0.35" r="0.6">
<stop offset="0" stop-color="#ff8080"/><stop offset="0.4" stop-color="#e01010"/><stop offset="1" stop-color="#900000"/>
</radialGradient>
</defs>
<g clip-path="url(#cbL)"><g transform="translate(710 65) scale(0.19369)"><path d="M100 320 C180 330 220 250 300 235 S 500 280 600 270 S 850 280 910 290" stroke="#2a4e98" stroke-width="36" fill="none" stroke-linecap="butt"/><path d="M100 320 C180 330 220 250 300 235 S 500 280 600 270 S 850 280 910 290" stroke="#4274c8" stroke-width="25.919999999999998" fill="none" stroke-linecap="butt"/><path d="M100 320 C180 330 220 250 300 235 S 500 280 600 270 S 850 280 910 290" stroke="#a9c8f4" stroke-width="7.2" fill="none" stroke-linecap="butt" opacity="0.75"/><path d="M145 440 C 350 400 500 380 650 385 S 950 400 1065 440" stroke="#2a4e98" stroke-width="36" fill="none" stroke-linecap="butt"/><path d="M145 440 C 350 400 500 380 650 385 S 950 400 1065 440" stroke="#4274c8" stroke-width="25.919999999999998" fill="none" stroke-linecap="butt"/><path d="M145 440 C 350 400 500 380 650 385 S 950 400 1065 440" stroke="#a9c8f4" stroke-width="7.2" fill="none" stroke-linecap="butt" opacity="0.75"/><path d="M145 585 C 350 540 500 470 700 490 S 950 510 1080 515" stroke="#2a4e98" stroke-width="36" fill="none" stroke-linecap="butt"/><path d="M145 585 C 350 540 500 470 700 490 S 950 510 1080 515" stroke="#4274c8" stroke-width="25.919999999999998" fill="none" stroke-linecap="butt"/><path d="M145 585 C 350 540 500 470 700 490 S 950 510 1080 515" stroke="#a9c8f4" stroke-width="7.2" fill="none" stroke-linecap="butt" opacity="0.75"/><path d="M100 210 C 300 330 500 470 700 640 S 950 880 1075 965" stroke="#2a4e98" stroke-width="36" fill="none" stroke-linecap="butt"/><path d="M100 210 C 300 330 500 470 700 640 S 950 880 1075 965" stroke="#4274c8" stroke-width="25.919999999999998" fill="none" stroke-linecap="butt"/><path d="M100 210 C 300 330 500 470 700 640 S 950 880 1075 965" stroke="#a9c8f4" stroke-width="7.2" fill="none" stroke-linecap="butt" opacity="0.75"/><path d="M230 155 C 330 350 450 600 600 1010" stroke="#2a4e98" stroke-width="36" fill="none" stroke-linecap="butt"/><path d="M230 155 C 330 350 450 600 600 1010" stroke="#4274c8" stroke-width="25.919999999999998" fill="none" stroke-linecap="butt"/><path d="M230 155 C 330 350 450 600 600 1010" stroke="#a9c8f4" stroke-width="7.2" fill="none" stroke-linecap="butt" opacity="0.75"/><path d="M290 140 C 380 200 420 300 450 420 S 520 620 560 700" stroke="#2a4e98" stroke-width="36" fill="none" stroke-linecap="butt"/><path d="M290 140 C 380 200 420 300 450 420 S 520 620 560 700" stroke="#4274c8" stroke-width="25.919999999999998" fill="none" stroke-linecap="butt"/><path d="M290 140 C 380 200 420 300 450 420 S 520 620 560 700" stroke="#a9c8f4" stroke-width="7.2" fill="none" stroke-linecap="butt" opacity="0.75"/><path d="M385 130 C 430 250 480 380 540 520" stroke="#2a4e98" stroke-width="36" fill="none" stroke-linecap="butt"/><path d="M385 130 C 430 250 480 380 540 520" stroke="#4274c8" stroke-width="25.919999999999998" fill="none" stroke-linecap="butt"/><path d="M385 130 C 430 250 480 380 540 520" stroke="#a9c8f4" stroke-width="7.2" fill="none" stroke-linecap="butt" opacity="0.75"/><path d="M580 75 C 590 300 600 600 590 1020" stroke="#2a4e98" stroke-width="36" fill="none" stroke-linecap="butt"/><path d="M580 75 C 590 300 600 600 590 1020" stroke="#4274c8" stroke-width="25.919999999999998" fill="none" stroke-linecap="butt"/><path d="M580 75 C 590 300 600 600 590 1020" stroke="#a9c8f4" stroke-width="7.2" fill="none" stroke-linecap="butt" opacity="0.75"/><path d="M625 80 C 610 400 560 650 620 1000" stroke="#2a4e98" stroke-width="36" fill="none" stroke-linecap="butt"/><path d="M625 80 C 610 400 560 650 620 1000" stroke="#4274c8" stroke-width="25.919999999999998" fill="none" stroke-linecap="butt"/><path d="M625 80 C 610 400 560 650 620 1000" stroke="#a9c8f4" stroke-width="7.2" fill="none" stroke-linecap="butt" opacity="0.75"/><path d="M720 940 C 700 700 620 350 660 150 C 680 80 740 100 760 250 C 780 400 770 500 800 600" stroke="#2a4e98" stroke-width="36" fill="none" stroke-linecap="butt"/><path d="M720 940 C 700 700 620 350 660 150 C 680 80 740 100 760 250 C 780 400 770 500 800 600" stroke="#4274c8" stroke-width="25.919999999999998" fill="none" stroke-linecap="butt"/><path d="M720 940 C 700 700 620 350 660 150 C 680 80 740 100 760 250 C 780 400 770 500 800 600" stroke="#a9c8f4" stroke-width="7.2" fill="none" stroke-linecap="butt" opacity="0.75"/><path d="M785 80 C 770 200 760 400 800 500" stroke="#2a4e98" stroke-width="36" fill="none" stroke-linecap="butt"/><path d="M785 80 C 770 200 760 400 800 500" stroke="#4274c8" stroke-width="25.919999999999998" fill="none" stroke-linecap="butt"/><path d="M785 80 C 770 200 760 400 800 500" stroke="#a9c8f4" stroke-width="7.2" fill="none" stroke-linecap="butt" opacity="0.75"/><path d="M860 100 C 840 300 820 500 860 750 S 900 950 880 1000" stroke="#2a4e98" stroke-width="36" fill="none" stroke-linecap="butt"/><path d="M860 100 C 840 300 820 500 860 750 S 900 950 880 1000" stroke="#4274c8" stroke-width="25.919999999999998" fill="none" stroke-linecap="butt"/><path d="M860 100 C 840 300 820 500 860 750 S 900 950 880 1000" stroke="#a9c8f4" stroke-width="7.2" fill="none" stroke-linecap="butt" opacity="0.75"/><path d="M220 860 C 450 700 800 480 1075 345" stroke="#2a4e98" stroke-width="36" fill="none" stroke-linecap="butt"/><path d="M220 860 C 450 700 800 480 1075 345" stroke="#4274c8" stroke-width="25.919999999999998" fill="none" stroke-linecap="butt"/><path d="M220 860 C 450 700 800 480 1075 345" stroke="#a9c8f4" stroke-width="7.2" fill="none" stroke-linecap="butt" opacity="0.75"/><path d="M210 1000 C 400 880 700 720 980 660" stroke="#2a4e98" stroke-width="36" fill="none" stroke-linecap="butt"/><path d="M210 1000 C 400 880 700 720 980 660" stroke="#4274c8" stroke-width="25.919999999999998" fill="none" stroke-linecap="butt"/><path d="M210 1000 C 400 880 700 720 980 660" stroke="#a9c8f4" stroke-width="7.2" fill="none" stroke-linecap="butt" opacity="0.75"/><path d="M130 470 C 300 560 460 650 640 690 S 880 560 960 420" stroke="#2a4e98" stroke-width="36" fill="none" stroke-linecap="butt"/><path d="M130 470 C 300 560 460 650 640 690 S 880 560 960 420" stroke="#4274c8" stroke-width="25.919999999999998" fill="none" stroke-linecap="butt"/><path d="M130 470 C 300 560 460 650 640 690 S 880 560 960 420" stroke="#a9c8f4" stroke-width="7.2" fill="none" stroke-linecap="butt" opacity="0.75"/><path d="M970 260 C 960 500 900 800 810 990" stroke="#2a4e98" stroke-width="36" fill="none" stroke-linecap="butt"/><path d="M970 260 C 960 500 900 800 810 990" stroke="#4274c8" stroke-width="25.919999999999998" fill="none" stroke-linecap="butt"/><path d="M970 260 C 960 500 900 800 810 990" stroke="#a9c8f4" stroke-width="7.2" fill="none" stroke-linecap="butt" opacity="0.75"/><path d="M210 810 C 300 830 600 900 700 820 S 880 700 1050 900" stroke="#2a4e98" stroke-width="36" fill="none" stroke-linecap="butt"/><path d="M210 810 C 300 830 600 900 700 820 S 880 700 1050 900" stroke="#4274c8" stroke-width="25.919999999999998" fill="none" stroke-linecap="butt"/><path d="M210 810 C 300 830 600 900 700 820 S 880 700 1050 900" stroke="#a9c8f4" stroke-width="7.2" fill="none" stroke-linecap="butt" opacity="0.75"/><path d="M120 250 C 250 400 350 500 400 700 S 420 900 400 990" stroke="#2a4e98" stroke-width="36" fill="none" stroke-linecap="butt"/><path d="M120 250 C 250 400 350 500 400 700 S 420 900 400 990" stroke="#4274c8" stroke-width="25.919999999999998" fill="none" stroke-linecap="butt"/><path d="M120 250 C 250 400 350 500 400 700 S 420 900 400 990" stroke="#a9c8f4" stroke-width="7.2" fill="none" stroke-linecap="butt" opacity="0.75"/><path d="M900 500 C 1000 600 1000 800 1060 960" stroke="#2a4e98" stroke-width="36" fill="none" stroke-linecap="butt"/><path d="M900 500 C 1000 600 1000 800 1060 960" stroke="#4274c8" stroke-width="25.919999999999998" fill="none" stroke-linecap="butt"/><path d="M900 500 C 1000 600 1000 800 1060 960" stroke="#a9c8f4" stroke-width="7.2" fill="none" stroke-linecap="butt" opacity="0.75"/><path d="M290 600 C 290 750 330 850 400 870" stroke="#2a4e98" stroke-width="36" fill="none" stroke-linecap="butt"/><path d="M290 600 C 290 750 330 850 400 870" stroke="#4274c8" stroke-width="25.919999999999998" fill="none" stroke-linecap="butt"/><path d="M290 600 C 290 750 330 850 400 870" stroke="#a9c8f4" stroke-width="7.2" fill="none" stroke-linecap="butt" opacity="0.75"/><path d="M320 720 C 300 800 420 850 520 860" stroke="#2a4e98" stroke-width="36" fill="none" stroke-linecap="butt"/><path d="M320 720 C 300 800 420 850 520 860" stroke="#4274c8" stroke-width="25.919999999999998" fill="none" stroke-linecap="butt"/><path d="M320 720 C 300 800 420 850 520 860" stroke="#a9c8f4" stroke-width="7.2" fill="none" stroke-linecap="butt" opacity="0.75"/><path d="M820 650 C 850 800 900 900 830 990" stroke="#2a4e98" stroke-width="36" fill="none" stroke-linecap="butt"/><path d="M820 650 C 850 800 900 900 830 990" stroke="#4274c8" stroke-width="25.919999999999998" fill="none" stroke-linecap="butt"/><path d="M820 650 C 850 800 900 900 830 990" stroke="#a9c8f4" stroke-width="7.2" fill="none" stroke-linecap="butt" opacity="0.75"/></g></g>
<g stroke="#f5b000" stroke-width="3.2" fill="none" stroke-dasharray="8 5">
<path d="M1112 203 L1056 331"/><path d="M1159 203 L1221 331"/>
</g>
<g clip-path="url(#cbR)"><g transform="translate(1131.5 176) scale(0.8 0.845) translate(-824.8 -171) translate(710 65) scale(0.19369)"><path d="M100 320 C180 330 220 250 300 235 S 500 280 600 270 S 850 280 910 290" stroke="#2a4e98" stroke-width="42" fill="none" stroke-linecap="butt"/><path d="M100 320 C180 330 220 250 300 235 S 500 280 600 270 S 850 280 910 290" stroke="#4274c8" stroke-width="30.24" fill="none" stroke-linecap="butt"/><path d="M100 320 C180 330 220 250 300 235 S 500 280 600 270 S 850 280 910 290" stroke="#a9c8f4" stroke-width="8.4" fill="none" stroke-linecap="butt" opacity="0.75"/><path d="M145 440 C 350 400 500 380 650 385 S 950 400 1065 440" stroke="#2a4e98" stroke-width="42" fill="none" stroke-linecap="butt"/><path d="M145 440 C 350 400 500 380 650 385 S 950 400 1065 440" stroke="#4274c8" stroke-width="30.24" fill="none" stroke-linecap="butt"/><path d="M145 440 C 350 400 500 380 650 385 S 950 400 1065 440" stroke="#a9c8f4" stroke-width="8.4" fill="none" stroke-linecap="butt" opacity="0.75"/><path d="M145 585 C 350 540 500 470 700 490 S 950 510 1080 515" stroke="#2a4e98" stroke-width="42" fill="none" stroke-linecap="butt"/><path d="M145 585 C 350 540 500 470 700 490 S 950 510 1080 515" stroke="#4274c8" stroke-width="30.24" fill="none" stroke-linecap="butt"/><path d="M145 585 C 350 540 500 470 700 490 S 950 510 1080 515" stroke="#a9c8f4" stroke-width="8.4" fill="none" stroke-linecap="butt" opacity="0.75"/><path d="M100 210 C 300 330 500 470 700 640 S 950 880 1075 965" stroke="#2a4e98" stroke-width="42" fill="none" stroke-linecap="butt"/><path d="M100 210 C 300 330 500 470 700 640 S 950 880 1075 965" stroke="#4274c8" stroke-width="30.24" fill="none" stroke-linecap="butt"/><path d="M100 210 C 300 330 500 470 700 640 S 950 880 1075 965" stroke="#a9c8f4" stroke-width="8.4" fill="none" stroke-linecap="butt" opacity="0.75"/><path d="M230 155 C 330 350 450 600 600 1010" stroke="#2a4e98" stroke-width="42" fill="none" stroke-linecap="butt"/><path d="M230 155 C 330 350 450 600 600 1010" stroke="#4274c8" stroke-width="30.24" fill="none" stroke-linecap="butt"/><path d="M230 155 C 330 350 450 600 600 1010" stroke="#a9c8f4" stroke-width="8.4" fill="none" stroke-linecap="butt" opacity="0.75"/><path d="M290 140 C 380 200 420 300 450 420 S 520 620 560 700" stroke="#2a4e98" stroke-width="42" fill="none" stroke-linecap="butt"/><path d="M290 140 C 380 200 420 300 450 420 S 520 620 560 700" stroke="#4274c8" stroke-width="30.24" fill="none" stroke-linecap="butt"/><path d="M290 140 C 380 200 420 300 450 420 S 520 620 560 700" stroke="#a9c8f4" stroke-width="8.4" fill="none" stroke-linecap="butt" opacity="0.75"/><path d="M385 130 C 430 250 480 380 540 520" stroke="#2a4e98" stroke-width="42" fill="none" stroke-linecap="butt"/><path d="M385 130 C 430 250 480 380 540 520" stroke="#4274c8" stroke-width="30.24" fill="none" stroke-linecap="butt"/><path d="M385 130 C 430 250 480 380 540 520" stroke="#a9c8f4" stroke-width="8.4" fill="none" stroke-linecap="butt" opacity="0.75"/><path d="M580 75 C 590 300 600 600 590 1020" stroke="#2a4e98" stroke-width="42" fill="none" stroke-linecap="butt"/><path d="M580 75 C 590 300 600 600 590 1020" stroke="#4274c8" stroke-width="30.24" fill="none" stroke-linecap="butt"/><path d="M580 75 C 590 300 600 600 590 1020" stroke="#a9c8f4" stroke-width="8.4" fill="none" stroke-linecap="butt" opacity="0.75"/><path d="M625 80 C 610 400 560 650 620 1000" stroke="#2a4e98" stroke-width="42" fill="none" stroke-linecap="butt"/><path d="M625 80 C 610 400 560 650 620 1000" stroke="#4274c8" stroke-width="30.24" fill="none" stroke-linecap="butt"/><path d="M625 80 C 610 400 560 650 620 1000" stroke="#a9c8f4" stroke-width="8.4" fill="none" stroke-linecap="butt" opacity="0.75"/><path d="M720 940 C 700 700 620 350 660 150 C 680 80 740 100 760 250 C 780 400 770 500 800 600" stroke="#2a4e98" stroke-width="42" fill="none" stroke-linecap="butt"/><path d="M720 940 C 700 700 620 350 660 150 C 680 80 740 100 760 250 C 780 400 770 500 800 600" stroke="#4274c8" stroke-width="30.24" fill="none" stroke-linecap="butt"/><path d="M720 940 C 700 700 620 350 660 150 C 680 80 740 100 760 250 C 780 400 770 500 800 600" stroke="#a9c8f4" stroke-width="8.4" fill="none" stroke-linecap="butt" opacity="0.75"/><path d="M785 80 C 770 200 760 400 800 500" stroke="#2a4e98" stroke-width="42" fill="none" stroke-linecap="butt"/><path d="M785 80 C 770 200 760 400 800 500" stroke="#4274c8" stroke-width="30.24" fill="none" stroke-linecap="butt"/><path d="M785 80 C 770 200 760 400 800 500" stroke="#a9c8f4" stroke-width="8.4" fill="none" stroke-linecap="butt" opacity="0.75"/><path d="M860 100 C 840 300 820 500 860 750 S 900 950 880 1000" stroke="#2a4e98" stroke-width="42" fill="none" stroke-linecap="butt"/><path d="M860 100 C 840 300 820 500 860 750 S 900 950 880 1000" stroke="#4274c8" stroke-width="30.24" fill="none" stroke-linecap="butt"/><path d="M860 100 C 840 300 820 500 860 750 S 900 950 880 1000" stroke="#a9c8f4" stroke-width="8.4" fill="none" stroke-linecap="butt" opacity="0.75"/><path d="M220 860 C 450 700 800 480 1075 345" stroke="#2a4e98" stroke-width="42" fill="none" stroke-linecap="butt"/><path d="M220 860 C 450 700 800 480 1075 345" stroke="#4274c8" stroke-width="30.24" fill="none" stroke-linecap="butt"/><path d="M220 860 C 450 700 800 480 1075 345" stroke="#a9c8f4" stroke-width="8.4" fill="none" stroke-linecap="butt" opacity="0.75"/><path d="M210 1000 C 400 880 700 720 980 660" stroke="#2a4e98" stroke-width="42" fill="none" stroke-linecap="butt"/><path d="M210 1000 C 400 880 700 720 980 660" stroke="#4274c8" stroke-width="30.24" fill="none" stroke-linecap="butt"/><path d="M210 1000 C 400 880 700 720 980 660" stroke="#a9c8f4" stroke-width="8.4" fill="none" stroke-linecap="butt" opacity="0.75"/><path d="M130 470 C 300 560 460 650 640 690 S 880 560 960 420" stroke="#2a4e98" stroke-width="42" fill="none" stroke-linecap="butt"/><path d="M130 470 C 300 560 460 650 640 690 S 880 560 960 420" stroke="#4274c8" stroke-width="30.24" fill="none" stroke-linecap="butt"/><path d="M130 470 C 300 560 460 650 640 690 S 880 560 960 420" stroke="#a9c8f4" stroke-width="8.4" fill="none" stroke-linecap="butt" opacity="0.75"/><path d="M970 260 C 960 500 900 800 810 990" stroke="#2a4e98" stroke-width="42" fill="none" stroke-linecap="butt"/><path d="M970 260 C 960 500 900 800 810 990" stroke="#4274c8" stroke-width="30.24" fill="none" stroke-linecap="butt"/><path d="M970 260 C 960 500 900 800 810 990" stroke="#a9c8f4" stroke-width="8.4" fill="none" stroke-linecap="butt" opacity="0.75"/><path d="M210 810 C 300 830 600 900 700 820 S 880 700 1050 900" stroke="#2a4e98" stroke-width="42" fill="none" stroke-linecap="butt"/><path d="M210 810 C 300 830 600 900 700 820 S 880 700 1050 900" stroke="#4274c8" stroke-width="30.24" fill="none" stroke-linecap="butt"/><path d="M210 810 C 300 830 600 900 700 820 S 880 700 1050 900" stroke="#a9c8f4" stroke-width="8.4" fill="none" stroke-linecap="butt" opacity="0.75"/><path d="M120 250 C 250 400 350 500 400 700 S 420 900 400 990" stroke="#2a4e98" stroke-width="42" fill="none" stroke-linecap="butt"/><path d="M120 250 C 250 400 350 500 400 700 S 420 900 400 990" stroke="#4274c8" stroke-width="30.24" fill="none" stroke-linecap="butt"/><path d="M120 250 C 250 400 350 500 400 700 S 420 900 400 990" stroke="#a9c8f4" stroke-width="8.4" fill="none" stroke-linecap="butt" opacity="0.75"/><path d="M900 500 C 1000 600 1000 800 1060 960" stroke="#2a4e98" stroke-width="42" fill="none" stroke-linecap="butt"/><path d="M900 500 C 1000 600 1000 800 1060 960" stroke="#4274c8" stroke-width="30.24" fill="none" stroke-linecap="butt"/><path d="M900 500 C 1000 600 1000 800 1060 960" stroke="#a9c8f4" stroke-width="8.4" fill="none" stroke-linecap="butt" opacity="0.75"/><path d="M290 600 C 290 750 330 850 400 870" stroke="#2a4e98" stroke-width="42" fill="none" stroke-linecap="butt"/><path d="M290 600 C 290 750 330 850 400 870" stroke="#4274c8" stroke-width="30.24" fill="none" stroke-linecap="butt"/><path d="M290 600 C 290 750 330 850 400 870" stroke="#a9c8f4" stroke-width="8.4" fill="none" stroke-linecap="butt" opacity="0.75"/><path d="M320 720 C 300 800 420 850 520 860" stroke="#2a4e98" stroke-width="42" fill="none" stroke-linecap="butt"/><path d="M320 720 C 300 800 420 850 520 860" stroke="#4274c8" stroke-width="30.24" fill="none" stroke-linecap="butt"/><path d="M320 720 C 300 800 420 850 520 860" stroke="#a9c8f4" stroke-width="8.4" fill="none" stroke-linecap="butt" opacity="0.75"/><path d="M820 650 C 850 800 900 900 830 990" stroke="#2a4e98" stroke-width="42" fill="none" stroke-linecap="butt"/><path d="M820 650 C 850 800 900 900 830 990" stroke="#4274c8" stroke-width="30.24" fill="none" stroke-linecap="butt"/><path d="M820 650 C 850 800 900 900 830 990" stroke="#a9c8f4" stroke-width="8.4" fill="none" stroke-linecap="butt" opacity="0.75"/><path d="M300 400 C 500 350 700 300 1000 380" stroke="#2a4e98" stroke-width="42" fill="none" stroke-linecap="butt"/><path d="M300 400 C 500 350 700 300 1000 380" stroke="#4274c8" stroke-width="30.24" fill="none" stroke-linecap="butt"/><path d="M300 400 C 500 350 700 300 1000 380" stroke="#a9c8f4" stroke-width="8.4" fill="none" stroke-linecap="butt" opacity="0.75"/><path d="M200 700 C 400 600 600 620 900 560" stroke="#2a4e98" stroke-width="42" fill="none" stroke-linecap="butt"/><path d="M200 700 C 400 600 600 620 900 560" stroke="#4274c8" stroke-width="30.24" fill="none" stroke-linecap="butt"/><path d="M200 700 C 400 600 600 620 900 560" stroke="#a9c8f4" stroke-width="8.4" fill="none" stroke-linecap="butt" opacity="0.75"/><path d="M500 200 C 520 500 480 800 520 1000" stroke="#2a4e98" stroke-width="42" fill="none" stroke-linecap="butt"/><path d="M500 200 C 520 500 480 800 520 1000" stroke="#4274c8" stroke-width="30.24" fill="none" stroke-linecap="butt"/><path d="M500 200 C 520 500 480 800 520 1000" stroke="#a9c8f4" stroke-width="8.4" fill="none" stroke-linecap="butt" opacity="0.75"/><path d="M150 650 C 400 700 600 600 750 500 S 900 300 1000 250" stroke="#2a4e98" stroke-width="42" fill="none" stroke-linecap="butt"/><path d="M150 650 C 400 700 600 600 750 500 S 900 300 1000 250" stroke="#4274c8" stroke-width="30.24" fill="none" stroke-linecap="butt"/><path d="M150 650 C 400 700 600 600 750 500 S 900 300 1000 250" stroke="#a9c8f4" stroke-width="8.4" fill="none" stroke-linecap="butt" opacity="0.75"/></g>
<g fill="#a01020"><circle cx="1131" cy="163.5" r="2.3"/><circle cx="1143.5" cy="171.5" r="2.3"/><circle cx="1121" cy="179" r="2.3"/><circle cx="1136" cy="193" r="2.3"/></g>
</g>
<g clip-path="url(#czL)"><g transform="translate(740 325) scale(0.15584)"><path d="M50 90 Q150 60 340 40" stroke="#2a4e98" stroke-width="48" fill="none" stroke-linecap="butt"/><path d="M50 90 Q150 60 340 40" stroke="#4274c8" stroke-width="34.56" fill="none" stroke-linecap="butt"/><path d="M50 90 Q150 60 340 40" stroke="#a9c8f4" stroke-width="9.600000000000001" fill="none" stroke-linecap="butt" opacity="0.75"/><path d="M50 140 C 200 300 400 480 600 620 S 900 950 1060 1110" stroke="#2a4e98" stroke-width="48" fill="none" stroke-linecap="butt"/><path d="M50 140 C 200 300 400 480 600 620 S 900 950 1060 1110" stroke="#4274c8" stroke-width="34.56" fill="none" stroke-linecap="butt"/><path d="M50 140 C 200 300 400 480 600 620 S 900 950 1060 1110" stroke="#a9c8f4" stroke-width="9.600000000000001" fill="none" stroke-linecap="butt" opacity="0.75"/><path d="M280 40 C 350 150 450 300 560 370 S 750 480 1095 520" stroke="#2a4e98" stroke-width="48" fill="none" stroke-linecap="butt"/><path d="M280 40 C 350 150 450 300 560 370 S 750 480 1095 520" stroke="#4274c8" stroke-width="34.56" fill="none" stroke-linecap="butt"/><path d="M280 40 C 350 150 450 300 560 370 S 750 480 1095 520" stroke="#a9c8f4" stroke-width="9.600000000000001" fill="none" stroke-linecap="butt" opacity="0.75"/><path d="M510 40 C 470 180 250 200 230 360 C 200 500 250 900 270 1110" stroke="#2a4e98" stroke-width="48" fill="none" stroke-linecap="butt"/><path d="M510 40 C 470 180 250 200 230 360 C 200 500 250 900 270 1110" stroke="#4274c8" stroke-width="34.56" fill="none" stroke-linecap="butt"/><path d="M510 40 C 470 180 250 200 230 360 C 200 500 250 900 270 1110" stroke="#a9c8f4" stroke-width="9.600000000000001" fill="none" stroke-linecap="butt" opacity="0.75"/><path d="M50 680 C 300 500 500 300 700 250 S 1000 180 1095 170" stroke="#2a4e98" stroke-width="48" fill="none" stroke-linecap="butt"/><path d="M50 680 C 300 500 500 300 700 250 S 1000 180 1095 170" stroke="#4274c8" stroke-width="34.56" fill="none" stroke-linecap="butt"/><path d="M50 680 C 300 500 500 300 700 250 S 1000 180 1095 170" stroke="#a9c8f4" stroke-width="9.600000000000001" fill="none" stroke-linecap="butt" opacity="0.75"/><path d="M820 40 C 830 200 810 350 730 480 S 560 720 580 830 S 650 1000 690 1110" stroke="#2a4e98" stroke-width="48" fill="none" stroke-linecap="butt"/><path d="M820 40 C 830 200 810 350 730 480 S 560 720 580 830 S 650 1000 690 1110" stroke="#4274c8" stroke-width="34.56" fill="none" stroke-linecap="butt"/><path d="M820 40 C 830 200 810 350 730 480 S 560 720 580 830 S 650 1000 690 1110" stroke="#a9c8f4" stroke-width="9.600000000000001" fill="none" stroke-linecap="butt" opacity="0.75"/><path d="M870 40 C 950 150 1050 300 1095 420" stroke="#2a4e98" stroke-width="48" fill="none" stroke-linecap="butt"/><path d="M870 40 C 950 150 1050 300 1095 420" stroke="#4274c8" stroke-width="34.56" fill="none" stroke-linecap="butt"/><path d="M870 40 C 950 150 1050 300 1095 420" stroke="#a9c8f4" stroke-width="9.600000000000001" fill="none" stroke-linecap="butt" opacity="0.75"/><path d="M50 720 C 250 780 450 880 600 890 S 900 850 1095 720" stroke="#2a4e98" stroke-width="48" fill="none" stroke-linecap="butt"/><path d="M50 720 C 250 780 450 880 600 890 S 900 850 1095 720" stroke="#4274c8" stroke-width="34.56" fill="none" stroke-linecap="butt"/><path d="M50 720 C 250 780 450 880 600 890 S 900 850 1095 720" stroke="#a9c8f4" stroke-width="9.600000000000001" fill="none" stroke-linecap="butt" opacity="0.75"/><path d="M50 830 C 100 900 160 1000 170 1110" stroke="#2a4e98" stroke-width="48" fill="none" stroke-linecap="butt"/><path d="M50 830 C 100 900 160 1000 170 1110" stroke="#4274c8" stroke-width="34.56" fill="none" stroke-linecap="butt"/><path d="M50 830 C 100 900 160 1000 170 1110" stroke="#a9c8f4" stroke-width="9.600000000000001" fill="none" stroke-linecap="butt" opacity="0.75"/><path d="M700 1110 C 800 1070 950 1030 1095 1010" stroke="#2a4e98" stroke-width="48" fill="none" stroke-linecap="butt"/><path d="M700 1110 C 800 1070 950 1030 1095 1010" stroke="#4274c8" stroke-width="34.56" fill="none" stroke-linecap="butt"/><path d="M700 1110 C 800 1070 950 1030 1095 1010" stroke="#a9c8f4" stroke-width="9.600000000000001" fill="none" stroke-linecap="butt" opacity="0.75"/><path d="M1000 40 Q1050 50 1095 60" stroke="#2a4e98" stroke-width="48" fill="none" stroke-linecap="butt"/><path d="M1000 40 Q1050 50 1095 60" stroke="#4274c8" stroke-width="34.56" fill="none" stroke-linecap="butt"/><path d="M1000 40 Q1050 50 1095 60" stroke="#a9c8f4" stroke-width="9.600000000000001" fill="none" stroke-linecap="butt" opacity="0.75"/></g></g>
<g clip-path="url(#czR)"><g transform="translate(1050 325) scale(0.15584)"><path d="M40 300 C 200 230 400 190 600 200 S 900 230 1095 280" stroke="#1f3d78" stroke-width="98" fill="none" stroke-linecap="butt"/><path d="M40 300 C 200 230 400 190 600 200 S 900 230 1095 280" stroke="#4274c8" stroke-width="70.56" fill="none" stroke-linecap="butt"/><path d="M40 300 C 200 230 400 190 600 200 S 900 230 1095 280" stroke="#a9c8f4" stroke-width="15" fill="none" stroke-linecap="butt" opacity="0.75"/><path d="M250 40 C 300 200 400 300 500 350 S 800 380 1095 480" stroke="#1f3d78" stroke-width="98" fill="none" stroke-linecap="butt"/><path d="M250 40 C 300 200 400 300 500 350 S 800 380 1095 480" stroke="#4274c8" stroke-width="70.56" fill="none" stroke-linecap="butt"/><path d="M250 40 C 300 200 400 300 500 350 S 800 380 1095 480" stroke="#a9c8f4" stroke-width="15" fill="none" stroke-linecap="butt" opacity="0.75"/><path d="M40 300 C 150 450 350 650 550 850 S 700 1050 750 1110" stroke="#1f3d78" stroke-width="98" fill="none" stroke-linecap="butt"/><path d="M40 300 C 150 450 350 650 550 850 S 700 1050 750 1110" stroke="#4274c8" stroke-width="70.56" fill="none" stroke-linecap="butt"/><path d="M40 300 C 150 450 350 650 550 850 S 700 1050 750 1110" stroke="#a9c8f4" stroke-width="15" fill="none" stroke-linecap="butt" opacity="0.75"/><path d="M200 700 C 220 850 250 1000 250 1110" stroke="#1f3d78" stroke-width="98" fill="none" stroke-linecap="butt"/><path d="M200 700 C 220 850 250 1000 250 1110" stroke="#4274c8" stroke-width="70.56" fill="none" stroke-linecap="butt"/><path d="M200 700 C 220 850 250 1000 250 1110" stroke="#a9c8f4" stroke-width="15" fill="none" stroke-linecap="butt" opacity="0.75"/><path d="M600 40 C 650 150 700 250 780 330 S 950 450 1000 600 S 1080 900 1060 1110" stroke="#1f3d78" stroke-width="98" fill="none" stroke-linecap="butt"/><path d="M600 40 C 650 150 700 250 780 330 S 950 450 1000 600 S 1080 900 1060 1110" stroke="#4274c8" stroke-width="70.56" fill="none" stroke-linecap="butt"/><path d="M600 40 C 650 150 700 250 780 330 S 950 450 1000 600 S 1080 900 1060 1110" stroke="#a9c8f4" stroke-width="15" fill="none" stroke-linecap="butt" opacity="0.75"/><path d="M40 950 Q 80 1050 100 1110" stroke="#1f3d78" stroke-width="98" fill="none" stroke-linecap="butt"/><path d="M40 950 Q 80 1050 100 1110" stroke="#4274c8" stroke-width="70.56" fill="none" stroke-linecap="butt"/><path d="M40 950 Q 80 1050 100 1110" stroke="#a9c8f4" stroke-width="15" fill="none" stroke-linecap="butt" opacity="0.75"/><path d="M1070 100 Q 1095 300 1095 500" stroke="#1f3d78" stroke-width="98" fill="none" stroke-linecap="butt"/><path d="M1070 100 Q 1095 300 1095 500" stroke="#4274c8" stroke-width="70.56" fill="none" stroke-linecap="butt"/><path d="M1070 100 Q 1095 300 1095 500" stroke="#a9c8f4" stroke-width="15" fill="none" stroke-linecap="butt" opacity="0.75"/><path d="M40 50 Q 500 30 1095 60" stroke="#1f3d78" stroke-width="98" fill="none" stroke-linecap="butt"/><path d="M40 50 Q 500 30 1095 60" stroke="#4274c8" stroke-width="70.56" fill="none" stroke-linecap="butt"/><path d="M40 50 Q 500 30 1095 60" stroke="#a9c8f4" stroke-width="15" fill="none" stroke-linecap="butt" opacity="0.75"/><path d="M480 40 C 500 150 480 280 420 340 C 300 420 250 450 230 520" stroke="#1f3d78" stroke-width="98" fill="none" stroke-linecap="butt"/><path d="M480 40 C 500 150 480 280 420 340 C 300 420 250 450 230 520" stroke="#4274c8" stroke-width="70.56" fill="none" stroke-linecap="butt"/><path d="M480 40 C 500 150 480 280 420 340 C 300 420 250 450 230 520" stroke="#a9c8f4" stroke-width="15" fill="none" stroke-linecap="butt" opacity="0.75"/><path d="M740 40 C 750 200 740 350 720 500 S 620 800 570 960 L 540 1110" stroke="#1f3d78" stroke-width="98" fill="none" stroke-linecap="butt"/><path d="M740 40 C 750 200 740 350 720 500 S 620 800 570 960 L 540 1110" stroke="#4274c8" stroke-width="70.56" fill="none" stroke-linecap="butt"/><path d="M740 40 C 750 200 740 350 720 500 S 620 800 570 960 L 540 1110" stroke="#a9c8f4" stroke-width="15" fill="none" stroke-linecap="butt" opacity="0.75"/><path d="M40 680 C 200 600 400 500 600 450 S 900 420 1095 440" stroke="#1f3d78" stroke-width="98" fill="none" stroke-linecap="butt"/><path d="M40 680 C 200 600 400 500 600 450 S 900 420 1095 440" stroke="#4274c8" stroke-width="70.56" fill="none" stroke-linecap="butt"/><path d="M40 680 C 200 600 400 500 600 450 S 900 420 1095 440" stroke="#a9c8f4" stroke-width="15" fill="none" stroke-linecap="butt" opacity="0.75"/><path d="M40 780 C 300 850 450 950 570 960 S 900 900 1095 680" stroke="#1f3d78" stroke-width="98" fill="none" stroke-linecap="butt"/><path d="M40 780 C 300 850 450 950 570 960 S 900 900 1095 680" stroke="#4274c8" stroke-width="70.56" fill="none" stroke-linecap="butt"/><path d="M40 780 C 300 850 450 950 570 960 S 900 900 1095 680" stroke="#a9c8f4" stroke-width="15" fill="none" stroke-linecap="butt" opacity="0.75"/></g>
<circle cx="1120.9" cy="366.3" r="6" fill="url(#joint)"/><circle cx="1165.3" cy="392.8" r="6" fill="url(#joint)"/><circle cx="1085.1" cy="420.8" r="6" fill="url(#joint)"/><circle cx="1138" cy="474.6" r="6" fill="url(#joint)"/>
</g>
<rect x="747" y="331" width="165" height="169" fill="none" stroke="#f0c444" stroke-width="2"/>
<rect x="1056" y="331" width="165" height="169" fill="none" stroke="#f0c444" stroke-width="2"/>
<g stroke="#f5b000" stroke-width="3.8" fill="none" stroke-dasharray="9 5">
<rect x="800" y="152" width="57" height="62"/>
<rect x="1113" y="153" width="46" height="50"/>
</g>
<g stroke="#f5b000" stroke-width="3.2" fill="none" stroke-dasharray="8 5">
<path d="M799 214 L747 331"/><path d="M857 214 L912 331"/>
</g>
<path d="M923.3 574.9 C 950 577 985 584 1003.7 585 C 1012 584 1014 572 1021 572.6 C 1032 573 1055 593 1070.7 599.4 C 1080 603 1090 600 1093 591.4" stroke="#2b4f96" stroke-width="5.5" fill="none"/>
<path d="M923.3 574.9 C 950 577 985 584 1003.7 585 C 1012 584 1014 572 1021 572.6 C 1032 573 1055 593 1070.7 599.4 C 1080 603 1090 600 1093 591.4" stroke="#4a7ac8" stroke-width="3.5" fill="none"/>
<ellipse cx="1136" cy="589" rx="9" ry="10.5" fill="url(#joint)"/>

<!-- (c) box -->
<rect x="120" y="717" width="474" height="408" fill="none" stroke="#222" stroke-width="2"/>

<!-- CHEM -->
<g stroke="#2a2a2a" fill="none"><polygon points="175.20,775.00 190.60,748.33 221.40,748.33 236.80,775.00 221.40,801.67 190.60,801.67" fill="none" stroke-width="1.5" stroke-linejoin="miter"/><line x1="195.53" y1="752.53" x2="216.47" y2="752.53" stroke-width="1.5"/><line x1="230.70" y1="777.17" x2="220.23" y2="795.31" stroke-width="1.5"/><line x1="191.77" y1="795.31" x2="181.30" y2="777.17" stroke-width="1.5"/><polygon points="299.20,775.00 314.60,748.33 345.40,748.33 360.80,775.00 345.40,801.67 314.60,801.67" fill="none" stroke-width="1.5" stroke-linejoin="miter"/><line x1="319.53" y1="752.53" x2="340.47" y2="752.53" stroke-width="1.5"/><line x1="354.70" y1="777.17" x2="344.23" y2="795.31" stroke-width="1.5"/><line x1="315.77" y1="795.31" x2="305.30" y2="777.17" stroke-width="1.5"/><line x1="153.50" y1="775.00" x2="175.20" y2="775.00" stroke-width="1.5"/><line x1="236.80" y1="775.00" x2="261.50" y2="775.00" stroke-width="1.5"/><line x1="273.50" y1="775.00" x2="299.20" y2="775.00" stroke-width="1.5"/><line x1="360.80" y1="775.00" x2="384.00" y2="775.00" stroke-width="1.5"/><line x1="435.00" y1="776.20" x2="455.60" y2="776.20" stroke-width="2.2"/><line x1="445.30" y1="766.20" x2="445.30" y2="786.20" stroke-width="2.2"/><line x1="514.60" y1="759.80" x2="495.50" y2="774.50" stroke-width="1.5"/><line x1="514.60" y1="759.80" x2="531.00" y2="774.00" stroke-width="1.5"/><line x1="495.50" y1="786.50" x2="514.60" y2="802.50" stroke-width="1.5"/><line x1="514.60" y1="802.50" x2="531.00" y2="788.00" stroke-width="1.5"/><line x1="545.00" y1="774.00" x2="558.70" y2="758.40" stroke-width="1.5"/><line x1="558.70" y1="758.40" x2="577.50" y2="772.50" stroke-width="1.5"/><line x1="545.00" y1="787.00" x2="561.60" y2="801.10" stroke-width="1.5"/><line x1="561.60" y1="801.10" x2="577.50" y2="784.50" stroke-width="1.5"/><line x1="513.00" y1="759.80" x2="513.00" y2="736.30" stroke-width="1.3"/><line x1="516.20" y1="759.80" x2="516.20" y2="736.30" stroke-width="1.3"/><line x1="513.00" y1="802.50" x2="513.00" y2="827.40" stroke-width="1.3"/><line x1="516.20" y1="802.50" x2="516.20" y2="827.40" stroke-width="1.3"/><line x1="557.20" y1="758.40" x2="556.00" y2="735.00" stroke-width="1.3"/><line x1="560.40" y1="758.40" x2="559.20" y2="735.00" stroke-width="1.3"/><line x1="560.00" y1="801.10" x2="561.00" y2="826.00" stroke-width="1.3"/><line x1="563.20" y1="801.10" x2="564.20" y2="826.00" stroke-width="1.3"/><line x1="370.00" y1="833.00" x2="370.00" y2="881.00" stroke-width="1.5"/><path d="M366.5 875 L370 885 L373.5 875" fill="none" stroke-width="1.5"/><polygon points="234.05,947.40 249.25,921.07 279.65,921.07 294.85,947.40 279.65,973.73 249.25,973.73" fill="none" stroke-width="1.5" stroke-linejoin="miter"/><line x1="240.12" y1="945.29" x2="250.46" y2="927.39" stroke-width="1.5"/><line x1="278.44" y1="927.39" x2="288.78" y2="945.29" stroke-width="1.5"/><line x1="274.79" y1="969.53" x2="254.11" y2="969.53" stroke-width="1.5"/><polygon points="357.50,947.40 372.70,921.07 403.10,921.07 418.30,947.40 403.10,973.73 372.70,973.73" fill="none" stroke-width="1.5" stroke-linejoin="miter"/><line x1="377.56" y1="925.27" x2="398.24" y2="925.27" stroke-width="1.5"/><line x1="412.23" y1="949.51" x2="401.89" y2="967.41" stroke-width="1.5"/><line x1="373.91" y1="967.41" x2="363.57" y2="949.51" stroke-width="1.5"/><line x1="208.00" y1="948.00" x2="234.10" y2="948.00" stroke-width="1.5"/><line x1="294.80" y1="948.00" x2="318.50" y2="948.00" stroke-width="1.5"/><line x1="334.00" y1="948.00" x2="357.50" y2="948.00" stroke-width="1.5"/><line x1="418.30" y1="948.40" x2="442.00" y2="948.40" stroke-width="1.5"/><path d="M229.6 889.2 H220 V1015.7 H229.6" fill="none" stroke-width="1.6"/><path d="M496.4 894.4 H505.2 V1021.3 H496.4" fill="none" stroke-width="1.6"/><line x1="458.10" y1="944.00" x2="478.70" y2="936.70" stroke-width="1.5"/><line x1="476.80" y1="936.70" x2="476.10" y2="913.90" stroke-width="1.3"/><line x1="480.20" y1="936.70" x2="479.50" y2="913.90" stroke-width="1.3"/><line x1="478.70" y1="936.70" x2="492.00" y2="950.70" stroke-width="1.5"/><line x1="492.70" y1="966.10" x2="483.20" y2="985.20" stroke-width="1.5"/><line x1="459.60" y1="980.10" x2="483.20" y2="985.20" stroke-width="1.5"/><line x1="481.40" y1="985.20" x2="480.60" y2="1009.50" stroke-width="1.3"/><line x1="484.80" y1="985.20" x2="484.00" y2="1009.50" stroke-width="1.3"/><line x1="505.20" y1="949.20" x2="520.70" y2="934.50" stroke-width="1.5"/><line x1="520.70" y1="934.50" x2="538.50" y2="949.00" stroke-width="1.5"/><line x1="505.20" y1="966.80" x2="520.70" y2="980.80" stroke-width="1.5"/><line x1="520.70" y1="980.80" x2="538.50" y2="962.00" stroke-width="1.5"/><line x1="519.00" y1="934.50" x2="519.00" y2="910.90" stroke-width="1.3"/><line x1="522.40" y1="934.50" x2="522.40" y2="910.90" stroke-width="1.3"/><line x1="519.00" y1="980.80" x2="519.00" y2="1006.60" stroke-width="1.3"/><line x1="522.40" y1="980.80" x2="522.40" y2="1006.60" stroke-width="1.3"/><line x1="219.00" y1="1084.00" x2="240.00" y2="1084.00" stroke-width="2"/><line x1="219.00" y1="1092.50" x2="240.00" y2="1092.50" stroke-width="2"/><polygon points="292.00,1059.00 318.41,1074.25 318.41,1104.75 292.00,1120.00 265.59,1104.75 265.59,1074.25" fill="none" stroke-width="1.5" stroke-linejoin="miter"/><line x1="314.21" y1="1079.13" x2="314.21" y2="1099.87" stroke-width="1.5"/><line x1="289.87" y1="1113.92" x2="271.91" y2="1103.55" stroke-width="1.5"/><line x1="271.91" y1="1075.45" x2="289.87" y2="1065.08" stroke-width="1.5"/><polygon points="420.30,1060.50 446.71,1075.75 446.71,1106.25 420.30,1121.50 393.89,1106.25 393.89,1075.75" fill="none" stroke-width="1.5" stroke-linejoin="miter"/><line x1="442.51" y1="1080.63" x2="442.51" y2="1101.37" stroke-width="1.5"/><line x1="418.17" y1="1115.42" x2="400.21" y2="1105.05" stroke-width="1.5"/><line x1="400.21" y1="1076.95" x2="418.17" y2="1066.58" stroke-width="1.5"/><polygon points="504.40,1060.50 530.81,1075.75 530.81,1106.25 504.40,1121.50 477.99,1106.25 477.99,1075.75" fill="none" stroke-width="1.5" stroke-linejoin="miter"/><line x1="524.49" y1="1105.05" x2="506.53" y2="1115.42" stroke-width="1.5"/><line x1="482.19" y1="1101.37" x2="482.19" y2="1080.63" stroke-width="1.5"/><line x1="506.53" y1="1066.58" x2="524.49" y2="1076.95" stroke-width="1.5"/><line x1="446.70" y1="1075.75" x2="478.00" y2="1075.75" stroke-width="1.5"/></g>
<g font-family="Liberation Serif" fill="#000" stroke="#000" stroke-width="0.25"><text x="138.5" y="780.8" font-size="17" text-anchor="middle" font-weight="bold">H<tspan font-size="10" dy="3">2</tspan><tspan dy="-3">N</tspan></text><text x="400" y="780.8" font-size="17" text-anchor="middle" font-weight="bold">NH<tspan font-size="10" dy="3">2</tspan></text><text x="267.5" y="780.5" font-size="17" text-anchor="middle" font-weight="normal">O</text><text x="274.5" y="829.5" font-size="17" text-anchor="middle" font-weight="bold">(ODA)</text><text x="514.6" y="734.5" font-size="17" text-anchor="middle" font-weight="bold">O</text><text x="514.6" y="839" font-size="17" text-anchor="middle" font-weight="bold">O</text><text x="557.3" y="733" font-size="17" text-anchor="middle" font-weight="bold">O</text><text x="562.3" y="837.6" font-size="17" text-anchor="middle" font-weight="bold">O</text><text x="489" y="785.8" font-size="17" text-anchor="middle" font-weight="bold">O</text><text x="538.1" y="785.8" font-size="17" text-anchor="middle" font-weight="bold">R</text><text x="583.6" y="783.6" font-size="17" text-anchor="middle" font-weight="bold">O</text><text x="193.1" y="953.6" font-size="17" text-anchor="middle" font-weight="bold">H<tspan font-size="10" dy="3">2</tspan><tspan dy="-3">N</tspan></text><text x="326.2" y="953.6" font-size="17" text-anchor="middle" font-weight="bold">O</text><text x="449.3" y="953.6" font-size="17" text-anchor="middle" font-weight="bold">N</text><text x="450.2" y="966" font-size="15" text-anchor="middle" font-weight="bold">H</text><text x="477.3" y="911" font-size="17" text-anchor="middle" font-weight="bold">O</text><text x="497.5" y="964" font-size="17" text-anchor="middle" font-weight="bold">R</text><text x="446" y="983.8" font-size="17" text-anchor="middle" font-weight="bold">HO</text><text x="482.4" y="1021.5" font-size="17" text-anchor="middle" font-weight="bold">O</text><text x="512.6" y="1020" font-size="15.5" text-anchor="middle" font-weight="bold">n</text><text x="520.7" y="908.8" font-size="17" text-anchor="middle" font-weight="bold">O</text><text x="545.7" y="960.4" font-size="17" text-anchor="middle" font-weight="bold">O</text><text x="520.7" y="1017" font-size="17" text-anchor="middle" font-weight="bold">O</text><text x="373.5" y="1038.3" font-size="17" text-anchor="middle" font-weight="bold">(PAA)</text><text x="198.6" y="1098.5" font-size="23" text-anchor="start" font-weight="bold">R</text><text x="356" y="1097.6" font-size="23" text-anchor="middle" font-weight="bold">or</text></g>
<!-- (d) frame -->
<defs>
<linearGradient id="bluephoto" x1="0" y1="0" x2="0" y2="1">
<stop offset="0" stop-color="#55c0ec"/><stop offset="0.45" stop-color="#3ea6de"/><stop offset="1" stop-color="#3898d6"/>
</linearGradient>
<linearGradient id="bluephoto2" x1="0" y1="0" x2="0" y2="1">
<stop offset="0" stop-color="#3ea6de"/><stop offset="1" stop-color="#3a9cd8"/>
</linearGradient>
<linearGradient id="cyanphoto" x1="0" y1="0" x2="0" y2="1">
<stop offset="0" stop-color="#50d8f4"/><stop offset="0.6" stop-color="#47caef"/><stop offset="1" stop-color="#48c2ec"/>
</linearGradient>
<linearGradient id="glove" x1="0" y1="0" x2="1" y2="1">
<stop offset="0" stop-color="#f4eedd"/><stop offset="1" stop-color="#e6dcc2"/>
</linearGradient>
<linearGradient id="spindle" x1="0" y1="0" x2="1" y2="0">
<stop offset="0" stop-color="#888"/><stop offset="0.5" stop-color="#eee"/><stop offset="1" stop-color="#777"/>
</linearGradient>
<clipPath id="dclip"><rect x="756" y="758" width="450" height="340"/></clipPath>
</defs>
<rect x="756" y="757.6" width="450" height="340.4" fill="#3a9bd8"/>
<g clip-path="url(#dclip)">
<rect x="756" y="758" width="226" height="170" fill="url(#bluephoto)"/>
<rect x="756" y="928" width="226" height="170" fill="url(#bluephoto2)"/>
<rect x="982" y="758" width="224" height="340" fill="url(#cyanphoto)"/>
<!-- hand 1 -->
<path d="M773 928 L786 884.3 Q792 868 794.8 858.3 L800 814.8 Q802 800 805.2 796.5 Q810 794 815.7 795.7 Q820 799 821.7 806.1 L824.3 827 L825.2 867 L829.6 901.7 L833 919.1 L857.4 894.8 L881.7 870.4 L902.6 849.6 L916.5 830.4 L933.9 818.3 L942.6 806.1 Q948 804 954.8 807.8 Q960 813 961.7 825.2 L960 849.6 L951.3 884.3 L947.8 905.2 L942.6 928 Z" fill="url(#glove)"/>
<path d="M857.4 894.8 L881.7 870.4 L902.6 849.6 L916.5 830.4 L928 826 L922 860 L905 888 L885 915 L868 928 L845 928 Z" fill="#d9c7a2" opacity="0.55"/>
<path d="M806 812.2 L946.1 815.7 Q948.5 821 946.1 827 L806 823.5 Q803.5 818 806 812.2 Z" fill="#f4e024"/>
<path d="M806 820.5 L946.5 823.5 L946.1 827 L806 823.5 Z" fill="#dcc218"/>
<!-- hand 2 -->
<path d="M768 1098 L770.7 1093.3 L783.1 1063.1 L786.7 1032.8 L790.2 993.7 Q792 978 795.6 974.1 Q800 969 806 968.8 Q812 969.5 813.4 970.6 Q818 975 821.4 983 L827.6 1002.6 L828.5 1023.9 L831.2 1050.6 L834.7 1066.6 L873.8 1043.5 L900.5 1022.2 L920.1 1000.8 L936 1004 L936.1 986.6 Q940 977 946.8 975.9 L961 979.5 Q968 985 971.7 995.5 L975.2 1023.9 L980.6 1050.6 L980.6 1098 Z" fill="url(#glove)"/>
<path d="M873.8 1043.5 L900.5 1022.2 L920.1 1000.8 L936 1004 L950 1030 L930 1060 L905 1080 L880 1098 L860 1098 L850 1060 Z" fill="#d9cbb0" opacity="0.45"/>
<path d="M814.5 996 Q876 928 941 997 Q942 1004 936 1008 Q876 955 823 1006 Q815 1004 814.5 996 Z" fill="#f2df2a"/>
<!-- gauge -->
<path d="M1120 945 Q1130 895 1160 898 L1172 905 L1170 915 Q1150 910 1140 930 L1133 950 Z" fill="#111"/>
<path d="M1050 853 Q1075 843 1110 860 L1142 866 Q1165 866 1180 872 L1176 877 Q1150 878 1130 874 L1112 870 Z" fill="#1d2430"/>
<circle cx="1076" cy="843" r="3" fill="#888"/>
<ellipse cx="1074.9" cy="897.5" rx="50" ry="47.6" fill="#1a2230"/>
<ellipse cx="1074.9" cy="896" rx="46" ry="43" fill="#202a3a"/>
<rect x="1038" y="879" width="75.3" height="30.8" rx="2" fill="#b9c5bc" stroke="#3a4450" stroke-width="1.2"/>
<text x="1043" y="906" font-family="Liberation Mono" font-size="27" fill="#1a1a1a" transform="translate(1043 906) scale(0.8 1) translate(-1043 -906)" letter-spacing="-1">4546</text>
<g fill="#34404e"><rect x="1048" y="920" width="15" height="10" rx="3"/><rect x="1067" y="920" width="13" height="11" rx="3"/><rect x="1086" y="919" width="15" height="10" rx="3"/></g>
<path d="M1124 952 Q1126 908 1148 901 Q1168 897 1180 912" stroke="#111" stroke-width="11" fill="none"/>
<path d="M1050 949 H1140 Q1150 952 1155 990 L1165 1060 Q1165 1073 1150 1073 H1070 Q1062 1073 1062 1062 V1043 H1122 L1118 981.5 H1050 Z" fill="#111"/>
<circle cx="1059" cy="963" r="3" fill="#777"/>
<rect x="1091.8" y="959" width="33.8" height="9.2" fill="#f0f0f0"/>
<rect x="1073" y="981" width="7" height="62" fill="url(#spindle)"/>
<g fill="url(#glove)">
<ellipse cx="1182" cy="898" rx="26" ry="14"/>
<rect x="1136" y="905" width="75" height="25" rx="12"/>
<rect x="1131" y="929" width="80" height="26" rx="12"/>
<rect x="1134" y="954" width="77" height="26" rx="12"/>
<rect x="1142" y="979" width="69" height="26" rx="12"/>
<rect x="1178" y="995" width="30" height="52" rx="10"/>
</g>
<path d="M1150 1010 Q1165 1010 1172 1030 L1165 1062 L1150 1060 Z" fill="#111"/>
<path d="M999.6 1033 L1122 1031 L1122 1041 L999.6 1042 Z" fill="#e6d83a"/>
<rect x="1072" y="1029" width="9" height="15" fill="#bbb"/>
</g>
<rect x="756" y="757.6" width="450" height="340.4" fill="none" stroke="#5f6870" stroke-width="2"/>
<rect x="757" y="758.6" width="448" height="1.5" fill="#a8dcea"/>
<rect x="756" y="1096.5" width="450" height="2" fill="#f4f4f4"/>
</svg>
</body></html>
